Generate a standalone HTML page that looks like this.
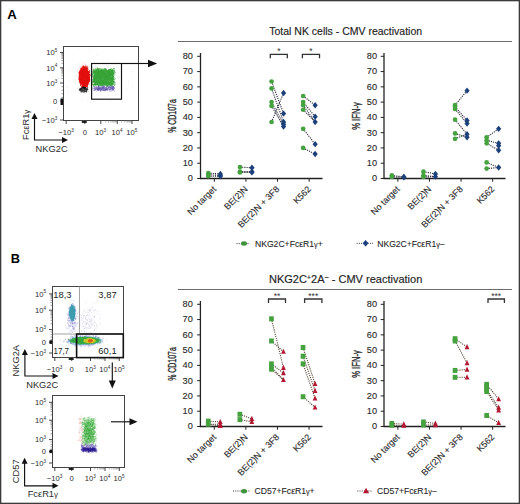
<!DOCTYPE html>
<html><head><meta charset="utf-8"><style>
html,body{margin:0;padding:0;background:#fff;width:520px;height:504px;overflow:hidden}
svg{display:block;font-family:"Liberation Sans", sans-serif}
</style></head><body>
<svg width="520" height="504" viewBox="0 0 520 504">
<defs><filter id="bl" x="-10%" y="-10%" width="120%" height="120%"><feGaussianBlur stdDeviation="0.45"/></filter><filter id="bl2" x="-10%" y="-10%" width="120%" height="120%"><feGaussianBlur stdDeviation="0.3"/></filter></defs>
<rect x="0.65" y="0.65" width="518.7" height="502.7" fill="none" stroke="#3a3a3a" stroke-width="1.3"/>
<text x="7.3" y="19.4" font-size="13.2" font-weight="bold" fill="#000">A</text>
<text x="10.8" y="262.9" font-size="12.8" font-weight="bold" fill="#000">B</text>
<path d="M85.2 71.2h.1M81.1 79.1h.1M107.7 66.3h.1M97.4 72.0h.1M116.9 67.7h.1M103.7 80.4h.1M105.5 91.0h.1M93.1 66.7h.1M76.9 68.2h.1M132.5 70.7h.1M96.3 94.7h.1M78.8 85.9h.1M118.0 62.4h.1M75.9 83.1h.1M90.7 70.5h.1M105.4 83.2h.1M97.8 88.9h.1M97.6 95.0h.1M102.3 77.4h.1M87.7 88.7h.1M98.5 72.5h.1M92.0 78.7h.1M106.1 84.5h.1M81.4 99.5h.1M87.7 85.7h.1M87.5 82.0h.1M112.3 71.1h.1M106.8 65.2h.1M126.3 88.3h.1M68.9 69.0h.1M101.8 89.3h.1M95.6 66.9h.1M98.6 72.9h.1M103.0 63.3h.1M110.3 100.7h.1M117.5 91.1h.1M98.1 102.8h.1M74.3 53.7h.1M125.6 83.4h.1M132.1 77.0h.1M78.0 87.8h.1M85.5 64.2h.1M93.0 47.8h.1M102.7 60.2h.1M107.6 59.7h.1M66.8 87.2h.1M108.1 74.6h.1M74.3 83.4h.1M118.5 73.1h.1M84.4 78.3h.1M54.7 70.5h.1M105.9 90.2h.1M112.5 83.3h.1M104.3 79.5h.1M89.7 70.4h.1M67.1 90.8h.1M93.0 69.2h.1M118.1 78.2h.1M93.9 101.2h.1M64.4 92.2h.1M68.6 87.2h.1M119.1 77.0h.1M104.1 68.6h.1M118.2 78.0h.1M99.0 77.2h.1M89.6 50.0h.1M97.2 97.9h.1M90.7 76.4h.1M82.6 81.9h.1M83.4 70.0h.1M132.5 86.6h.1M70.7 72.0h.1M89.9 66.2h.1M63.1 81.2h.1M96.6 54.8h.1M130.8 71.8h.1M92.1 77.5h.1M87.3 100.1h.1M95.4 63.9h.1M121.5 83.9h.1M102.3 70.5h.1M98.8 55.9h.1M69.5 80.1h.1M77.5 88.6h.1M77.7 70.5h.1M93.6 76.6h.1M113.9 70.3h.1M91.5 94.1h.1M128.6 81.5h.1M91.3 63.8h.1M108.8 85.7h.1M119.8 77.5h.1M93.0 70.2h.1M91.0 102.4h.1M115.2 94.0h.1M93.8 84.2h.1M93.5 77.6h.1M84.5 83.9h.1M68.3 91.0h.1M110.3 102.4h.1" stroke="#aaa" stroke-width="0.6" stroke-opacity="0.35" stroke-linecap="round" filter="url(#bl2)"/>
<path d="M80.3 72.3h.1M84.8 82.9h.1M80.6 91.3h.1M87.9 75.6h.1M83.8 72.0h.1M79.2 80.3h.1M83.5 70.0h.1M89.5 71.3h.1M82.6 68.3h.1M87.1 79.0h.1M78.8 75.2h.1M87.2 75.3h.1M92.4 84.9h.1M84.0 71.0h.1M79.9 79.8h.1M87.9 70.8h.1M79.9 83.3h.1M90.8 74.7h.1M86.9 67.4h.1M81.6 75.8h.1M87.0 69.4h.1M81.6 79.4h.1M85.0 64.6h.1M88.5 82.9h.1M82.7 75.0h.1M86.7 72.8h.1M78.3 72.1h.1M79.6 63.8h.1M89.1 75.6h.1M82.4 80.4h.1M87.5 85.6h.1M81.1 75.5h.1M80.3 66.9h.1M87.5 69.1h.1M82.5 79.7h.1M90.3 78.9h.1M79.7 73.1h.1M79.0 76.6h.1M87.8 77.7h.1M82.2 75.1h.1M92.8 79.2h.1M84.4 75.9h.1M81.5 87.0h.1M81.3 77.9h.1M87.1 80.6h.1M86.4 78.0h.1M81.2 70.3h.1M80.2 78.0h.1M90.4 71.4h.1M86.4 70.9h.1M83.1 80.6h.1M81.0 68.4h.1M89.8 73.4h.1M85.3 79.8h.1M87.9 81.7h.1M81.7 72.5h.1M80.7 79.5h.1M87.8 68.6h.1M80.2 67.7h.1M84.5 81.9h.1M88.8 78.4h.1M88.1 72.7h.1M86.2 74.4h.1M79.0 75.5h.1M89.8 84.5h.1M83.4 76.1h.1M85.1 84.2h.1M86.8 78.3h.1M91.3 71.2h.1M81.8 88.3h.1M89.3 71.8h.1M80.7 83.2h.1M82.1 71.8h.1M79.8 75.9h.1M84.7 87.5h.1M81.8 72.3h.1M87.5 79.4h.1M85.7 73.2h.1M84.4 77.0h.1M84.9 89.6h.1M83.8 69.5h.1M79.7 66.6h.1M84.0 65.9h.1M82.8 64.1h.1M90.6 68.9h.1M83.6 66.2h.1M86.6 75.4h.1M86.7 84.9h.1M88.8 76.0h.1M83.1 71.9h.1M80.3 74.7h.1M85.6 79.4h.1M82.9 70.1h.1M84.8 84.8h.1M81.4 72.2h.1M87.8 71.6h.1M88.0 74.4h.1M86.1 73.5h.1M79.0 82.6h.1M86.2 86.0h.1M85.0 66.7h.1M85.3 81.9h.1M75.6 69.9h.1M82.3 78.4h.1M85.8 72.6h.1M83.9 78.8h.1M81.5 77.2h.1M82.6 84.2h.1M89.9 81.1h.1M80.9 78.8h.1M83.9 83.4h.1M82.1 71.5h.1M79.3 80.2h.1M82.2 68.0h.1M83.4 85.2h.1M85.2 74.9h.1M81.9 87.3h.1M80.9 84.0h.1M85.2 80.0h.1M78.3 70.2h.1M89.6 83.0h.1M83.5 69.5h.1M80.1 71.6h.1M85.7 80.2h.1M76.8 81.1h.1M85.9 68.8h.1M86.8 79.3h.1M84.9 62.8h.1M82.8 80.7h.1M80.5 78.9h.1M81.0 73.1h.1M77.5 75.4h.1M85.3 72.1h.1M88.1 73.4h.1M86.8 86.0h.1M81.3 72.9h.1M83.0 82.4h.1M84.7 73.3h.1M87.3 81.2h.1M81.3 73.3h.1M87.2 75.8h.1M86.1 85.9h.1M87.9 77.9h.1M81.4 81.9h.1M81.0 72.2h.1M82.3 79.3h.1M85.6 84.0h.1M81.7 83.5h.1M89.3 83.1h.1M79.1 78.2h.1M80.2 67.2h.1M86.8 69.5h.1M86.8 71.2h.1M87.6 72.9h.1M88.6 67.7h.1M82.0 85.4h.1M80.8 77.8h.1M82.8 73.8h.1M81.5 81.2h.1M89.0 70.2h.1M86.1 73.2h.1M90.2 73.9h.1M82.1 75.5h.1M83.1 82.6h.1M85.8 67.8h.1M91.8 80.0h.1M84.0 74.0h.1M84.7 89.1h.1M87.0 84.9h.1M89.5 78.3h.1M83.3 77.1h.1M85.3 76.1h.1M88.3 67.3h.1M88.8 73.2h.1M83.0 80.1h.1M83.4 77.9h.1M83.5 68.5h.1M85.0 80.2h.1M85.3 75.4h.1M79.7 75.0h.1M83.2 89.3h.1M83.9 78.1h.1M82.1 79.2h.1M88.5 79.8h.1M87.1 73.4h.1M80.1 72.3h.1M76.1 75.3h.1M79.7 74.9h.1M86.5 84.2h.1M85.4 65.0h.1M81.5 79.9h.1M87.1 76.2h.1M88.0 71.5h.1M82.1 77.5h.1M87.8 73.1h.1M79.8 72.5h.1M84.5 81.1h.1M79.1 78.1h.1M85.6 75.0h.1M84.5 68.7h.1M82.3 79.2h.1M88.3 79.7h.1M86.2 86.6h.1M84.9 78.0h.1M82.6 83.8h.1M85.7 72.7h.1M83.3 81.5h.1M87.6 74.9h.1M80.6 69.8h.1M88.1 82.8h.1M80.3 69.1h.1M84.9 73.2h.1M83.2 83.5h.1M85.4 83.5h.1M82.8 78.4h.1M85.6 87.3h.1M80.7 84.2h.1M81.8 84.6h.1M83.2 87.2h.1M80.5 81.4h.1M89.9 79.9h.1M84.7 77.8h.1M88.0 80.4h.1M84.8 78.1h.1M80.4 79.1h.1M83.6 82.8h.1M84.6 84.3h.1M81.8 80.1h.1M82.4 82.3h.1M81.4 73.5h.1M81.0 82.8h.1M81.6 66.6h.1M84.5 86.4h.1M82.2 82.0h.1M80.4 77.9h.1M81.2 80.6h.1M86.2 81.6h.1M81.6 71.5h.1M88.7 79.3h.1M84.4 79.0h.1M79.0 79.8h.1M85.0 76.1h.1M83.2 73.8h.1M88.1 76.3h.1M83.9 63.1h.1M80.3 84.5h.1M80.1 83.4h.1M81.5 78.3h.1M88.4 87.2h.1M86.4 86.0h.1M82.7 83.8h.1M78.6 68.9h.1M79.5 90.2h.1M82.9 66.9h.1M88.2 69.1h.1M79.4 74.7h.1M78.9 76.1h.1M85.3 82.3h.1M87.4 79.9h.1M82.4 75.0h.1M86.3 72.5h.1M81.4 74.0h.1M84.0 84.2h.1M85.9 66.3h.1M79.5 77.5h.1M87.1 68.1h.1M85.0 86.2h.1M89.6 73.1h.1M78.7 79.4h.1M92.5 76.8h.1M86.0 81.2h.1M88.9 84.8h.1M78.8 78.8h.1M87.1 70.0h.1M86.1 67.2h.1M79.3 72.5h.1M87.3 78.8h.1M87.5 82.4h.1M86.6 82.0h.1M80.5 78.4h.1M86.5 76.3h.1M80.6 80.3h.1M84.9 72.9h.1M81.2 83.8h.1M80.0 75.4h.1M88.0 77.6h.1M87.6 85.5h.1M84.9 81.3h.1M81.6 76.0h.1M88.3 76.6h.1M81.9 68.8h.1M85.6 66.0h.1M78.8 81.3h.1M89.6 77.3h.1M80.2 78.2h.1M81.1 72.7h.1M82.6 87.5h.1M85.6 83.2h.1M87.2 85.8h.1M82.3 79.5h.1" stroke="#f06060" stroke-width="0.6" stroke-opacity="0.35" stroke-linecap="round" filter="url(#bl2)"/>
<path d="M81.7 82.0h.1M85.6 75.5h.1M84.8 77.8h.1M82.3 78.9h.1M83.6 72.1h.1M83.2 80.2h.1M81.2 81.9h.1M87.7 70.9h.1M81.8 75.4h.1M80.1 78.5h.1M84.2 82.3h.1M87.4 77.6h.1M81.4 72.5h.1M87.7 75.9h.1M87.8 77.6h.1M85.7 76.8h.1M82.5 69.1h.1M80.0 76.3h.1M83.2 69.9h.1M81.2 75.0h.1M83.2 73.5h.1M79.9 79.3h.1M83.9 67.4h.1M86.7 84.5h.1M84.4 77.2h.1M84.3 81.3h.1M88.8 73.8h.1M83.3 72.7h.1M83.1 73.3h.1M82.9 81.7h.1M83.1 70.3h.1M80.4 79.1h.1M80.4 71.4h.1M82.5 67.0h.1M82.4 81.1h.1M85.2 71.8h.1M87.2 75.8h.1M81.9 76.7h.1M85.7 71.9h.1M80.6 81.8h.1M87.0 80.0h.1M87.3 76.6h.1M84.2 85.3h.1M83.8 86.7h.1M86.4 69.2h.1M86.0 75.6h.1M83.6 70.3h.1M89.5 74.3h.1M81.7 82.3h.1M82.4 71.6h.1M80.7 81.7h.1M89.0 77.3h.1M82.8 74.7h.1M83.0 81.0h.1M88.4 82.5h.1M84.1 71.1h.1M85.4 69.5h.1M85.7 75.3h.1M83.2 78.0h.1M84.5 74.9h.1M82.8 75.9h.1M83.4 83.0h.1M87.4 80.2h.1M80.8 78.5h.1M87.5 84.2h.1M82.7 71.0h.1M88.0 78.9h.1M83.6 69.8h.1M84.5 80.5h.1M87.1 70.9h.1M85.1 81.2h.1M80.8 75.7h.1M78.8 73.0h.1M83.3 82.1h.1M81.1 79.7h.1M82.1 79.5h.1M82.6 76.3h.1M85.9 80.3h.1M84.7 82.6h.1M84.0 77.5h.1M87.6 76.1h.1M82.8 81.8h.1M80.7 76.9h.1M85.3 79.0h.1M80.6 80.2h.1M84.4 73.7h.1M81.8 86.5h.1M82.3 70.8h.1M82.4 74.8h.1M89.0 77.4h.1M88.1 76.2h.1M88.6 76.0h.1M80.2 79.2h.1M81.5 80.1h.1M88.9 81.9h.1M80.6 74.9h.1M85.9 74.6h.1M81.4 78.9h.1M85.4 74.6h.1M81.4 79.5h.1M82.3 71.7h.1M84.6 75.0h.1M83.3 81.4h.1M80.0 76.9h.1M80.9 83.4h.1M81.9 84.9h.1M83.6 71.7h.1M84.3 75.9h.1M80.6 71.7h.1M79.4 79.6h.1M87.4 83.9h.1M83.4 74.7h.1M86.8 81.1h.1M88.0 81.4h.1M81.9 75.7h.1M81.4 71.4h.1M82.3 82.7h.1M85.9 72.1h.1M86.4 77.4h.1M84.6 83.1h.1M83.6 83.1h.1M87.4 83.3h.1M80.5 73.7h.1M87.9 72.4h.1M84.8 77.4h.1M81.4 79.5h.1M79.0 76.3h.1M87.5 77.0h.1M88.1 80.2h.1M87.5 82.0h.1M88.5 80.1h.1M84.3 76.1h.1M85.1 68.1h.1M85.3 83.4h.1M85.3 82.6h.1M86.7 80.3h.1M80.0 74.0h.1M84.7 70.6h.1M89.4 70.9h.1M83.0 76.3h.1M81.5 71.8h.1M88.0 75.3h.1M88.9 74.6h.1M81.9 68.6h.1M86.0 69.0h.1M89.0 74.8h.1M83.5 81.8h.1M81.7 74.3h.1M80.5 81.3h.1M85.5 81.4h.1M82.2 85.9h.1M81.7 78.3h.1M84.4 82.0h.1M82.5 68.4h.1M84.4 74.9h.1M87.2 77.3h.1M88.9 76.8h.1M84.7 69.9h.1M82.9 82.0h.1M86.3 71.0h.1M87.4 79.1h.1M87.1 73.4h.1M87.4 75.8h.1M86.5 87.0h.1M84.1 67.6h.1M86.4 83.4h.1M84.7 79.7h.1M85.9 82.8h.1M81.0 72.8h.1M88.6 82.1h.1M85.0 71.0h.1M83.0 80.1h.1M88.0 75.8h.1M80.2 81.2h.1M89.2 77.5h.1M85.3 80.3h.1M86.8 79.3h.1M82.0 71.5h.1M84.5 78.3h.1M80.9 82.9h.1M83.0 80.5h.1M80.7 75.6h.1M85.7 85.6h.1M85.3 84.7h.1M85.5 80.9h.1M86.8 83.0h.1M83.3 75.2h.1M86.9 73.7h.1M84.0 78.3h.1M80.9 79.4h.1M82.5 71.6h.1M87.3 79.6h.1M85.6 70.6h.1M80.0 79.3h.1M80.6 79.6h.1M82.5 83.5h.1M86.9 68.3h.1M85.3 67.5h.1M86.5 84.1h.1M87.1 74.8h.1M84.2 70.1h.1M82.0 70.1h.1M86.2 76.0h.1M83.6 70.2h.1M87.1 82.1h.1M85.1 66.0h.1M87.5 73.6h.1M82.7 81.9h.1M84.4 84.3h.1M80.0 76.9h.1M82.5 71.4h.1M87.2 74.1h.1M81.6 70.1h.1M83.2 82.4h.1M84.4 75.4h.1M84.5 86.7h.1M83.3 81.4h.1M82.0 75.6h.1M81.7 81.6h.1M87.1 84.3h.1M79.4 72.3h.1M82.6 85.4h.1M85.7 83.3h.1M82.3 77.3h.1M82.6 83.2h.1M80.0 79.4h.1M87.7 74.9h.1M84.0 78.6h.1M82.0 77.9h.1M82.1 70.7h.1M84.2 75.2h.1M88.2 78.1h.1M87.9 80.6h.1M80.8 76.0h.1M83.9 82.1h.1M80.4 81.9h.1M84.8 71.2h.1M81.1 79.5h.1M80.7 82.7h.1M81.4 77.4h.1M87.6 73.2h.1M82.8 70.7h.1M87.9 73.2h.1M82.5 73.4h.1M87.5 77.4h.1M83.8 76.9h.1M83.7 86.4h.1M86.8 75.2h.1M86.1 70.2h.1M84.6 67.5h.1M83.0 71.8h.1M87.6 83.5h.1M88.3 75.7h.1M81.0 78.4h.1M81.6 70.8h.1M85.8 81.4h.1M86.8 75.6h.1M84.8 71.6h.1M83.0 68.6h.1M82.5 80.9h.1M82.9 72.7h.1M88.6 73.9h.1M86.0 77.2h.1M81.7 77.1h.1M87.4 71.6h.1M82.4 83.5h.1M82.1 83.9h.1M81.7 72.3h.1M83.3 75.9h.1M80.7 79.9h.1M82.4 69.4h.1M85.9 83.7h.1M82.8 82.1h.1M84.8 75.7h.1M81.2 73.6h.1M86.5 75.3h.1M86.1 78.7h.1M83.6 79.8h.1M81.4 79.4h.1M82.4 82.3h.1M86.6 78.7h.1M86.6 79.4h.1M83.6 82.4h.1M82.0 69.4h.1M81.3 81.0h.1M81.0 73.5h.1M86.6 77.9h.1M81.0 71.6h.1M86.4 67.8h.1M79.7 80.1h.1M89.8 75.6h.1M84.9 79.4h.1M83.4 82.6h.1M88.8 81.5h.1M82.7 79.0h.1M87.0 74.9h.1M81.2 74.2h.1M82.2 69.8h.1M81.8 82.5h.1M84.2 77.7h.1M83.8 76.5h.1M87.1 80.8h.1M83.6 67.9h.1M84.8 75.8h.1M83.5 78.9h.1M84.3 82.0h.1M81.5 71.7h.1M81.7 81.3h.1M84.7 84.7h.1M84.5 81.0h.1M84.8 80.1h.1M83.6 68.2h.1M81.2 81.1h.1M82.6 77.9h.1M85.9 77.3h.1M85.1 80.3h.1M81.3 77.0h.1M84.9 85.8h.1M85.5 75.1h.1M85.6 70.3h.1M84.4 69.2h.1M85.4 80.3h.1M81.0 83.4h.1M80.7 71.5h.1M84.0 80.6h.1M83.0 74.1h.1M82.1 83.1h.1M81.4 81.6h.1M85.6 84.3h.1M79.8 72.9h.1M87.0 85.0h.1M83.6 71.1h.1M83.6 80.3h.1M88.2 74.2h.1M85.8 69.8h.1M86.7 71.7h.1M87.3 70.3h.1M86.2 66.6h.1M82.5 78.9h.1M88.1 79.7h.1M82.3 74.5h.1M88.9 77.2h.1M86.0 84.1h.1M82.3 83.2h.1M84.0 80.4h.1M87.9 79.4h.1M84.4 68.5h.1M82.6 83.3h.1M80.0 78.4h.1M88.8 76.5h.1M86.0 78.2h.1M79.9 71.0h.1M85.8 78.6h.1M81.5 68.3h.1M86.5 80.7h.1M86.7 78.2h.1M86.1 81.0h.1M86.1 79.6h.1M79.0 73.0h.1M88.2 77.4h.1M81.0 78.6h.1M81.6 73.9h.1M84.5 77.8h.1M85.5 68.6h.1M84.6 71.8h.1M81.0 81.2h.1M88.9 80.0h.1M87.0 84.4h.1M84.2 69.7h.1M86.6 73.3h.1M79.8 78.4h.1M85.0 68.3h.1M82.0 78.3h.1M82.4 86.5h.1M85.6 76.8h.1M85.5 68.3h.1M80.1 80.5h.1M83.9 74.5h.1M80.4 72.0h.1M86.2 68.3h.1M83.5 75.3h.1M81.8 76.0h.1M84.3 69.4h.1M83.5 69.0h.1M85.3 78.6h.1M81.4 83.4h.1M80.9 72.1h.1M81.5 70.7h.1M88.3 76.0h.1M81.2 81.2h.1M83.0 80.2h.1M86.0 71.2h.1M84.0 82.5h.1M82.6 86.2h.1M83.2 73.9h.1M84.6 74.0h.1M81.5 78.7h.1M83.7 83.0h.1M85.4 70.2h.1M86.0 77.3h.1M83.4 76.8h.1M82.7 80.0h.1M87.4 73.3h.1M85.5 74.4h.1M85.4 79.0h.1M80.9 70.9h.1M80.8 70.5h.1M86.0 83.5h.1M83.2 69.0h.1M86.6 69.6h.1M85.3 78.6h.1M80.7 78.1h.1M82.6 83.1h.1M85.0 78.0h.1M84.2 78.3h.1M80.5 81.1h.1M84.0 83.2h.1M84.3 80.2h.1M84.8 76.1h.1M85.5 73.4h.1M86.4 69.0h.1M85.3 82.0h.1M79.9 79.2h.1M82.7 71.5h.1M80.6 78.9h.1M82.9 70.1h.1M87.1 83.1h.1M87.7 78.7h.1M87.3 69.1h.1M83.6 83.5h.1M81.0 83.5h.1M84.5 77.4h.1M88.3 82.2h.1M83.8 69.5h.1M81.5 77.3h.1M87.2 71.3h.1M86.9 85.3h.1M87.4 84.1h.1M82.7 70.9h.1M80.0 76.7h.1M82.6 79.1h.1M88.4 82.4h.1M84.9 82.8h.1M80.7 75.9h.1M86.8 76.8h.1M81.8 82.1h.1M83.6 82.3h.1M88.1 77.2h.1M81.2 76.0h.1M79.7 74.0h.1M80.2 75.0h.1M83.3 66.9h.1M80.2 73.3h.1M88.7 78.6h.1M88.1 73.2h.1M87.5 76.2h.1M83.5 73.4h.1M86.7 73.4h.1M87.5 70.4h.1M83.9 74.0h.1M80.1 75.6h.1M87.5 79.0h.1M82.5 79.6h.1M83.0 80.4h.1M82.7 72.5h.1M86.6 69.5h.1M81.8 71.2h.1M82.6 86.1h.1M84.1 72.3h.1M84.7 79.7h.1M87.7 79.5h.1M80.1 76.7h.1M83.1 83.7h.1M83.3 74.8h.1M85.8 80.9h.1M87.4 67.6h.1M87.6 78.5h.1M89.5 80.0h.1M87.6 72.7h.1M82.0 69.2h.1M88.6 79.3h.1M80.1 80.1h.1M80.4 74.6h.1M84.5 83.9h.1M83.9 70.3h.1M84.2 75.0h.1M81.8 83.4h.1M87.7 77.7h.1M81.5 69.7h.1M88.7 76.5h.1M82.2 70.1h.1M87.7 76.0h.1M80.7 70.3h.1M79.9 78.7h.1M83.1 80.4h.1M83.7 82.7h.1M82.6 81.3h.1M84.6 73.2h.1M82.1 76.3h.1M86.3 74.8h.1M83.8 84.0h.1M84.0 81.1h.1M81.4 71.2h.1M85.1 76.8h.1M85.4 68.4h.1M82.0 74.2h.1M84.4 83.8h.1M83.6 75.4h.1M81.8 75.0h.1M89.9 75.0h.1M86.0 73.3h.1M85.7 78.4h.1M81.0 75.6h.1M85.5 74.4h.1M87.5 77.9h.1M87.4 73.3h.1M82.6 70.5h.1M80.6 80.7h.1M85.8 75.0h.1M86.7 82.5h.1M88.5 75.8h.1M85.7 77.3h.1M82.9 86.9h.1M85.7 77.7h.1M86.8 76.9h.1M87.9 81.6h.1M88.6 79.2h.1M86.3 69.2h.1M87.2 75.1h.1M87.0 80.9h.1M84.9 80.0h.1M86.7 80.4h.1M81.7 72.3h.1M86.9 80.1h.1M85.4 73.5h.1M88.2 76.8h.1M88.2 73.7h.1M82.0 78.7h.1M83.6 74.4h.1M86.5 74.0h.1M87.8 77.8h.1M85.8 86.2h.1M84.3 73.6h.1M83.4 74.8h.1M82.2 69.3h.1M84.0 81.3h.1M84.5 74.2h.1M87.8 71.8h.1M85.2 85.9h.1M80.4 78.4h.1M87.3 71.9h.1M88.4 74.1h.1M84.3 74.4h.1M83.1 75.9h.1M83.4 76.9h.1M79.7 79.5h.1M80.0 73.6h.1M87.6 79.8h.1M86.7 80.7h.1M80.1 74.7h.1M79.9 71.3h.1M83.8 79.8h.1M80.2 72.1h.1M81.5 80.7h.1M87.4 77.8h.1M87.6 84.6h.1M83.1 72.9h.1M82.0 75.4h.1M85.6 71.5h.1M86.8 75.0h.1M82.9 84.5h.1M85.2 85.6h.1M84.3 74.2h.1M87.3 66.3h.1M87.4 73.1h.1M81.9 80.5h.1M86.9 70.4h.1M82.9 79.0h.1M80.1 75.4h.1M80.1 73.9h.1M83.6 76.7h.1M81.3 74.5h.1M85.1 73.3h.1M85.1 82.3h.1M85.6 82.2h.1M80.1 77.4h.1M83.2 72.4h.1M87.6 75.0h.1M82.9 86.1h.1M84.0 71.0h.1M80.0 77.2h.1M87.6 80.3h.1M81.2 70.4h.1M80.5 70.9h.1M81.1 74.8h.1M81.1 80.4h.1M82.1 77.2h.1M86.3 84.7h.1M88.7 77.9h.1M85.1 76.3h.1M80.7 79.7h.1M87.0 73.1h.1M81.2 73.5h.1M86.7 75.0h.1M87.5 72.0h.1M83.7 84.2h.1M81.1 79.6h.1M80.7 76.6h.1M86.3 76.1h.1M83.0 72.8h.1M85.8 75.2h.1M81.1 80.2h.1M81.6 73.8h.1M86.0 76.8h.1M83.9 85.9h.1M86.6 71.3h.1M84.6 78.4h.1M81.8 68.2h.1M82.1 69.7h.1M87.5 80.8h.1M82.2 76.5h.1M87.5 81.7h.1M83.1 72.0h.1M84.8 69.5h.1M79.2 79.7h.1M83.5 74.9h.1M83.0 77.0h.1M80.6 81.0h.1M80.1 70.6h.1M86.6 69.3h.1M88.2 83.1h.1M82.1 77.7h.1M86.1 70.7h.1M79.7 77.7h.1M87.7 72.5h.1M81.4 83.6h.1M83.6 77.1h.1M83.9 85.8h.1M80.6 79.2h.1M80.6 75.0h.1M84.1 81.3h.1M86.5 83.6h.1M87.0 80.6h.1M81.8 84.2h.1M88.2 78.9h.1M84.8 71.6h.1M84.9 69.6h.1M86.5 79.9h.1M80.1 77.9h.1M81.2 80.2h.1M89.4 74.7h.1M80.4 74.8h.1M83.9 84.2h.1M80.8 81.1h.1M87.3 72.4h.1M80.7 78.6h.1M85.7 66.4h.1M80.9 78.5h.1M79.8 81.0h.1M87.2 78.5h.1M88.6 82.7h.1M84.5 85.8h.1M84.6 78.9h.1M86.8 70.4h.1M82.3 79.1h.1M83.2 73.0h.1M82.6 75.0h.1M87.2 73.3h.1M86.1 86.5h.1M88.0 74.6h.1M79.8 80.5h.1M86.4 70.6h.1M80.6 79.5h.1M84.3 80.9h.1M83.1 71.1h.1M81.9 72.6h.1M86.0 74.6h.1M86.1 83.7h.1M81.8 82.0h.1M83.4 80.3h.1M82.4 72.5h.1M83.6 66.3h.1M80.0 81.7h.1M82.8 82.1h.1M87.7 81.4h.1M81.7 71.5h.1M81.4 75.1h.1M83.4 85.8h.1M83.7 82.5h.1M88.2 82.9h.1M82.9 70.2h.1M84.7 79.6h.1M86.9 80.6h.1M87.3 85.1h.1M84.8 79.2h.1M79.4 76.5h.1M83.9 76.7h.1M82.5 78.2h.1M87.8 74.2h.1M83.4 69.1h.1M82.3 74.4h.1M84.7 80.0h.1M83.6 82.4h.1M82.4 80.3h.1M85.7 75.7h.1M79.5 74.3h.1M81.2 73.6h.1M82.8 73.4h.1M81.4 76.2h.1M84.8 84.6h.1M84.1 66.8h.1M81.8 80.5h.1M83.1 83.1h.1M79.6 76.2h.1M87.5 72.8h.1M81.4 81.3h.1M80.5 76.5h.1M82.2 71.9h.1M81.9 76.9h.1M85.4 81.9h.1M82.3 72.6h.1M81.8 78.1h.1M84.2 69.5h.1M84.1 73.1h.1M84.6 75.2h.1M82.1 71.6h.1M88.1 82.6h.1M81.2 70.8h.1M86.7 68.9h.1M88.8 78.3h.1M89.5 80.5h.1M84.7 86.4h.1M88.2 71.6h.1M82.2 68.8h.1M87.3 76.2h.1M84.2 68.2h.1M86.7 73.3h.1M82.7 74.3h.1M83.7 69.2h.1M80.6 80.8h.1M83.6 70.8h.1M84.6 72.9h.1M88.3 81.4h.1M85.5 72.4h.1M88.2 79.3h.1M81.1 75.5h.1M83.1 84.2h.1M81.3 81.3h.1M82.2 75.4h.1M82.3 72.8h.1M88.3 73.1h.1M83.8 82.5h.1M85.8 78.5h.1M85.5 68.0h.1M87.8 80.1h.1M87.5 77.2h.1M80.3 79.4h.1M83.3 71.9h.1M83.2 72.1h.1M85.7 73.4h.1M87.5 79.7h.1M81.1 70.3h.1M85.6 79.2h.1M89.0 79.4h.1M85.8 76.8h.1M81.1 81.9h.1M80.7 81.8h.1M82.4 80.1h.1M85.5 84.3h.1M87.9 80.9h.1M84.8 83.6h.1M88.6 78.8h.1M83.6 80.6h.1M85.0 86.4h.1M87.7 76.0h.1M82.2 72.0h.1M85.3 84.9h.1M86.1 67.9h.1M81.5 72.9h.1M84.7 84.7h.1M84.1 76.9h.1M88.0 84.3h.1M83.7 78.1h.1M84.9 79.7h.1M85.6 82.8h.1M84.9 71.7h.1M81.6 83.0h.1M83.1 80.0h.1M82.0 75.8h.1M83.3 66.3h.1M87.3 72.2h.1M81.1 75.2h.1M81.8 78.4h.1M88.5 78.4h.1M82.7 71.5h.1M89.0 76.4h.1M80.7 72.0h.1M86.9 70.7h.1M85.9 69.5h.1M85.0 79.5h.1M82.5 76.4h.1M87.5 72.1h.1M82.4 85.2h.1M84.1 81.0h.1M87.8 81.2h.1M83.5 68.0h.1M83.8 80.7h.1M85.6 77.3h.1M83.0 76.6h.1M86.7 70.6h.1M83.6 69.4h.1M89.4 81.3h.1M87.4 85.7h.1M80.1 73.3h.1M82.3 74.3h.1M83.3 80.2h.1M85.4 76.9h.1M88.3 74.2h.1M85.5 71.4h.1M89.2 75.2h.1M83.1 77.4h.1M87.5 77.0h.1M82.5 77.0h.1M87.2 82.2h.1M87.2 82.0h.1M82.6 70.7h.1M85.0 81.7h.1M84.3 82.1h.1M84.9 71.3h.1M82.1 79.3h.1M84.1 84.5h.1M82.7 75.2h.1M85.8 80.3h.1M87.6 84.6h.1M86.6 69.3h.1M84.7 78.1h.1M84.8 79.1h.1M83.8 82.8h.1M82.8 78.9h.1M83.1 66.6h.1M88.9 74.4h.1M82.2 76.6h.1M86.4 70.9h.1M88.4 81.2h.1M84.0 68.1h.1M82.9 84.8h.1M81.7 75.0h.1M86.4 72.9h.1M87.0 78.7h.1M86.2 68.3h.1M84.6 72.4h.1M81.8 74.7h.1M82.9 71.4h.1M85.3 73.1h.1M86.4 81.5h.1M86.1 74.4h.1M83.0 68.0h.1M85.7 69.7h.1M83.0 75.2h.1M85.0 74.6h.1M81.7 78.7h.1M82.0 69.5h.1M87.4 72.7h.1M81.6 74.0h.1M88.0 69.3h.1M87.4 82.2h.1M85.4 75.7h.1M82.3 78.4h.1M80.8 80.6h.1M80.5 71.8h.1M87.3 73.8h.1M82.3 85.9h.1M85.0 72.4h.1M81.9 83.0h.1M87.2 82.8h.1M81.1 79.0h.1M83.8 87.4h.1M86.9 80.4h.1M84.1 66.8h.1M82.8 87.8h.1M80.9 69.0h.1M83.7 81.0h.1M81.5 71.2h.1M85.4 81.2h.1M85.5 71.5h.1M83.0 84.1h.1M87.4 80.6h.1M84.4 82.9h.1M79.8 77.2h.1M83.7 83.5h.1M83.9 78.8h.1M82.1 68.8h.1M87.7 77.7h.1M85.2 80.2h.1M87.2 80.8h.1M88.8 72.5h.1M89.4 79.0h.1M88.9 71.9h.1M89.3 72.2h.1M85.1 67.7h.1M87.6 73.7h.1M86.5 71.2h.1M84.6 69.0h.1M89.4 77.0h.1M88.7 78.5h.1M83.2 71.8h.1M87.8 84.1h.1M85.0 68.2h.1M84.3 68.8h.1M86.9 70.1h.1M84.2 74.8h.1M84.6 68.5h.1M82.0 73.3h.1M85.7 72.9h.1M80.8 73.9h.1M84.9 82.5h.1M89.0 78.9h.1M88.1 75.6h.1M87.6 78.5h.1M88.9 79.6h.1M89.3 78.4h.1M86.3 71.4h.1M81.7 82.2h.1M82.5 78.0h.1M82.4 70.9h.1M82.5 69.4h.1M86.0 76.8h.1M82.2 69.1h.1M87.0 74.9h.1M81.7 72.2h.1M83.0 70.5h.1M84.7 82.7h.1M87.8 73.7h.1M86.6 82.3h.1M79.9 79.2h.1M86.5 84.5h.1M80.8 80.8h.1M81.4 72.9h.1M81.3 75.0h.1M83.6 66.6h.1M84.3 74.6h.1M84.4 83.5h.1M88.8 78.5h.1M81.0 69.8h.1M82.0 80.5h.1M86.6 75.0h.1M88.0 71.7h.1M80.3 77.0h.1M84.6 70.4h.1M79.6 74.1h.1M87.1 70.8h.1M81.7 82.2h.1M79.4 75.1h.1M79.0 79.2h.1M87.3 81.5h.1M86.2 84.6h.1M82.3 73.9h.1M84.2 69.8h.1M85.4 82.4h.1M88.9 80.3h.1M82.8 75.1h.1M79.9 75.0h.1M84.8 67.9h.1M79.7 78.3h.1M82.8 77.2h.1M82.5 86.4h.1M87.1 86.3h.1M83.4 83.5h.1M81.4 76.2h.1M84.3 74.5h.1M86.1 76.0h.1M84.9 78.6h.1M83.8 79.8h.1M82.7 82.9h.1M81.6 75.9h.1M80.5 81.7h.1M83.3 80.7h.1M85.6 74.7h.1M86.7 82.8h.1M84.6 68.0h.1M82.4 77.0h.1M79.6 77.1h.1M83.6 70.3h.1M83.9 68.7h.1M87.8 80.5h.1M84.8 85.9h.1M82.7 83.5h.1M80.9 78.5h.1M85.2 82.8h.1M81.2 74.1h.1M83.5 81.8h.1M87.6 78.1h.1M87.4 76.8h.1M84.3 78.6h.1M86.7 73.7h.1M80.7 74.7h.1M80.8 69.0h.1M82.3 75.2h.1M83.2 83.9h.1M86.7 81.0h.1M84.7 76.1h.1M80.1 77.4h.1M80.4 70.5h.1M84.4 67.8h.1M86.9 76.0h.1M80.7 79.7h.1M79.8 77.3h.1M79.3 74.1h.1M79.4 73.2h.1M83.5 83.8h.1M84.1 79.3h.1M85.4 76.0h.1M83.3 83.2h.1M89.9 80.1h.1M83.7 84.4h.1M83.0 83.5h.1M83.5 85.5h.1M80.4 76.5h.1M82.3 80.2h.1M84.5 69.2h.1M84.0 85.0h.1M86.1 67.0h.1M87.2 84.3h.1M85.6 74.2h.1M84.0 72.3h.1M86.1 82.7h.1M84.9 77.8h.1M84.5 68.0h.1M82.9 71.7h.1M84.3 79.8h.1M86.9 74.8h.1M82.1 82.5h.1M86.7 70.2h.1M87.1 81.1h.1M89.3 79.0h.1M86.8 82.0h.1M85.5 85.2h.1M84.2 68.4h.1M82.8 83.0h.1M83.0 85.7h.1M85.0 79.0h.1M88.0 73.7h.1M84.8 74.9h.1M82.2 83.1h.1M83.9 69.0h.1M81.5 84.1h.1M87.0 74.8h.1M80.0 78.7h.1M83.5 70.5h.1M89.0 81.1h.1M80.1 78.1h.1M86.3 71.9h.1M80.2 75.8h.1M82.6 75.9h.1M87.0 71.4h.1M82.2 80.2h.1M84.9 82.3h.1M83.0 66.0h.1M87.4 86.4h.1M82.7 78.1h.1M85.4 85.1h.1M80.5 78.3h.1M85.7 72.5h.1M86.6 74.7h.1M83.2 79.7h.1M87.2 69.1h.1M86.7 84.3h.1M83.7 77.5h.1M83.1 73.5h.1M83.5 80.2h.1M86.9 86.1h.1M85.1 82.2h.1M86.6 83.1h.1M87.4 73.5h.1M84.5 88.0h.1M82.8 68.4h.1M87.0 73.4h.1M86.3 73.9h.1M87.2 76.1h.1M81.3 73.2h.1M83.2 72.8h.1M86.5 75.1h.1M87.4 81.5h.1M82.9 79.8h.1M85.8 78.5h.1M81.6 79.3h.1M84.9 72.3h.1M85.6 67.9h.1M82.0 83.5h.1M83.1 69.6h.1M83.4 77.5h.1M82.2 71.9h.1M87.8 79.7h.1M85.0 80.7h.1M80.5 84.2h.1M82.7 77.3h.1M79.7 74.5h.1M80.2 75.9h.1M89.9 75.2h.1M85.7 69.9h.1M80.9 80.8h.1M84.3 80.3h.1M84.0 84.9h.1M82.7 69.6h.1M86.4 85.6h.1M83.1 79.8h.1M83.5 80.0h.1M87.7 78.9h.1M86.7 83.8h.1M81.7 70.9h.1M81.5 75.3h.1M82.8 75.7h.1M86.9 80.2h.1M87.5 79.0h.1M86.1 73.0h.1M86.4 83.8h.1M85.1 73.7h.1M81.5 70.2h.1M86.8 71.9h.1M87.9 82.4h.1M85.2 83.5h.1M85.5 78.0h.1M86.3 73.7h.1M80.0 73.9h.1M79.8 71.3h.1M84.4 71.1h.1M85.6 84.7h.1M83.4 70.9h.1M79.1 78.7h.1M86.9 79.5h.1M86.7 71.4h.1M85.9 83.6h.1M87.8 83.0h.1M85.6 82.3h.1M88.9 74.0h.1M83.8 84.4h.1M81.9 70.9h.1M79.5 73.1h.1M83.1 67.6h.1M87.8 79.7h.1M84.0 82.3h.1M82.4 78.9h.1M87.5 80.9h.1M79.5 81.5h.1M85.4 82.9h.1M85.5 83.2h.1M84.7 80.2h.1M88.1 78.6h.1M84.4 77.3h.1M86.5 77.2h.1M88.4 76.1h.1M83.8 76.2h.1M83.4 73.9h.1M81.8 86.8h.1M82.4 72.3h.1M85.3 72.2h.1M88.7 74.5h.1M87.5 77.5h.1M84.0 75.8h.1M86.8 78.3h.1M85.3 80.2h.1M85.8 85.6h.1M80.6 78.6h.1M85.1 71.3h.1M85.7 76.5h.1M83.1 70.9h.1M85.5 81.1h.1M83.7 72.6h.1M80.8 77.6h.1M85.0 73.0h.1M88.5 79.4h.1M82.9 70.4h.1M82.2 81.6h.1M80.4 85.2h.1M85.2 82.3h.1M80.9 73.5h.1M82.3 82.4h.1M85.8 72.0h.1M85.9 73.3h.1M85.1 82.6h.1M89.4 78.4h.1M81.6 73.3h.1M85.6 76.6h.1M84.6 81.5h.1M84.1 84.7h.1M84.9 76.0h.1M87.0 76.8h.1M83.5 79.1h.1M80.5 73.1h.1M83.4 82.4h.1M85.6 79.4h.1M87.9 74.9h.1M80.2 79.0h.1M83.8 81.9h.1M79.5 77.1h.1M82.3 80.9h.1M87.7 78.4h.1M81.8 74.7h.1M79.6 82.0h.1M83.9 80.0h.1M88.5 74.9h.1M79.4 75.3h.1M88.0 74.3h.1M81.8 79.0h.1M81.9 82.9h.1M80.6 71.3h.1M83.6 75.6h.1M86.2 84.6h.1M86.1 70.6h.1M82.4 75.5h.1M86.8 68.8h.1M79.5 75.1h.1M87.8 75.8h.1M83.8 71.9h.1M88.0 75.1h.1M82.6 75.7h.1M85.2 84.6h.1M82.0 77.7h.1M84.5 72.1h.1M82.2 79.9h.1M84.5 86.0h.1M80.6 73.0h.1M89.6 76.3h.1M84.9 78.6h.1M84.8 79.2h.1M80.9 73.6h.1M83.1 78.7h.1M85.6 87.3h.1M82.4 85.2h.1M89.4 79.1h.1M80.5 82.8h.1M82.6 74.3h.1M79.4 72.3h.1M86.7 76.7h.1M81.6 81.3h.1M85.1 75.9h.1M80.5 74.2h.1M87.4 72.4h.1M84.6 73.0h.1M84.8 79.0h.1M82.1 67.4h.1M80.3 74.0h.1M82.5 72.6h.1M88.3 80.3h.1M88.5 74.1h.1M80.7 79.0h.1M79.5 74.9h.1M86.8 68.5h.1M86.9 77.3h.1M86.6 80.5h.1M86.3 73.2h.1M85.8 80.5h.1M83.6 78.0h.1M85.1 81.3h.1M88.6 76.3h.1M89.5 71.0h.1M84.3 85.0h.1M81.6 83.1h.1M85.5 81.5h.1M81.5 81.3h.1M88.8 79.0h.1M85.1 68.9h.1M85.7 72.8h.1M87.8 75.7h.1M87.2 77.0h.1M89.0 79.7h.1M83.2 80.4h.1M84.6 80.5h.1M82.7 75.7h.1M86.9 74.6h.1M88.0 80.5h.1M85.5 81.6h.1M83.9 78.5h.1M80.1 80.4h.1M87.4 73.0h.1M87.9 79.3h.1M83.0 75.0h.1M82.0 76.8h.1M79.4 80.6h.1M79.5 78.2h.1M85.1 84.8h.1M89.3 79.2h.1M82.1 69.6h.1M83.7 67.8h.1M88.4 76.5h.1M84.1 79.4h.1M87.4 71.3h.1M86.5 84.5h.1M88.4 71.7h.1M85.9 86.2h.1M80.0 83.1h.1M80.6 70.6h.1M82.6 73.6h.1M80.3 71.3h.1M86.8 77.3h.1M88.8 75.0h.1M81.5 81.1h.1M86.4 78.4h.1M81.5 73.4h.1M84.7 79.2h.1M84.5 74.1h.1M83.5 68.1h.1M80.6 75.3h.1M87.9 80.0h.1M85.7 70.1h.1M82.6 84.3h.1M80.9 73.4h.1M82.8 69.8h.1M87.2 82.6h.1M88.1 72.5h.1M88.6 76.8h.1M81.5 79.9h.1M80.6 84.0h.1M80.5 74.7h.1M84.9 76.1h.1M87.1 80.0h.1M81.2 75.9h.1M86.2 74.3h.1M86.6 68.5h.1M83.7 84.3h.1M83.6 78.3h.1M89.4 79.1h.1M86.1 68.4h.1M87.0 77.1h.1M87.7 80.9h.1M82.4 85.0h.1M83.7 76.7h.1M85.4 85.1h.1M83.5 82.5h.1M87.4 79.8h.1M87.2 78.7h.1M84.3 77.8h.1M82.3 74.7h.1M84.6 85.0h.1M83.2 83.3h.1M84.4 84.3h.1M79.4 79.7h.1M84.6 82.5h.1M79.9 78.6h.1M81.4 68.8h.1M82.5 69.4h.1M84.6 73.1h.1M82.8 79.0h.1M81.8 74.6h.1M83.3 68.7h.1M84.2 84.1h.1M79.5 77.7h.1M84.1 76.3h.1M86.0 72.0h.1M79.7 72.7h.1M87.1 74.7h.1M81.3 78.6h.1M88.1 79.2h.1M87.4 68.3h.1M83.1 75.9h.1M85.2 85.6h.1M83.6 69.9h.1M86.7 84.8h.1M84.9 77.0h.1M80.8 81.5h.1M86.7 81.1h.1M80.7 77.0h.1M83.8 77.4h.1M80.4 71.1h.1M83.3 76.4h.1M82.6 74.4h.1M86.5 77.6h.1M86.0 75.6h.1M85.0 82.0h.1M80.7 85.7h.1M85.4 71.9h.1M84.7 73.4h.1M87.0 80.5h.1M84.9 71.1h.1M88.5 72.2h.1M81.5 79.2h.1M83.8 78.7h.1M86.8 71.0h.1M88.2 76.3h.1M83.1 82.8h.1M80.3 71.8h.1M80.5 75.1h.1M81.1 69.3h.1M87.8 79.3h.1M84.9 84.1h.1M84.2 79.9h.1M80.6 83.4h.1M82.6 81.5h.1M78.8 77.9h.1M85.6 78.3h.1M86.0 73.8h.1M86.7 72.8h.1M83.4 81.4h.1M80.8 77.7h.1M83.1 70.8h.1M81.3 79.3h.1M85.3 84.7h.1M82.7 83.4h.1M80.9 84.9h.1M82.5 74.3h.1M81.7 75.2h.1M85.8 68.2h.1M82.3 71.0h.1M87.5 79.5h.1M83.7 83.9h.1M83.7 77.6h.1M85.7 76.5h.1M82.5 71.8h.1M81.8 72.7h.1M85.7 80.6h.1M87.3 76.1h.1M80.6 76.3h.1M81.7 81.3h.1M82.2 80.3h.1M83.3 71.1h.1M80.4 82.5h.1M87.2 83.0h.1M83.8 68.7h.1M87.6 79.1h.1M84.4 86.5h.1M82.7 71.1h.1M84.1 79.9h.1M86.9 68.7h.1M88.4 78.4h.1M82.3 74.1h.1M88.6 80.9h.1M86.2 77.6h.1M86.1 86.2h.1M84.3 79.6h.1M82.3 79.3h.1M84.7 79.5h.1M88.6 75.6h.1M85.2 71.9h.1M82.4 85.3h.1M86.3 76.7h.1M82.9 78.3h.1M79.6 82.1h.1M83.4 70.1h.1M82.3 81.1h.1M81.2 73.7h.1M85.6 80.1h.1M84.8 86.6h.1M86.7 81.0h.1M87.3 75.7h.1M82.5 83.4h.1M83.3 72.1h.1M81.5 83.5h.1M81.9 77.2h.1M86.1 77.0h.1M87.3 71.8h.1M82.8 85.2h.1M80.8 80.3h.1M88.0 72.2h.1M81.7 83.4h.1M83.2 77.6h.1M83.5 71.7h.1M85.2 83.9h.1M84.5 72.1h.1M86.0 83.9h.1M86.3 72.8h.1M83.4 68.8h.1M84.8 83.9h.1M86.1 84.6h.1M81.4 70.6h.1M81.9 73.2h.1M81.0 68.5h.1M87.2 76.1h.1M85.8 84.8h.1M85.1 71.6h.1M83.1 68.1h.1M84.3 71.8h.1M85.9 83.5h.1M85.8 80.2h.1M85.0 80.5h.1M86.9 78.0h.1M86.0 79.7h.1M88.0 81.8h.1M88.4 79.9h.1M79.8 81.5h.1M80.1 76.8h.1M80.5 72.8h.1M86.9 74.9h.1M82.3 73.9h.1M83.9 80.9h.1M89.6 79.8h.1M79.8 71.5h.1M82.8 84.5h.1M89.3 75.0h.1M82.7 77.1h.1M80.7 84.8h.1M87.0 79.1h.1M85.4 75.0h.1M84.0 85.1h.1M79.4 72.7h.1M89.4 72.6h.1M83.2 67.2h.1M86.5 74.4h.1M85.8 85.0h.1M85.7 76.3h.1M88.9 79.1h.1" stroke="#e3140f" stroke-width="0.9" stroke-opacity="0.9" stroke-linecap="round" filter="url(#bl2)"/>
<path d="M85.3 88.1h.1M81.0 88.5h.1M85.6 90.4h.1M84.7 89.1h.1M82.4 87.7h.1M83.5 87.5h.1M82.5 90.6h.1M81.5 90.1h.1M83.2 88.2h.1M80.8 88.2h.1M82.8 87.0h.1M81.5 89.8h.1M83.5 91.1h.1M81.7 89.7h.1M86.6 88.7h.1M86.5 89.0h.1M85.3 89.6h.1M86.1 90.1h.1M81.7 89.4h.1M86.9 89.2h.1M84.1 87.6h.1M82.6 89.6h.1M80.9 89.1h.1M80.1 89.5h.1M85.8 89.2h.1M80.6 88.9h.1M83.4 87.8h.1M81.4 91.7h.1M83.7 87.0h.1M83.5 90.0h.1M85.0 88.2h.1M84.2 88.3h.1M83.2 88.1h.1M83.4 87.6h.1M84.9 90.8h.1M83.8 91.9h.1M83.9 88.8h.1M85.1 88.4h.1M84.5 89.3h.1M83.7 90.3h.1M84.8 87.7h.1M85.4 88.5h.1M87.1 88.8h.1M84.8 90.7h.1M81.1 90.0h.1M81.3 88.5h.1M85.7 90.9h.1M86.1 89.6h.1M85.6 89.7h.1M83.4 90.9h.1M82.8 89.0h.1M84.5 88.3h.1M85.3 87.5h.1M83.6 89.6h.1M84.1 88.5h.1M84.6 88.7h.1M84.6 87.9h.1M82.3 89.4h.1M84.4 89.6h.1M82.6 90.2h.1M81.8 90.0h.1M85.8 89.5h.1M81.8 88.8h.1M82.1 88.4h.1M84.7 89.8h.1M86.1 89.3h.1M81.1 89.9h.1M87.0 90.0h.1M85.0 88.3h.1M86.3 90.4h.1M84.4 87.9h.1M85.7 88.6h.1M84.5 90.7h.1M82.5 88.5h.1M83.2 89.5h.1M81.9 90.9h.1M83.6 89.8h.1M84.3 89.7h.1M83.0 87.7h.1M85.9 90.8h.1M82.3 90.0h.1M82.0 90.6h.1M81.9 89.8h.1M85.8 90.2h.1M85.0 87.7h.1M81.0 90.4h.1M84.0 90.0h.1M83.2 88.2h.1M84.4 89.6h.1M85.3 89.0h.1M82.5 90.1h.1M85.7 88.8h.1M81.7 90.1h.1M82.6 88.5h.1M81.2 88.8h.1M79.7 90.1h.1M85.4 90.8h.1M84.2 87.8h.1M85.4 89.1h.1M83.8 88.8h.1M83.6 90.8h.1M80.4 90.3h.1M83.0 88.7h.1M84.0 91.3h.1M79.6 90.3h.1M82.7 90.9h.1M81.5 89.8h.1M81.4 90.8h.1M81.7 88.3h.1M84.3 90.3h.1M85.8 88.9h.1M85.4 90.6h.1M84.6 90.3h.1M82.2 91.5h.1M82.4 89.5h.1M86.0 87.8h.1M82.1 90.4h.1M84.0 91.2h.1M86.6 88.7h.1M86.0 90.6h.1M82.8 91.1h.1M86.7 89.5h.1M81.3 90.1h.1M79.4 89.1h.1M85.6 88.4h.1M82.2 90.4h.1M82.2 90.4h.1M81.2 89.3h.1M84.1 88.5h.1M83.0 91.3h.1M84.5 89.6h.1M86.2 88.9h.1M83.0 89.3h.1M80.6 90.5h.1M82.0 90.0h.1M84.8 90.0h.1M80.2 90.2h.1M86.0 91.6h.1M83.8 89.1h.1M83.3 90.5h.1M83.4 90.3h.1M83.6 88.5h.1M84.1 91.5h.1M86.1 89.8h.1M80.6 90.3h.1M86.0 91.2h.1M80.8 89.4h.1M86.3 89.2h.1M82.3 90.7h.1M82.8 89.1h.1M86.8 89.3h.1M82.0 88.1h.1M83.6 87.3h.1M85.0 88.0h.1M85.4 90.0h.1M84.7 87.6h.1M82.4 89.4h.1M85.4 89.9h.1M85.5 90.6h.1M80.6 90.9h.1M84.3 89.5h.1M83.6 87.2h.1M82.1 88.8h.1M85.5 89.8h.1M83.6 88.4h.1M83.8 89.5h.1M81.4 88.4h.1M87.7 89.5h.1M81.5 88.4h.1M81.2 91.0h.1M84.9 89.8h.1M82.5 88.1h.1M84.0 91.8h.1M81.8 88.9h.1M84.7 88.4h.1M84.1 91.0h.1M82.2 91.4h.1M84.8 88.1h.1M82.8 88.4h.1M84.6 89.9h.1M85.5 91.5h.1M81.3 87.9h.1M86.0 88.9h.1M84.7 91.2h.1M85.3 90.1h.1M85.8 88.8h.1M83.6 88.6h.1M85.6 90.4h.1M82.3 89.2h.1M87.4 89.7h.1M86.5 89.9h.1M83.1 91.7h.1M84.8 91.0h.1M83.7 90.8h.1M84.9 88.1h.1M86.8 88.8h.1M80.8 89.2h.1M82.3 88.3h.1M83.2 90.0h.1M83.6 87.8h.1M87.1 89.2h.1M83.3 88.3h.1M82.0 88.1h.1M86.1 89.1h.1M85.4 88.0h.1M83.7 90.1h.1M86.1 89.1h.1M84.0 88.7h.1M86.3 91.9h.1M84.8 90.3h.1M87.4 87.6h.1M84.0 87.7h.1M85.2 87.3h.1M86.2 88.5h.1M85.8 90.5h.1M80.2 89.7h.1M85.7 89.5h.1M80.0 90.4h.1M83.1 90.5h.1M84.6 88.3h.1M82.5 90.1h.1M81.3 91.8h.1M82.0 88.6h.1M84.6 89.4h.1M84.5 88.7h.1M84.7 87.5h.1M86.4 91.8h.1M85.6 88.8h.1M84.2 91.4h.1M85.3 90.9h.1M81.1 88.5h.1M80.7 89.7h.1M82.1 89.6h.1M83.1 89.6h.1M82.3 89.8h.1M86.2 90.6h.1M85.0 89.8h.1M80.7 89.8h.1M85.3 87.9h.1M83.4 91.7h.1M82.3 90.0h.1M85.6 88.3h.1M84.2 90.5h.1M84.0 88.4h.1M86.5 88.9h.1M79.9 88.8h.1M84.8 89.4h.1M86.4 89.8h.1M81.4 89.2h.1M85.2 87.9h.1M82.8 90.3h.1M83.8 87.5h.1M81.6 89.5h.1M83.9 89.6h.1M82.4 89.1h.1M84.8 87.9h.1M83.4 88.1h.1M85.0 90.5h.1M81.6 90.1h.1M84.9 91.3h.1" stroke="#111" stroke-width="0.8" stroke-opacity="0.85" stroke-linecap="round" filter="url(#bl2)"/>
<path d="M81.0 91.9h.1M84.8 92.6h.1M83.6 89.9h.1M82.8 91.7h.1M84.3 90.9h.1M81.0 92.6h.1M85.8 88.6h.1M86.7 89.3h.1M84.3 89.8h.1M81.5 89.3h.1M80.4 90.9h.1M81.6 90.5h.1M83.5 91.6h.1M85.3 90.0h.1M84.9 88.2h.1M81.0 89.9h.1M83.5 90.3h.1M83.7 92.5h.1M83.8 91.3h.1M85.3 90.5h.1M81.2 91.8h.1M87.9 91.4h.1M85.2 93.0h.1M81.7 88.7h.1M83.0 88.9h.1M86.5 88.5h.1M80.9 90.4h.1M78.3 89.7h.1M83.3 90.3h.1M83.5 91.4h.1M84.0 91.9h.1M86.7 89.6h.1M87.5 90.3h.1M82.6 89.7h.1M80.1 91.0h.1M83.0 89.5h.1M83.8 92.6h.1M84.5 92.6h.1M82.9 89.8h.1M83.3 88.4h.1M83.0 89.9h.1M82.3 91.2h.1M82.6 88.9h.1M82.1 90.7h.1M82.9 91.4h.1M82.0 92.2h.1M84.5 90.8h.1M88.3 91.9h.1M85.1 89.9h.1M85.3 90.2h.1M80.8 92.2h.1M79.2 90.6h.1M82.7 92.4h.1M85.7 90.4h.1M85.6 91.0h.1M84.9 90.1h.1M85.6 91.4h.1M86.3 90.6h.1M86.9 91.4h.1M83.9 89.8h.1" stroke="#888" stroke-width="0.6" stroke-opacity="0.5" stroke-linecap="round" filter="url(#bl2)"/>
<path d="M109.6 77.9h.1M101.9 77.2h.1M95.3 83.1h.1M98.7 80.0h.1M102.8 70.9h.1M100.6 75.7h.1M102.3 72.6h.1M110.4 82.2h.1M105.0 70.2h.1M101.1 79.2h.1M98.0 80.5h.1M95.6 73.3h.1M96.8 78.2h.1M102.6 82.6h.1M95.5 73.3h.1M93.9 80.0h.1M98.3 84.9h.1M105.9 81.5h.1M100.5 79.8h.1M104.2 74.1h.1M99.0 72.2h.1M96.7 69.9h.1M102.4 78.4h.1M94.6 71.3h.1M112.8 79.6h.1M104.5 74.7h.1M108.8 75.9h.1M97.5 76.1h.1M99.1 72.7h.1M108.9 74.5h.1M111.8 74.0h.1M107.5 81.3h.1M106.5 73.8h.1M100.9 74.0h.1M97.8 71.1h.1M103.2 85.2h.1M104.3 82.7h.1M103.1 76.1h.1M98.6 74.0h.1M104.2 70.2h.1M97.6 69.3h.1M97.7 73.6h.1M100.7 80.4h.1M97.6 81.2h.1M114.5 83.9h.1M99.6 72.7h.1M94.2 71.7h.1M94.9 72.4h.1M109.9 83.2h.1M97.0 82.9h.1M101.4 82.2h.1M111.9 79.3h.1M98.6 69.5h.1M100.9 71.5h.1M112.0 76.0h.1M97.7 79.4h.1M107.2 83.1h.1M112.1 81.1h.1M97.3 76.9h.1M98.2 69.9h.1M105.2 75.9h.1M111.1 75.7h.1M95.5 78.0h.1M107.5 85.8h.1M100.6 75.1h.1M100.5 81.9h.1M106.4 69.9h.1M97.0 74.4h.1M106.8 77.1h.1M105.9 74.5h.1M103.5 76.6h.1M103.6 83.6h.1M107.1 71.7h.1M99.9 72.2h.1M94.0 74.5h.1M102.5 74.3h.1M101.8 78.9h.1M96.8 70.3h.1M111.5 83.0h.1M98.5 81.2h.1M106.7 74.8h.1M112.0 83.9h.1M101.5 79.7h.1M106.7 77.0h.1M109.3 82.6h.1M96.1 78.9h.1M107.2 81.4h.1M101.2 70.9h.1M99.5 71.0h.1M95.6 75.1h.1M96.4 76.7h.1M107.3 75.7h.1M102.1 85.4h.1M100.0 70.9h.1M95.6 76.3h.1M99.6 77.3h.1M110.9 74.5h.1M97.0 69.4h.1M107.7 70.7h.1M112.4 79.1h.1M95.0 74.5h.1M112.4 79.1h.1M105.2 79.6h.1M114.0 68.6h.1M103.3 71.8h.1M109.6 82.8h.1M109.1 71.3h.1M100.5 73.8h.1M96.3 81.7h.1M104.4 77.4h.1M99.0 83.2h.1M110.2 69.4h.1M95.0 75.3h.1M97.6 80.1h.1M101.8 80.4h.1M108.9 78.2h.1M108.0 74.0h.1M97.7 72.4h.1M101.1 78.3h.1M96.3 77.2h.1M110.7 75.0h.1M97.1 70.6h.1M101.6 71.8h.1M97.8 78.1h.1M112.6 69.5h.1M107.0 80.3h.1M111.7 71.0h.1M108.0 78.8h.1M106.8 82.5h.1M107.7 78.8h.1M97.6 76.6h.1M111.6 85.6h.1M106.2 75.9h.1M93.6 72.8h.1M112.6 83.0h.1M108.0 79.7h.1M110.4 81.2h.1M95.8 71.8h.1M104.6 71.0h.1M115.3 78.8h.1M114.2 77.4h.1M96.0 75.0h.1M93.6 86.5h.1M103.2 80.8h.1M93.4 84.9h.1M105.9 74.8h.1M104.9 75.3h.1M97.7 79.7h.1M105.7 73.6h.1M105.9 82.8h.1M97.0 80.0h.1M113.3 77.0h.1M103.0 80.6h.1M107.7 84.2h.1M102.6 73.0h.1M105.6 84.9h.1M98.5 80.3h.1M111.0 73.2h.1M95.0 83.5h.1M97.3 76.2h.1M96.2 82.6h.1M103.8 74.1h.1M107.7 77.2h.1M96.9 78.9h.1M99.5 80.4h.1M109.6 75.7h.1M95.7 70.7h.1M109.4 77.1h.1M94.1 80.6h.1M109.2 76.5h.1M106.2 78.8h.1M94.1 76.2h.1M100.1 72.5h.1M105.1 73.8h.1M98.2 83.6h.1M111.0 79.1h.1M104.2 72.0h.1M99.3 80.4h.1M98.5 77.8h.1M115.4 84.0h.1M111.3 81.6h.1M110.5 84.0h.1M97.9 75.5h.1M100.0 83.7h.1M91.9 82.4h.1M93.5 72.0h.1M113.7 68.5h.1M93.3 72.4h.1M108.9 71.3h.1M105.0 85.1h.1M94.2 81.0h.1M100.6 82.0h.1M93.3 69.4h.1M98.5 83.2h.1M106.5 74.0h.1M110.0 80.3h.1M101.7 71.3h.1M94.6 72.6h.1M102.9 74.3h.1M100.4 77.1h.1M108.1 78.7h.1M95.1 75.4h.1M94.8 76.0h.1M102.5 71.4h.1M96.7 73.2h.1M95.3 73.5h.1M106.9 82.8h.1M105.6 71.6h.1M100.4 76.8h.1M92.3 84.4h.1M105.4 71.4h.1M109.9 78.5h.1M98.9 85.8h.1M102.4 74.2h.1M110.3 83.0h.1M101.1 84.0h.1M97.3 81.5h.1M97.8 75.4h.1M110.4 84.0h.1M94.8 78.1h.1M108.4 70.4h.1M94.2 78.6h.1M99.2 74.6h.1M96.7 84.9h.1M102.3 80.8h.1M101.9 73.1h.1M95.0 84.7h.1M104.8 76.0h.1M96.3 77.4h.1M110.8 82.4h.1M110.0 75.5h.1M107.2 83.1h.1M112.4 82.2h.1M114.6 85.3h.1M100.6 80.5h.1M101.7 83.1h.1M94.8 76.3h.1M99.2 71.8h.1M93.9 79.2h.1M109.7 76.0h.1M110.4 74.4h.1M98.2 81.5h.1M101.3 81.1h.1M113.3 83.2h.1M94.9 74.3h.1M101.5 75.2h.1M104.4 71.5h.1M97.3 84.7h.1M103.3 70.6h.1M97.7 73.4h.1M110.3 82.5h.1M107.8 72.1h.1M104.9 82.4h.1M109.1 84.9h.1M102.9 77.3h.1M105.5 84.3h.1M99.3 72.7h.1M96.6 73.5h.1M105.4 78.9h.1M107.2 76.1h.1M114.2 73.2h.1M112.0 78.2h.1M96.4 77.1h.1M96.6 82.2h.1M100.9 75.3h.1M113.1 72.3h.1M112.4 76.2h.1M93.2 82.0h.1M109.1 84.1h.1M101.9 70.7h.1M97.2 67.2h.1M96.7 70.4h.1M100.1 75.4h.1M107.1 73.6h.1M112.9 77.4h.1M112.5 82.6h.1M101.7 82.6h.1M106.6 75.0h.1M103.3 84.0h.1M101.1 80.1h.1M108.6 76.9h.1M113.1 72.3h.1M94.9 79.6h.1M103.0 70.7h.1M105.5 76.3h.1M110.1 82.0h.1M101.5 69.6h.1M99.9 71.3h.1M100.6 80.0h.1M111.0 79.2h.1M114.0 75.8h.1M109.7 80.3h.1M93.3 72.9h.1M95.3 68.4h.1M104.2 78.8h.1M110.9 78.5h.1M97.7 77.2h.1M113.0 76.2h.1M96.2 77.8h.1M111.9 70.6h.1M112.7 84.6h.1M100.8 85.1h.1M93.8 78.2h.1M101.7 78.2h.1M109.3 71.3h.1M101.8 74.0h.1M111.7 82.7h.1M97.4 82.3h.1M97.7 79.9h.1M108.1 80.7h.1M106.3 77.5h.1M96.5 78.5h.1M101.5 76.4h.1M102.7 72.8h.1M102.2 83.2h.1M111.0 83.1h.1M105.5 70.3h.1M97.3 77.9h.1M110.2 69.3h.1M111.3 79.1h.1M113.0 79.1h.1M93.5 77.6h.1M102.5 84.0h.1M93.3 78.3h.1M100.7 71.4h.1M108.7 82.7h.1M101.6 72.6h.1M105.1 82.3h.1M103.2 72.5h.1M98.6 77.4h.1M94.0 72.1h.1M102.3 78.4h.1M101.3 72.8h.1M96.4 75.2h.1M98.4 76.7h.1M106.5 73.8h.1M109.9 72.7h.1M104.6 77.4h.1M103.3 73.4h.1M111.0 81.4h.1M93.6 73.3h.1M109.3 73.5h.1M107.1 76.2h.1M106.5 83.6h.1M97.5 72.4h.1M102.2 69.1h.1M101.5 74.0h.1M98.5 81.1h.1M97.3 82.2h.1M109.1 83.6h.1M104.5 76.8h.1M110.4 80.2h.1M109.5 78.4h.1M94.5 75.3h.1M111.3 83.7h.1M94.8 70.1h.1M109.0 84.5h.1M94.0 79.2h.1M108.1 80.4h.1M111.2 74.4h.1M111.3 84.1h.1M99.7 79.5h.1M96.5 85.0h.1M98.4 76.3h.1M101.7 71.5h.1M102.1 74.3h.1M111.0 70.7h.1M100.3 83.1h.1M101.8 77.7h.1M101.7 84.9h.1M106.2 74.8h.1M111.9 73.7h.1M97.9 68.8h.1M98.1 77.9h.1M99.3 73.1h.1M114.3 82.2h.1M112.3 69.6h.1M96.3 76.5h.1M107.4 76.3h.1M106.9 76.2h.1M108.3 82.7h.1M110.3 73.9h.1M108.9 74.5h.1M101.0 70.7h.1M99.2 69.4h.1M109.0 82.4h.1M93.9 75.8h.1M109.7 71.7h.1M94.1 72.3h.1M103.8 73.7h.1M97.8 81.6h.1M102.3 72.5h.1M96.8 78.1h.1M93.5 80.7h.1M111.9 78.7h.1M104.2 83.2h.1M97.2 72.3h.1M107.6 82.8h.1M107.5 73.5h.1M103.5 82.0h.1M104.0 84.9h.1M95.4 72.0h.1M111.5 74.9h.1M108.7 82.9h.1M103.0 73.8h.1M101.7 70.2h.1M112.1 81.4h.1M100.4 71.8h.1M111.7 71.8h.1M102.4 80.6h.1M112.5 73.6h.1M101.0 78.7h.1M111.2 77.3h.1M103.5 75.7h.1M97.4 75.1h.1M101.0 73.9h.1M104.0 81.6h.1M112.0 79.3h.1M98.9 81.0h.1M100.3 69.3h.1M99.7 70.5h.1M105.4 80.3h.1M113.3 73.6h.1M98.8 85.3h.1M109.8 83.7h.1M103.3 83.2h.1M93.3 84.8h.1M103.8 79.7h.1M95.5 75.4h.1M101.2 81.9h.1M108.6 84.6h.1M96.7 72.6h.1M99.3 79.2h.1M94.9 84.1h.1M110.7 77.9h.1M94.5 78.8h.1M111.1 70.7h.1M96.0 84.7h.1M95.2 80.8h.1M103.2 70.2h.1M104.0 78.2h.1M109.5 83.1h.1M103.2 74.8h.1M104.6 80.7h.1M99.1 82.4h.1M106.1 69.3h.1M100.4 75.7h.1M100.6 74.9h.1M104.2 82.6h.1M100.4 75.7h.1M110.7 78.3h.1M109.0 79.6h.1M112.2 76.8h.1M99.6 73.8h.1M100.7 82.6h.1M107.2 81.2h.1M92.7 74.3h.1M112.5 73.1h.1M106.7 82.7h.1M103.5 80.1h.1M98.9 84.4h.1M98.6 82.5h.1M110.3 84.3h.1M110.5 69.7h.1M106.1 71.8h.1M100.7 82.8h.1M105.8 77.3h.1M103.3 82.0h.1M103.4 70.9h.1M94.8 78.5h.1M95.2 83.8h.1M107.0 80.8h.1M109.5 82.9h.1M101.9 84.0h.1M101.3 75.4h.1M96.1 71.0h.1M94.2 79.4h.1M104.5 68.4h.1M98.9 71.9h.1M111.0 72.6h.1M105.3 71.2h.1M102.1 77.0h.1M91.4 72.0h.1M103.4 72.0h.1M105.1 74.8h.1M101.0 85.2h.1M111.5 85.1h.1M111.5 80.7h.1M112.4 76.2h.1M94.7 70.3h.1M102.9 77.2h.1M94.0 84.0h.1M108.4 73.9h.1M112.8 83.3h.1M110.9 70.4h.1M109.5 75.3h.1M106.2 81.0h.1M108.5 75.3h.1M94.0 74.0h.1M102.5 70.4h.1M102.3 72.7h.1M99.5 83.7h.1M98.1 81.0h.1M104.4 73.2h.1M112.1 77.4h.1M108.7 80.8h.1M100.7 72.8h.1M107.0 84.6h.1M110.7 85.3h.1M104.1 73.3h.1M105.6 74.2h.1M105.5 77.7h.1M104.6 70.5h.1M97.2 76.5h.1M110.8 75.4h.1M94.6 72.2h.1M100.2 78.0h.1M105.6 83.6h.1M110.5 73.5h.1M111.1 77.7h.1M97.1 77.5h.1M112.1 84.1h.1M99.4 74.7h.1M107.1 78.7h.1M99.6 70.1h.1M101.2 70.4h.1M103.7 70.1h.1M108.3 83.8h.1M96.8 82.7h.1M106.2 72.2h.1M108.5 77.1h.1M112.1 82.1h.1M106.1 72.0h.1M95.7 74.7h.1M100.2 78.4h.1M112.7 85.2h.1M99.6 79.4h.1M104.7 81.7h.1M107.0 82.3h.1M110.9 82.6h.1M107.2 76.0h.1M98.1 79.4h.1M98.6 79.2h.1M111.4 75.0h.1M101.8 71.2h.1M104.1 81.0h.1M111.0 71.0h.1M105.5 77.3h.1M106.4 74.6h.1M97.0 74.6h.1M112.0 79.7h.1M94.3 72.1h.1M102.5 69.9h.1M102.8 82.7h.1M113.6 84.4h.1M110.4 81.1h.1M99.8 77.4h.1M101.7 73.3h.1M104.2 69.5h.1M111.2 85.3h.1M101.1 82.9h.1M110.1 73.2h.1M95.6 74.0h.1M107.7 80.6h.1M96.9 71.4h.1M98.8 79.3h.1M96.7 77.0h.1M98.7 74.1h.1M113.0 82.3h.1M102.1 75.5h.1M100.0 71.4h.1M96.6 75.3h.1M99.6 75.8h.1M110.7 76.9h.1M96.0 76.1h.1M107.1 82.1h.1M112.3 71.6h.1M111.1 72.5h.1M106.0 85.7h.1M106.3 77.7h.1M96.9 81.8h.1M101.1 80.9h.1M112.1 84.8h.1M110.8 80.3h.1M103.9 81.2h.1M109.2 84.1h.1M106.3 79.1h.1M105.2 83.1h.1M95.9 69.6h.1M100.7 71.6h.1M103.8 74.2h.1M91.9 81.9h.1M109.6 71.8h.1M104.5 79.6h.1M101.9 85.4h.1M100.7 73.0h.1M96.9 75.7h.1M110.2 77.7h.1M106.5 75.3h.1M108.3 81.9h.1M95.4 83.2h.1M107.1 75.3h.1M103.6 73.3h.1M99.6 76.7h.1M95.9 79.2h.1M104.0 85.0h.1M113.4 77.2h.1M103.5 82.5h.1M99.1 74.1h.1M95.0 75.6h.1M105.7 74.7h.1M99.4 70.4h.1M109.7 78.4h.1M99.9 78.0h.1M103.7 82.3h.1M103.3 74.4h.1M105.3 80.6h.1M110.6 74.2h.1M107.5 79.3h.1M104.2 83.5h.1M113.5 78.0h.1M100.3 83.2h.1M100.9 78.5h.1M94.9 78.6h.1M110.3 84.5h.1M111.3 82.6h.1M96.6 84.1h.1M111.4 78.2h.1M112.1 83.7h.1M93.6 81.6h.1M111.1 79.1h.1M95.0 74.6h.1M102.1 86.0h.1M111.9 72.8h.1M100.6 70.7h.1M93.5 77.2h.1M99.9 79.8h.1M104.1 80.9h.1M99.3 77.7h.1M105.9 78.1h.1M113.8 82.8h.1M110.5 80.6h.1M94.2 82.3h.1M111.3 79.0h.1M108.0 78.2h.1M110.4 82.0h.1M102.7 72.5h.1M93.7 69.1h.1M113.0 77.0h.1M100.8 87.2h.1M111.1 71.3h.1M95.4 83.2h.1M108.1 71.6h.1M98.2 71.1h.1M100.2 76.9h.1M100.3 80.3h.1M99.1 74.0h.1M99.2 84.9h.1M104.0 80.5h.1M111.1 69.7h.1M99.5 83.0h.1M113.0 79.3h.1M108.9 71.4h.1M109.8 71.2h.1M109.4 72.4h.1M107.7 76.4h.1M113.1 70.8h.1M108.5 83.8h.1M112.9 75.2h.1M111.4 82.4h.1M113.7 70.2h.1M95.6 74.6h.1M107.5 75.4h.1M102.0 76.7h.1M103.6 80.8h.1M102.2 85.2h.1M96.5 73.3h.1M99.9 77.3h.1M114.4 79.7h.1M103.9 72.7h.1M93.2 70.5h.1M101.7 72.0h.1M98.6 73.5h.1M110.2 78.3h.1M102.3 71.7h.1M106.7 75.6h.1M109.3 69.4h.1M106.0 81.3h.1M99.6 76.7h.1M105.5 76.5h.1M95.9 76.6h.1M106.2 82.5h.1M103.3 71.7h.1M94.3 74.7h.1M94.3 81.0h.1M111.9 76.8h.1M95.8 72.0h.1M96.8 84.5h.1M93.8 81.7h.1M99.3 82.8h.1M101.5 78.4h.1M111.7 71.6h.1M112.9 79.6h.1M99.1 84.0h.1M113.3 71.0h.1M109.5 71.7h.1M105.7 76.0h.1M95.9 81.8h.1M95.4 85.0h.1M113.6 81.6h.1M102.0 72.1h.1M108.4 84.3h.1M109.6 77.9h.1M103.0 82.8h.1M96.9 77.2h.1M101.5 83.6h.1M105.6 82.2h.1M111.2 77.4h.1M105.0 75.1h.1M103.1 79.9h.1M102.1 72.3h.1M94.5 77.6h.1M101.0 71.6h.1M104.9 76.8h.1M111.8 72.1h.1M98.4 76.0h.1M98.9 75.2h.1M102.5 72.9h.1M96.5 77.4h.1M103.6 72.1h.1M106.6 80.2h.1M96.1 75.5h.1M105.4 70.6h.1M104.1 79.0h.1M96.8 69.4h.1M94.5 84.6h.1M106.5 79.9h.1M112.9 75.1h.1M98.9 71.1h.1M105.1 81.2h.1M111.1 79.2h.1M106.2 82.7h.1M100.1 83.2h.1M102.1 80.5h.1M108.2 71.4h.1M105.3 78.4h.1M97.9 68.7h.1M93.9 79.3h.1M99.8 77.2h.1M111.5 72.7h.1M95.2 74.8h.1M107.1 76.3h.1M106.9 85.3h.1M104.4 70.8h.1M107.0 80.6h.1M99.8 76.3h.1M107.3 79.5h.1M109.7 80.5h.1M94.4 75.6h.1M103.7 79.8h.1M103.1 81.2h.1M97.9 75.5h.1M98.2 85.3h.1M107.8 78.6h.1M103.9 69.9h.1M108.9 76.7h.1M107.1 72.6h.1M107.8 72.7h.1M96.0 79.4h.1M96.7 72.0h.1M96.1 77.3h.1M106.6 77.6h.1M97.8 69.7h.1M99.9 72.4h.1M104.7 70.4h.1M96.9 75.2h.1M97.9 83.4h.1M106.2 79.5h.1M112.1 80.5h.1M112.5 80.8h.1M95.9 71.9h.1M97.8 71.0h.1M101.7 82.3h.1M111.7 73.2h.1M101.9 77.9h.1M111.2 83.0h.1M111.1 85.5h.1M109.2 83.9h.1M107.3 84.9h.1M106.7 78.3h.1M112.1 77.9h.1M107.3 72.3h.1M101.2 80.6h.1M98.4 73.7h.1M111.8 81.5h.1M110.8 71.2h.1M113.9 81.7h.1M108.1 74.4h.1M98.8 71.3h.1M108.5 75.1h.1M105.7 83.6h.1M109.9 81.7h.1M105.0 71.3h.1M113.7 80.4h.1M95.5 73.0h.1M101.3 84.3h.1M107.7 79.1h.1M95.3 80.4h.1M97.4 79.4h.1M98.3 83.5h.1M109.8 69.5h.1M94.7 81.1h.1M107.7 84.9h.1M93.5 76.6h.1M106.2 81.4h.1M110.4 82.9h.1M105.3 74.9h.1M102.8 71.6h.1M105.9 76.3h.1M100.3 72.3h.1M96.5 79.2h.1M102.2 75.1h.1M111.3 78.6h.1M113.1 81.6h.1M112.5 84.3h.1M102.4 81.2h.1M97.2 76.4h.1M107.9 74.1h.1M102.2 76.5h.1M105.6 83.1h.1M112.0 71.3h.1M99.4 76.8h.1M107.3 71.3h.1M97.4 74.6h.1M108.4 73.0h.1M104.9 79.4h.1M107.6 80.3h.1M94.5 74.6h.1M108.6 84.0h.1M92.1 71.4h.1M106.1 71.6h.1M107.4 71.8h.1M95.3 75.9h.1M97.6 80.3h.1M101.7 70.2h.1M100.8 78.6h.1M106.8 84.0h.1M93.5 78.8h.1M108.6 75.0h.1M111.6 70.4h.1M97.5 80.1h.1M105.6 77.7h.1M100.8 71.1h.1M113.4 72.3h.1M101.6 80.8h.1M101.4 80.1h.1M101.4 78.7h.1M107.6 78.3h.1M97.2 75.7h.1M99.0 74.3h.1M108.7 83.5h.1M105.6 76.3h.1M112.5 75.6h.1M95.6 73.9h.1M94.1 79.4h.1M113.0 74.1h.1M99.2 71.7h.1M99.0 73.9h.1M110.6 78.8h.1M99.1 74.8h.1M97.3 81.3h.1M97.9 75.0h.1M98.7 77.7h.1M102.3 70.2h.1M103.5 78.2h.1M97.4 81.5h.1M102.9 82.1h.1M101.9 76.1h.1M100.2 78.8h.1M100.2 83.3h.1M100.3 75.9h.1M97.5 77.3h.1M108.4 76.3h.1M95.5 71.1h.1M109.5 70.6h.1M99.2 76.6h.1M110.1 75.4h.1M97.0 80.1h.1M98.9 70.4h.1M107.1 82.8h.1M111.3 79.4h.1M101.6 82.5h.1M112.0 83.7h.1M104.0 79.3h.1M109.9 69.7h.1M112.2 81.3h.1M109.1 83.7h.1M107.4 72.1h.1M107.7 75.1h.1M99.8 68.5h.1M106.7 71.3h.1M97.4 68.3h.1M97.2 79.3h.1M110.3 82.6h.1M97.6 71.4h.1M102.9 82.3h.1M100.5 76.7h.1M109.7 73.7h.1M107.5 83.7h.1M101.5 80.4h.1M105.4 82.8h.1M107.0 71.1h.1M93.3 80.3h.1M107.4 81.5h.1M105.8 82.8h.1M96.5 79.8h.1M110.4 80.2h.1M95.3 81.1h.1M107.3 75.5h.1M107.0 77.1h.1M99.0 82.3h.1M112.4 70.8h.1M109.9 73.6h.1M106.9 77.4h.1M112.2 77.2h.1M109.9 70.7h.1M102.1 73.7h.1M109.0 82.4h.1M101.3 77.1h.1M99.1 76.0h.1M106.1 71.4h.1M111.9 81.5h.1M113.8 71.8h.1M113.3 70.7h.1M110.0 73.4h.1M106.5 84.3h.1M112.2 80.8h.1M97.2 72.3h.1M111.0 85.1h.1M100.6 78.3h.1M102.5 70.2h.1M104.4 73.1h.1M93.5 81.8h.1M95.7 77.8h.1M98.3 82.5h.1M99.7 82.2h.1M113.0 79.2h.1M108.7 81.9h.1M110.4 82.6h.1M111.6 78.0h.1M101.3 78.1h.1M103.4 72.1h.1M102.9 85.1h.1M107.9 76.9h.1M100.1 73.9h.1M99.6 81.7h.1M103.6 84.1h.1M107.2 73.1h.1M110.9 80.3h.1M97.2 83.7h.1M104.2 72.6h.1M96.5 79.4h.1M97.3 82.3h.1M96.7 77.4h.1M96.2 71.0h.1M103.3 74.6h.1M92.0 73.4h.1M100.1 81.6h.1M99.9 79.9h.1M95.5 84.1h.1M105.1 72.9h.1M98.7 78.7h.1M102.1 78.5h.1M113.5 76.8h.1M101.9 74.4h.1M94.5 77.2h.1M94.8 71.5h.1M99.3 76.4h.1M93.7 70.4h.1M106.5 79.4h.1M97.1 78.8h.1M109.7 79.2h.1M98.3 74.3h.1M92.3 72.8h.1M101.2 82.1h.1M99.0 70.9h.1M97.0 73.0h.1M110.3 83.9h.1M111.1 73.7h.1M95.0 74.8h.1M93.0 76.0h.1M108.9 73.5h.1M93.9 84.9h.1M106.1 75.0h.1M108.9 78.7h.1M107.3 83.3h.1M104.2 76.8h.1M104.5 80.0h.1M99.5 78.2h.1M97.8 83.4h.1M98.8 74.8h.1M104.0 83.3h.1M105.1 79.4h.1M106.8 75.2h.1M108.1 74.9h.1M107.6 76.1h.1M109.5 78.6h.1M100.9 84.9h.1M108.6 70.2h.1M104.1 73.3h.1M107.7 74.7h.1M92.5 74.4h.1M101.2 76.0h.1M109.9 84.0h.1M104.0 79.1h.1M100.2 74.9h.1M106.2 81.4h.1M102.0 70.7h.1M96.5 74.5h.1M105.3 72.9h.1M94.3 75.1h.1M105.6 79.4h.1M111.0 72.0h.1M104.4 75.5h.1M106.8 75.3h.1M110.2 82.8h.1M94.0 80.6h.1M95.8 82.8h.1M101.9 81.6h.1M99.4 77.8h.1M96.7 71.9h.1M98.7 69.9h.1M99.0 78.4h.1M93.7 81.9h.1M95.6 84.0h.1M109.6 84.6h.1M94.2 71.2h.1M95.3 78.1h.1M111.9 84.1h.1M98.1 77.8h.1M95.8 72.2h.1M112.7 80.8h.1M93.6 79.5h.1M96.1 83.1h.1M103.9 76.2h.1M108.2 73.0h.1M97.2 82.2h.1M111.5 74.2h.1M108.7 74.1h.1M110.4 79.8h.1M106.6 80.0h.1M99.1 72.8h.1M111.6 82.7h.1M102.1 77.7h.1M96.5 72.5h.1M97.9 73.8h.1M99.1 74.5h.1M110.3 73.5h.1M100.1 71.0h.1M109.3 84.0h.1M113.3 75.2h.1M99.3 73.3h.1M105.4 73.7h.1M104.2 78.9h.1M105.8 74.2h.1M95.7 79.8h.1M105.8 78.7h.1M100.3 71.1h.1M108.2 78.4h.1M112.1 83.7h.1M94.2 71.9h.1M110.1 77.1h.1M112.8 78.1h.1M99.3 84.2h.1M105.3 77.8h.1M112.6 75.1h.1M96.6 80.9h.1M94.2 71.9h.1M106.2 71.1h.1M104.1 79.1h.1M101.2 70.7h.1M98.2 84.3h.1M98.1 72.2h.1M104.1 83.5h.1M100.2 75.2h.1M101.6 72.4h.1M106.4 72.1h.1M98.2 75.2h.1M96.1 72.3h.1M101.8 79.0h.1M109.3 75.2h.1M106.3 79.0h.1M95.9 78.9h.1M105.2 82.2h.1M105.1 73.5h.1M108.0 72.6h.1M112.7 72.6h.1M102.3 73.4h.1M112.0 71.2h.1M95.3 82.4h.1M112.9 74.0h.1M108.7 72.7h.1M103.4 78.2h.1M108.7 81.3h.1M98.9 85.9h.1M98.2 79.4h.1M101.5 73.2h.1M100.7 74.5h.1M101.2 78.3h.1M102.4 74.3h.1M101.3 69.1h.1M104.6 71.6h.1M101.1 78.1h.1M96.0 77.9h.1M103.4 82.7h.1M103.5 76.3h.1M99.6 75.6h.1M101.8 79.6h.1M99.3 81.4h.1M103.1 77.3h.1M101.0 71.5h.1M113.7 73.3h.1M101.2 77.3h.1M101.3 76.7h.1M94.9 72.5h.1M110.7 86.0h.1M97.6 80.7h.1M108.8 73.2h.1M105.1 76.4h.1M105.5 81.0h.1M104.1 75.0h.1M102.7 82.1h.1M96.0 74.0h.1M101.7 81.6h.1M110.5 73.0h.1M108.6 77.2h.1M110.0 78.8h.1M104.2 81.5h.1M95.0 83.6h.1M94.5 82.2h.1M94.4 81.8h.1M93.5 80.9h.1M103.8 84.0h.1M104.4 82.7h.1M103.1 73.4h.1M100.9 80.9h.1M96.8 75.1h.1M111.0 73.4h.1M100.3 74.7h.1M112.4 77.1h.1M100.3 71.3h.1M97.8 76.3h.1M109.4 72.6h.1M112.4 80.6h.1M96.1 79.5h.1M101.3 82.8h.1M96.3 79.9h.1M106.7 77.3h.1M100.9 81.5h.1M111.2 84.3h.1M93.6 73.5h.1M107.7 73.0h.1M99.9 77.1h.1M94.7 75.8h.1M96.5 80.5h.1M109.2 79.9h.1M97.7 81.3h.1M95.8 71.8h.1M98.0 77.2h.1M95.4 71.8h.1M106.3 81.3h.1M112.9 72.7h.1M107.4 78.9h.1M106.6 82.8h.1M103.4 85.3h.1M104.8 82.3h.1M108.0 78.9h.1M101.2 82.9h.1M101.7 82.1h.1M104.8 69.5h.1M108.3 73.2h.1M95.8 72.4h.1M102.7 83.1h.1M98.5 77.4h.1M101.7 77.7h.1M107.1 77.9h.1M109.5 80.3h.1M111.9 70.8h.1M94.9 80.0h.1M112.9 82.7h.1M101.6 75.4h.1M104.2 84.2h.1M108.8 74.8h.1M115.5 72.6h.1M103.3 75.5h.1M109.3 75.5h.1M95.3 77.1h.1M107.0 80.2h.1M94.7 76.9h.1M95.9 83.1h.1M102.2 73.7h.1M104.3 84.5h.1M94.6 84.7h.1M101.6 84.8h.1M96.5 77.6h.1M112.0 70.1h.1M100.9 76.9h.1M114.4 70.4h.1M112.4 76.4h.1M103.0 73.0h.1M107.5 84.7h.1M104.9 70.3h.1M95.6 71.0h.1M94.8 81.2h.1M105.6 76.2h.1M95.0 78.4h.1M100.9 70.3h.1M98.3 82.1h.1M95.6 76.2h.1M105.8 84.6h.1M111.4 71.8h.1M98.9 77.3h.1M103.1 70.3h.1M108.5 76.4h.1M103.2 69.0h.1M104.8 83.7h.1M105.5 79.5h.1M100.9 71.4h.1M93.4 72.3h.1M110.7 81.5h.1M96.5 80.8h.1M105.3 69.3h.1M94.5 79.3h.1M106.7 76.7h.1M110.1 76.4h.1M97.1 72.1h.1M101.9 78.2h.1M112.5 80.6h.1M101.3 79.1h.1M99.5 79.4h.1M94.0 73.2h.1M99.8 83.3h.1M106.7 82.9h.1M99.2 71.0h.1M102.2 71.2h.1M104.3 74.2h.1M111.3 83.4h.1M97.3 80.0h.1M109.6 78.2h.1M102.8 73.0h.1M95.1 78.9h.1M110.2 77.6h.1M110.6 82.7h.1M110.9 81.9h.1M112.9 72.8h.1M109.1 83.4h.1M97.1 74.8h.1M110.8 85.0h.1M95.4 85.1h.1M102.1 78.9h.1M96.5 71.2h.1M96.3 72.8h.1M97.7 80.7h.1M105.4 81.4h.1M108.7 70.3h.1M93.0 76.9h.1M112.4 76.7h.1M109.7 72.8h.1M94.9 80.3h.1M97.3 80.3h.1M106.5 71.5h.1M95.1 76.2h.1M111.9 74.9h.1M105.1 72.5h.1M106.0 79.2h.1M112.0 73.7h.1M98.0 79.3h.1M107.2 72.0h.1M105.1 78.6h.1M95.5 73.9h.1M111.6 71.8h.1M95.6 71.3h.1M101.1 79.5h.1M108.4 72.8h.1M104.0 82.6h.1M108.4 69.6h.1M106.7 71.9h.1M110.8 81.4h.1M105.8 73.5h.1M100.3 74.3h.1M96.4 72.6h.1M97.7 75.5h.1M94.7 70.6h.1M102.7 76.1h.1M99.5 70.4h.1M110.8 75.9h.1M99.1 72.3h.1M99.9 85.7h.1M100.3 76.2h.1M98.4 74.3h.1M106.5 70.9h.1M98.7 70.2h.1M106.0 76.3h.1M96.6 82.1h.1M95.8 79.0h.1M97.9 73.1h.1M113.4 78.8h.1M97.7 82.1h.1M105.7 69.7h.1M109.3 79.6h.1M102.0 76.9h.1M109.5 84.9h.1M97.6 80.2h.1M107.6 83.3h.1M94.7 76.7h.1M109.8 72.9h.1M98.7 79.8h.1M113.8 68.4h.1M98.1 84.0h.1M94.3 79.3h.1M102.2 84.9h.1M99.5 76.4h.1M97.2 72.8h.1M94.6 84.5h.1M95.8 80.9h.1M98.7 72.8h.1M94.4 82.3h.1M104.1 77.7h.1M111.7 76.8h.1M108.4 80.8h.1M94.3 83.6h.1M108.7 77.0h.1M108.9 74.0h.1M105.1 74.1h.1M113.2 82.8h.1M106.4 74.6h.1M99.1 71.1h.1M99.4 73.3h.1M101.8 77.6h.1M108.1 75.4h.1M102.3 76.1h.1M100.3 81.3h.1M96.9 71.4h.1M104.6 82.0h.1M97.6 82.2h.1M93.9 81.4h.1M111.2 79.0h.1M111.8 70.9h.1M95.6 73.0h.1M96.5 74.7h.1M105.9 73.4h.1M99.1 78.7h.1M106.0 77.3h.1M104.9 75.4h.1M112.4 84.6h.1M112.3 85.0h.1M109.9 83.6h.1M94.3 81.6h.1M98.1 73.5h.1M112.2 80.1h.1M102.4 76.5h.1M97.1 83.1h.1M99.3 76.3h.1M107.2 76.7h.1M103.9 70.6h.1M99.8 74.8h.1M112.7 78.7h.1M94.9 81.0h.1M100.3 71.5h.1M102.5 80.3h.1M110.6 84.5h.1M93.0 76.4h.1M98.4 72.6h.1M108.8 83.6h.1M101.0 78.3h.1M102.0 72.6h.1M114.0 82.9h.1M108.6 82.4h.1M101.0 69.0h.1M97.5 84.5h.1M112.0 82.9h.1M98.1 79.3h.1M100.7 78.8h.1M113.8 69.9h.1M95.6 76.7h.1M103.5 82.8h.1M100.9 80.7h.1M94.8 76.2h.1M97.9 72.6h.1M94.5 81.6h.1M98.2 72.4h.1M97.9 81.9h.1M101.4 83.7h.1M114.0 79.2h.1M100.4 78.9h.1M103.8 70.3h.1M107.7 81.6h.1M102.2 82.0h.1M102.5 82.7h.1M109.3 76.2h.1M114.9 82.5h.1M95.1 80.7h.1M97.4 79.8h.1M102.2 75.2h.1M99.1 83.5h.1M95.3 77.1h.1M95.8 82.7h.1M103.4 82.9h.1M111.2 72.9h.1M107.5 79.6h.1M111.1 81.0h.1M102.5 73.7h.1M93.5 81.5h.1M112.1 70.8h.1M101.0 77.5h.1M100.4 77.7h.1M110.2 80.8h.1M105.1 82.9h.1M96.1 79.4h.1M94.8 80.3h.1M95.7 80.9h.1M110.0 72.1h.1M108.9 72.3h.1M97.8 74.0h.1M94.6 73.9h.1M112.8 79.3h.1M99.2 73.0h.1M101.6 74.9h.1M96.3 76.2h.1M104.7 78.4h.1M103.0 72.3h.1M109.7 76.6h.1M98.3 84.2h.1M96.2 80.8h.1M106.2 85.6h.1M106.5 80.8h.1M96.3 72.3h.1M93.7 71.3h.1M96.4 82.3h.1M110.1 72.0h.1M109.8 71.7h.1M105.3 71.3h.1M92.9 75.2h.1M113.3 81.7h.1M98.7 84.9h.1M109.5 73.3h.1M108.9 73.9h.1M114.0 81.2h.1M98.3 72.8h.1M100.2 74.5h.1M110.6 69.1h.1M95.9 75.9h.1M103.9 77.8h.1M110.2 69.6h.1M98.3 78.6h.1M99.9 83.0h.1M108.2 85.9h.1M107.7 86.4h.1M108.8 83.1h.1M103.3 72.1h.1M96.2 74.4h.1M92.9 81.0h.1M112.6 74.0h.1M98.2 78.3h.1M103.4 83.4h.1M99.8 68.4h.1M106.9 75.5h.1M103.9 70.2h.1M99.2 77.0h.1M102.2 74.5h.1M106.0 83.5h.1M97.4 76.8h.1M111.6 81.8h.1M96.7 70.0h.1M108.1 82.5h.1M96.0 76.0h.1M108.5 82.4h.1M98.3 70.2h.1M110.9 71.7h.1M104.0 81.6h.1M102.3 71.5h.1M104.6 74.0h.1M99.9 70.9h.1M106.4 84.8h.1M96.9 75.0h.1M102.0 75.9h.1M110.1 76.5h.1M102.2 76.4h.1M100.1 82.8h.1M101.8 82.1h.1M106.0 70.3h.1M93.1 84.4h.1M110.8 74.6h.1M96.0 76.1h.1M111.2 79.4h.1M105.9 72.7h.1M94.2 81.3h.1M109.1 74.2h.1M99.8 74.7h.1M107.1 82.7h.1M105.8 76.5h.1M102.5 83.7h.1M104.5 73.7h.1M97.8 82.3h.1M107.6 85.5h.1M97.5 74.4h.1M106.5 75.2h.1M95.2 79.4h.1M111.7 75.8h.1M107.8 81.9h.1M109.0 78.5h.1M108.3 76.6h.1M112.1 80.2h.1M113.0 75.1h.1M109.6 76.0h.1M103.1 84.7h.1M111.8 77.0h.1M100.2 77.2h.1M97.6 79.3h.1M112.3 80.3h.1M94.2 79.4h.1M106.2 72.3h.1M109.2 84.8h.1M93.5 85.2h.1M100.2 74.9h.1M97.1 81.0h.1M105.2 75.2h.1M100.5 77.1h.1M97.4 80.8h.1M106.8 71.6h.1M105.4 83.6h.1M102.4 80.9h.1M100.1 84.9h.1M98.8 72.7h.1M108.9 79.9h.1M94.8 74.1h.1M102.0 82.2h.1M109.0 71.2h.1M109.8 74.6h.1M114.5 85.2h.1M104.9 78.5h.1M103.9 73.7h.1M94.4 76.6h.1M109.8 83.7h.1M109.0 78.9h.1M110.9 82.4h.1M95.1 77.8h.1M93.9 78.0h.1M108.6 70.5h.1M95.1 77.9h.1M100.6 73.5h.1M99.8 71.3h.1M103.3 84.2h.1M110.8 81.2h.1M108.0 70.9h.1M96.3 73.3h.1M108.5 77.1h.1M91.6 83.8h.1M93.8 71.9h.1M112.3 78.7h.1M107.1 75.4h.1M94.9 78.9h.1M104.8 81.2h.1M97.6 81.3h.1M101.7 76.8h.1M101.2 84.6h.1M99.0 75.9h.1M104.7 75.6h.1M98.7 69.7h.1M107.6 72.6h.1M106.2 70.7h.1M112.8 76.4h.1M108.2 74.8h.1M98.8 78.3h.1M104.7 73.4h.1M95.7 83.2h.1M105.4 72.5h.1M106.8 79.3h.1M103.2 70.4h.1M104.9 75.2h.1M96.5 79.6h.1M105.4 76.2h.1M100.2 80.2h.1M97.5 76.0h.1M111.0 81.5h.1M96.1 81.4h.1M100.9 73.3h.1M100.7 76.1h.1M103.0 80.9h.1M105.2 81.7h.1M95.9 82.5h.1M112.2 72.9h.1M105.7 82.0h.1M97.2 70.1h.1M104.5 77.8h.1M99.6 77.1h.1M114.8 71.7h.1M99.6 73.4h.1M110.7 72.5h.1M108.8 75.7h.1M107.7 79.0h.1M97.8 74.2h.1M101.0 74.5h.1M113.7 73.9h.1M110.9 82.5h.1M111.0 71.0h.1M97.4 70.4h.1M100.2 83.4h.1M112.2 73.1h.1M95.3 72.1h.1M113.8 73.1h.1M101.2 75.9h.1M99.1 72.1h.1M100.4 72.0h.1M106.0 84.5h.1M96.7 73.9h.1M104.3 76.4h.1M95.5 70.7h.1M107.3 83.0h.1M104.2 78.5h.1M97.9 70.4h.1M106.3 84.4h.1M96.4 79.7h.1M112.2 77.2h.1M95.2 77.3h.1M95.3 76.4h.1M97.2 82.6h.1M96.5 70.5h.1M106.3 85.9h.1M101.1 73.2h.1M103.0 72.1h.1M103.2 87.2h.1M113.9 72.6h.1M101.9 80.1h.1M104.8 76.4h.1M94.3 73.9h.1M102.8 72.6h.1M97.0 79.6h.1M94.0 79.5h.1M104.3 78.2h.1M101.7 84.6h.1M96.4 69.2h.1M108.8 78.8h.1M108.3 73.3h.1M110.6 85.7h.1M98.8 70.0h.1M94.1 77.9h.1M103.7 75.2h.1M110.8 84.5h.1M109.8 74.3h.1M112.4 77.4h.1M102.3 70.7h.1M107.9 82.0h.1M100.1 70.9h.1M107.6 81.5h.1M108.4 85.1h.1M109.6 84.0h.1M101.2 75.0h.1M111.8 78.8h.1M99.7 82.6h.1M94.7 80.6h.1M104.8 74.3h.1M102.3 73.0h.1M113.2 80.1h.1M110.3 69.9h.1M105.1 81.2h.1M97.8 81.8h.1M109.8 77.7h.1M110.9 83.7h.1M98.4 75.9h.1M101.6 82.2h.1M97.9 68.8h.1M108.9 83.4h.1M114.4 71.4h.1M102.8 79.6h.1M96.2 77.2h.1M109.3 83.6h.1M109.8 83.5h.1M108.4 72.8h.1M109.7 70.1h.1M99.5 74.1h.1M108.9 78.6h.1M97.4 79.0h.1M95.3 82.4h.1M108.9 75.3h.1M98.8 73.4h.1M105.6 82.5h.1M101.6 81.3h.1M108.3 83.9h.1M98.6 78.0h.1M109.4 74.5h.1M96.2 70.2h.1M106.3 79.2h.1M110.9 71.9h.1M108.4 71.5h.1M95.3 69.9h.1M102.7 80.4h.1M99.6 82.8h.1M101.3 82.7h.1M106.6 80.9h.1M96.0 81.3h.1M107.3 75.5h.1M111.3 68.8h.1M108.6 76.6h.1M95.9 80.8h.1M106.5 81.7h.1M107.1 82.4h.1M107.5 71.0h.1M107.5 74.0h.1M95.2 74.0h.1M101.5 71.6h.1M95.7 82.7h.1M94.6 71.4h.1M101.0 84.4h.1M103.6 84.1h.1M112.7 81.0h.1M106.0 82.2h.1M104.6 73.2h.1M105.6 77.4h.1M108.3 74.5h.1M106.5 71.7h.1M102.2 73.9h.1M95.9 84.5h.1M109.0 72.7h.1M110.6 83.0h.1M97.2 77.2h.1M111.4 74.0h.1M104.2 73.5h.1M108.7 73.0h.1M105.4 83.1h.1M92.8 75.7h.1M93.1 81.6h.1M104.1 79.5h.1M103.2 76.4h.1M97.2 72.9h.1M106.7 76.7h.1M107.7 83.1h.1M102.8 70.9h.1M107.5 75.6h.1M103.9 73.4h.1M96.1 82.1h.1M96.4 72.8h.1M96.4 74.0h.1M108.5 74.0h.1M107.2 76.2h.1M104.8 72.3h.1M101.9 74.9h.1M110.1 71.2h.1M111.7 75.2h.1M113.6 73.3h.1M99.0 72.7h.1M98.1 72.0h.1M100.7 79.9h.1M100.2 77.7h.1M107.6 78.1h.1M109.8 86.3h.1M109.4 70.5h.1M106.9 76.7h.1M107.4 80.9h.1M101.9 80.9h.1M98.2 71.7h.1M101.6 82.4h.1M94.6 75.9h.1M102.0 82.6h.1M104.2 83.9h.1M99.3 71.8h.1M105.8 79.7h.1M103.6 83.1h.1M112.5 77.7h.1M97.4 84.0h.1M95.3 84.3h.1M92.9 81.0h.1M103.6 73.4h.1M110.7 82.0h.1M98.7 79.6h.1M111.9 79.1h.1M107.9 72.8h.1M100.5 75.7h.1M101.0 77.2h.1M109.8 72.0h.1M108.7 79.4h.1M101.8 82.7h.1M109.6 74.0h.1M103.0 75.9h.1M106.9 73.0h.1M100.3 70.9h.1M99.1 78.1h.1M110.8 75.0h.1M94.6 72.7h.1M95.3 82.0h.1M101.4 84.3h.1M108.6 73.6h.1M98.6 74.4h.1M112.6 77.2h.1M97.2 83.8h.1M106.5 79.9h.1M103.4 76.1h.1M101.2 79.8h.1M110.2 83.4h.1M101.4 77.3h.1M100.6 85.1h.1M111.8 73.6h.1M98.8 74.5h.1M107.9 73.0h.1M108.6 73.1h.1M94.8 80.9h.1M108.0 82.1h.1M103.7 81.0h.1M112.4 71.9h.1M104.8 84.5h.1M96.5 71.8h.1M114.0 84.4h.1M103.2 71.4h.1M110.9 77.6h.1M95.1 74.1h.1M112.6 72.1h.1M101.6 84.4h.1M110.5 78.5h.1M92.5 79.8h.1M106.0 71.5h.1M100.2 79.4h.1M102.9 74.0h.1M105.7 77.2h.1M96.6 74.0h.1M93.7 78.7h.1M95.6 81.7h.1M105.5 83.5h.1M106.2 77.4h.1M96.4 72.0h.1M95.2 78.1h.1M110.9 82.4h.1M111.9 83.5h.1M100.1 73.1h.1M105.9 69.0h.1M105.1 78.2h.1M96.1 77.8h.1M113.4 74.0h.1M100.4 79.5h.1M102.7 81.0h.1M111.9 71.4h.1M109.9 72.3h.1M102.9 76.1h.1M98.5 80.6h.1M105.5 79.1h.1M108.8 78.3h.1M100.0 83.2h.1M108.0 78.6h.1M102.6 74.5h.1M97.4 76.8h.1M103.0 80.9h.1M100.2 82.9h.1M99.3 77.8h.1M104.4 81.0h.1M107.7 78.2h.1M105.3 83.6h.1M108.5 70.8h.1M104.5 84.7h.1M100.1 77.5h.1M101.6 69.4h.1M105.3 71.7h.1M112.2 79.9h.1M103.2 74.7h.1M97.8 73.0h.1M100.6 85.9h.1M109.1 84.8h.1M108.1 80.1h.1M104.1 84.0h.1M108.9 82.6h.1M101.5 79.0h.1M112.5 75.2h.1M113.2 73.1h.1M113.0 79.5h.1M102.4 81.1h.1M98.0 74.4h.1M93.6 76.3h.1M94.5 81.6h.1M102.4 74.0h.1M95.0 74.9h.1M103.4 77.5h.1M94.7 75.2h.1M103.4 72.3h.1M112.3 79.7h.1M111.5 71.1h.1M99.7 83.4h.1M106.2 78.1h.1M97.4 81.8h.1M100.4 83.0h.1M103.2 78.1h.1M110.5 83.9h.1M98.1 79.9h.1M104.0 79.9h.1M97.4 75.4h.1M102.8 83.7h.1M99.9 74.4h.1M112.7 75.7h.1M97.4 77.4h.1M110.2 76.6h.1M101.0 79.3h.1M104.0 78.4h.1M95.4 81.5h.1M94.8 76.2h.1M94.0 76.1h.1M94.8 77.3h.1M105.4 74.7h.1M107.2 71.3h.1M101.6 79.8h.1M106.0 82.6h.1M97.7 72.4h.1M103.6 79.8h.1M96.4 80.6h.1M113.3 73.4h.1M111.1 81.3h.1M97.1 83.9h.1M105.3 75.2h.1M103.9 78.6h.1M104.3 73.6h.1M108.5 71.7h.1M112.9 79.9h.1M111.5 73.6h.1M95.1 71.3h.1M102.9 80.4h.1M97.6 74.8h.1M107.1 73.1h.1M97.1 76.3h.1M96.6 72.9h.1M107.9 82.7h.1M107.1 82.7h.1M100.7 76.6h.1M105.7 83.4h.1M100.9 83.5h.1M101.2 81.4h.1M94.9 71.6h.1M99.9 78.9h.1M97.2 77.0h.1M108.5 77.4h.1M107.7 77.9h.1M102.3 73.0h.1M108.6 77.2h.1M110.5 75.6h.1M110.7 79.5h.1M103.5 74.6h.1M103.5 80.9h.1M95.5 72.9h.1M94.1 77.9h.1M99.5 79.0h.1M111.2 79.3h.1M98.1 83.2h.1M98.7 76.1h.1M93.9 70.6h.1M112.6 71.7h.1M94.3 72.2h.1M100.0 81.5h.1M102.9 84.6h.1M102.8 83.7h.1M93.2 71.8h.1M112.5 80.5h.1M97.2 78.7h.1M112.5 80.6h.1M98.1 83.6h.1M99.7 80.5h.1M106.3 84.2h.1M96.4 83.0h.1M110.6 76.4h.1M107.3 77.7h.1M112.8 81.7h.1M107.1 75.5h.1M100.7 82.6h.1M97.3 77.6h.1M108.4 83.7h.1M98.2 72.3h.1M106.8 81.3h.1M97.9 85.3h.1M102.4 71.8h.1M93.9 71.9h.1M112.0 70.3h.1M103.2 79.5h.1M97.9 71.5h.1M110.9 83.8h.1M112.0 82.2h.1M114.6 74.7h.1M105.2 74.9h.1M94.3 72.6h.1M93.4 84.7h.1M95.8 84.6h.1M102.2 81.5h.1M99.4 76.0h.1M103.1 72.5h.1M104.7 81.8h.1M107.1 72.6h.1M95.2 84.8h.1M107.9 70.5h.1M108.8 85.0h.1M100.6 71.8h.1M103.4 74.7h.1M109.8 79.0h.1M94.7 76.8h.1M100.6 83.3h.1M103.6 71.3h.1M96.9 73.5h.1M109.3 82.1h.1M106.5 70.1h.1M109.3 82.1h.1M112.6 78.4h.1M100.8 75.6h.1M108.1 75.0h.1M114.2 81.8h.1M97.5 80.7h.1M101.4 75.8h.1M108.0 75.6h.1M95.9 84.6h.1M109.1 73.6h.1M93.2 71.8h.1M98.6 73.3h.1M110.4 75.6h.1M99.0 83.6h.1M108.8 78.2h.1M102.1 82.3h.1M94.8 69.4h.1M108.7 71.6h.1M112.6 82.0h.1M112.1 84.3h.1M108.6 70.0h.1M109.4 78.3h.1M103.2 76.0h.1M111.7 75.7h.1M96.3 70.1h.1M110.8 83.3h.1M107.3 78.1h.1M110.5 79.5h.1M107.8 74.3h.1M99.3 81.3h.1M108.8 73.1h.1M99.2 77.0h.1M107.4 82.7h.1M97.0 82.6h.1M104.4 76.1h.1M105.5 75.7h.1M102.5 83.8h.1M103.0 70.5h.1M102.6 83.7h.1M105.0 79.6h.1M100.7 74.0h.1M105.1 77.5h.1M108.5 76.8h.1M96.0 75.7h.1M101.2 79.7h.1M102.3 76.6h.1M113.8 78.3h.1M108.4 79.4h.1M97.9 79.1h.1M104.8 76.6h.1M100.2 72.0h.1M108.9 74.0h.1M112.2 77.4h.1M97.3 81.4h.1M96.3 79.4h.1M95.2 77.5h.1M98.4 79.9h.1M111.1 70.7h.1M107.6 71.2h.1M105.3 81.1h.1M103.8 82.9h.1M98.9 68.6h.1M101.7 78.6h.1M109.5 84.1h.1M109.0 82.0h.1M104.5 73.3h.1M113.0 79.3h.1M109.4 76.0h.1M101.0 84.3h.1M96.2 77.0h.1M95.8 83.8h.1M102.8 76.5h.1M112.3 74.1h.1M108.9 83.3h.1M107.2 70.8h.1M112.7 71.4h.1M97.1 79.9h.1M96.1 83.2h.1M96.0 77.7h.1M103.1 80.6h.1M96.6 74.3h.1M105.1 77.1h.1M110.9 71.2h.1M108.4 75.9h.1M92.3 83.8h.1M106.7 75.6h.1M98.2 76.8h.1M101.9 83.4h.1M112.4 69.9h.1M106.9 77.3h.1M98.0 84.1h.1M94.4 77.2h.1M103.9 83.4h.1M93.9 82.1h.1M105.4 73.4h.1M105.9 84.8h.1M98.3 70.5h.1M103.5 73.8h.1M100.6 84.5h.1M102.0 79.7h.1M101.4 76.6h.1M99.6 84.6h.1M97.7 72.0h.1M101.7 81.7h.1M94.6 84.9h.1M100.1 71.9h.1M105.6 73.4h.1M103.0 73.2h.1M112.7 73.9h.1M94.9 71.3h.1M107.1 79.4h.1M98.2 76.0h.1M110.6 74.3h.1M99.1 82.9h.1M94.9 73.0h.1M102.3 77.2h.1M100.9 84.9h.1M110.4 76.2h.1M105.1 81.7h.1M100.8 74.6h.1M95.3 80.2h.1M100.0 82.0h.1M102.4 77.2h.1M107.7 76.1h.1M93.0 82.1h.1M110.4 79.7h.1M108.9 77.6h.1M101.0 80.9h.1M99.8 73.5h.1M99.3 81.2h.1M105.6 81.6h.1M99.3 84.8h.1M112.9 71.1h.1M98.3 73.3h.1M111.1 83.0h.1M100.4 71.9h.1M113.1 74.8h.1M101.5 77.5h.1M95.5 75.8h.1M106.0 84.2h.1M96.9 71.9h.1M99.9 75.1h.1M100.8 74.6h.1M102.6 75.0h.1M103.1 80.3h.1M102.8 71.5h.1M98.3 86.4h.1M102.2 81.4h.1M101.7 72.3h.1M106.2 73.2h.1M101.0 80.9h.1M109.1 82.3h.1M107.1 74.4h.1M96.1 74.5h.1M101.5 81.3h.1M111.9 70.1h.1M106.9 82.8h.1M95.2 84.1h.1M106.9 76.2h.1M111.7 80.6h.1M96.7 72.1h.1M96.3 75.9h.1M94.8 78.2h.1M106.2 71.5h.1M100.4 80.0h.1M97.6 69.3h.1M102.5 80.4h.1M108.0 71.3h.1M103.9 76.6h.1M103.7 80.3h.1M107.6 86.0h.1M105.1 69.0h.1M93.1 82.0h.1M96.5 81.4h.1M105.5 74.1h.1M112.0 79.9h.1M107.4 72.1h.1M104.9 84.9h.1M105.7 78.7h.1M94.6 82.8h.1M105.5 68.5h.1M106.0 69.5h.1M112.0 72.9h.1M100.8 76.7h.1M97.1 69.2h.1M112.0 78.8h.1M107.8 79.9h.1M96.6 72.7h.1M110.5 79.7h.1M101.7 84.5h.1M109.1 81.1h.1M106.7 76.3h.1M92.7 82.3h.1M96.5 70.6h.1M97.8 84.1h.1M104.2 83.2h.1M108.7 78.2h.1M100.8 80.1h.1M112.9 70.2h.1" stroke="#39a539" stroke-width="0.8" stroke-opacity="0.85" stroke-linecap="round" filter="url(#bl2)"/>
<path d="M103.5 89.3h.1M112.0 88.8h.1M94.2 90.5h.1M93.8 89.1h.1M104.0 89.2h.1M105.5 89.5h.1M112.6 89.0h.1M103.2 88.9h.1M113.0 87.6h.1M106.0 87.9h.1M114.6 90.9h.1M103.7 89.7h.1M108.6 89.8h.1M98.3 88.8h.1M113.6 86.9h.1M102.3 87.3h.1M106.4 88.4h.1M102.7 86.3h.1M113.3 86.8h.1M109.0 89.6h.1M98.9 88.0h.1M112.6 88.3h.1M95.2 89.1h.1M106.1 89.5h.1M102.9 89.1h.1M97.8 88.2h.1M102.2 89.2h.1M107.2 89.6h.1M109.8 90.0h.1M103.3 89.7h.1M112.7 89.8h.1M105.0 90.2h.1M114.0 87.5h.1M113.8 90.3h.1M109.8 86.1h.1M97.3 90.2h.1M112.5 88.2h.1M111.3 91.0h.1M99.6 90.0h.1M110.6 88.4h.1M113.4 89.7h.1M98.2 88.0h.1M113.6 87.3h.1M106.4 87.0h.1M111.7 88.4h.1M99.9 86.8h.1M101.0 90.2h.1M99.5 89.0h.1M113.9 86.7h.1M103.6 87.7h.1M101.2 88.4h.1M104.0 86.5h.1M94.0 87.9h.1M113.0 88.5h.1M97.6 88.8h.1M103.8 89.8h.1M97.8 90.1h.1M102.9 88.3h.1M101.5 89.0h.1M109.5 86.9h.1M103.9 86.9h.1M106.8 89.3h.1M95.6 87.6h.1M111.7 90.1h.1M101.6 86.5h.1M101.7 89.7h.1M101.4 89.6h.1M104.8 89.0h.1M102.9 90.5h.1M102.5 89.3h.1M107.5 89.9h.1M114.1 88.2h.1M103.0 88.5h.1M94.8 87.3h.1M107.5 89.3h.1M98.3 87.7h.1M98.0 90.9h.1M103.1 86.2h.1M110.2 91.3h.1M99.3 88.4h.1M94.1 88.5h.1M109.7 90.9h.1M100.9 90.3h.1M100.0 88.1h.1M112.9 88.7h.1M99.7 87.7h.1M98.5 87.8h.1M111.6 88.1h.1M96.0 88.6h.1M98.2 89.2h.1M110.1 87.4h.1M99.6 87.1h.1M94.0 88.5h.1M108.5 87.0h.1M93.8 90.3h.1M107.1 90.2h.1M110.7 87.7h.1M102.6 87.1h.1M104.6 89.9h.1M96.3 87.2h.1M112.7 87.4h.1M105.9 89.4h.1M112.5 88.5h.1M98.5 90.6h.1M112.6 86.3h.1M97.9 89.0h.1M106.4 89.4h.1M104.3 90.6h.1M100.8 87.8h.1M105.3 88.0h.1M100.8 88.2h.1M113.4 86.5h.1M94.3 86.5h.1M105.2 89.3h.1M103.1 90.0h.1M95.5 89.7h.1M109.4 88.7h.1M94.7 90.6h.1M102.5 88.0h.1M104.3 90.4h.1M111.7 88.7h.1M110.6 87.4h.1M98.7 86.5h.1M112.3 89.7h.1M113.7 89.7h.1M101.4 87.7h.1M98.3 88.6h.1M98.7 85.9h.1M105.6 88.8h.1M101.1 88.3h.1M98.9 90.0h.1M112.5 90.3h.1M113.4 86.4h.1M112.6 87.9h.1M109.6 87.7h.1M96.5 86.9h.1M111.8 87.9h.1M97.2 88.9h.1M97.2 88.1h.1M111.9 89.3h.1M97.4 89.5h.1M99.3 89.3h.1M98.2 89.8h.1M100.2 90.1h.1M109.4 89.6h.1M113.0 87.3h.1M107.1 86.3h.1M108.2 87.3h.1M101.3 89.0h.1M101.9 86.1h.1M98.0 86.7h.1M112.5 87.7h.1M100.1 89.9h.1M110.6 88.2h.1M107.9 88.1h.1M104.4 87.8h.1M103.1 87.9h.1M112.5 86.4h.1M95.8 88.1h.1M100.9 89.5h.1M108.6 88.4h.1M113.5 87.6h.1M109.3 87.2h.1M94.9 87.3h.1M111.4 87.1h.1M98.5 89.2h.1M111.9 89.4h.1M98.7 88.6h.1M101.1 89.7h.1M104.1 85.9h.1M99.2 88.0h.1M104.3 88.5h.1M92.0 89.7h.1M104.9 90.9h.1M102.8 88.8h.1M98.5 90.1h.1M103.5 88.1h.1M111.4 86.8h.1M103.2 87.0h.1M104.3 87.9h.1M104.0 90.2h.1M104.9 89.4h.1M100.9 88.7h.1M106.1 88.3h.1M108.1 89.3h.1M104.6 88.7h.1M101.5 88.9h.1M109.4 87.5h.1M103.9 87.5h.1M95.3 89.2h.1M114.6 87.8h.1M106.6 88.5h.1M97.2 88.3h.1M99.1 88.8h.1M99.1 88.2h.1M93.1 87.9h.1M105.9 87.7h.1M103.8 86.9h.1M101.9 89.3h.1M96.3 88.4h.1M99.1 90.1h.1M101.9 87.9h.1M104.3 89.6h.1M110.8 86.7h.1M105.8 88.4h.1M102.7 90.5h.1M102.6 90.0h.1M97.0 89.3h.1M95.9 86.6h.1M107.0 87.7h.1M96.0 89.5h.1M98.3 89.7h.1M104.0 88.2h.1M106.1 86.7h.1M108.2 87.2h.1M97.9 87.4h.1M100.5 88.2h.1M110.8 90.0h.1M114.5 88.6h.1M101.1 91.0h.1M98.1 86.8h.1M112.1 88.4h.1M113.5 87.2h.1M95.1 88.0h.1M113.4 89.5h.1M112.2 86.6h.1M100.7 90.8h.1M103.0 87.0h.1M104.0 86.0h.1M106.3 90.1h.1M100.1 88.9h.1M101.9 87.3h.1M109.0 87.2h.1M92.0 88.7h.1M105.2 90.2h.1M108.7 87.1h.1M97.8 87.8h.1M106.3 87.8h.1M101.7 89.5h.1M94.7 88.2h.1M111.5 86.3h.1M107.0 88.9h.1M105.5 88.0h.1M99.4 89.0h.1M106.1 88.7h.1M94.6 87.7h.1M100.5 91.1h.1M103.3 90.4h.1M107.3 88.5h.1M94.7 86.6h.1M95.4 89.4h.1M110.6 88.0h.1M108.2 88.4h.1M98.6 88.9h.1M94.0 88.6h.1M100.8 89.5h.1M106.5 89.0h.1M94.9 90.4h.1M97.9 87.9h.1M103.5 90.3h.1M99.7 88.8h.1M103.0 87.8h.1M98.4 89.7h.1M99.2 88.2h.1M112.7 87.8h.1M114.0 88.8h.1M105.7 89.8h.1M97.6 89.6h.1M106.9 89.2h.1M110.2 87.5h.1M111.2 88.2h.1M99.4 87.8h.1M95.1 88.9h.1M108.0 90.1h.1M97.2 90.0h.1M102.6 88.6h.1M110.2 87.1h.1M112.9 88.6h.1M100.1 88.7h.1M98.7 86.4h.1M102.9 87.6h.1M98.8 86.7h.1M100.9 87.2h.1M102.6 88.4h.1M106.1 90.1h.1M99.4 89.6h.1M95.4 88.9h.1M96.5 87.1h.1M107.3 89.7h.1M96.4 87.6h.1M94.5 89.2h.1M106.9 89.8h.1M109.7 87.0h.1M105.5 90.3h.1M111.6 86.3h.1M98.7 88.5h.1M113.1 86.8h.1M111.0 88.0h.1M106.0 87.9h.1M109.9 89.7h.1M112.6 86.7h.1M112.5 90.2h.1M100.1 89.0h.1M101.7 88.0h.1M102.9 87.5h.1M107.2 85.9h.1M96.2 88.8h.1M102.3 88.3h.1M96.3 91.0h.1M105.7 89.9h.1M108.8 88.4h.1M103.3 87.7h.1M113.7 88.6h.1M100.6 90.4h.1M110.2 89.7h.1M111.3 88.2h.1M103.2 87.3h.1M110.4 89.5h.1M96.1 89.4h.1M108.4 87.6h.1M96.9 88.7h.1M104.4 86.8h.1M98.6 88.1h.1M100.6 90.8h.1M104.1 87.0h.1M109.7 89.2h.1M104.9 89.6h.1M110.4 88.8h.1M96.5 88.3h.1M99.0 87.9h.1M113.4 88.2h.1M99.8 88.2h.1M97.0 87.8h.1M99.7 88.1h.1M105.5 89.7h.1M105.4 87.5h.1M112.2 88.4h.1M109.3 89.1h.1M107.8 87.3h.1M94.7 89.8h.1M107.9 88.2h.1M96.9 89.9h.1M113.2 89.5h.1M107.1 89.0h.1M97.3 88.9h.1M101.0 88.7h.1M98.2 88.4h.1M110.9 87.3h.1M98.0 87.8h.1M100.6 88.7h.1" stroke="#5a4aa8" stroke-width="0.7" stroke-opacity="0.55" stroke-linecap="round" filter="url(#bl2)"/>
<rect x="63.5" y="46.5" width="75.0" height="74.0" fill="none" stroke="#444" stroke-width="1"/>
<line x1="60.0" y1="52.5" x2="63.5" y2="52.5" stroke="#333" stroke-width="0.9"/>
<text x="57.2" y="55.2" font-size="7.6" text-anchor="end" fill="#2a2a2a">10<tspan font-size="4.6" dy="-3.2">5</tspan></text>
<line x1="60.0" y1="67.8" x2="63.5" y2="67.8" stroke="#333" stroke-width="0.9"/>
<text x="57.2" y="70.5" font-size="7.6" text-anchor="end" fill="#2a2a2a">10<tspan font-size="4.6" dy="-3.2">4</tspan></text>
<line x1="60.0" y1="83" x2="63.5" y2="83" stroke="#333" stroke-width="0.9"/>
<text x="57.2" y="85.7" font-size="7.6" text-anchor="end" fill="#2a2a2a">10<tspan font-size="4.6" dy="-3.2">3</tspan></text>
<line x1="60.0" y1="101" x2="63.5" y2="101" stroke="#333" stroke-width="0.9"/>
<text x="57.2" y="103.7" font-size="7.6" text-anchor="end" fill="#2a2a2a">0</text>
<line x1="60.0" y1="120" x2="63.5" y2="120" stroke="#333" stroke-width="0.9"/>
<text x="57.2" y="122.7" font-size="7.6" text-anchor="end" fill="#2a2a2a">−10<tspan font-size="4.6" dy="-3.2">3</tspan></text>
<line x1="61.5" y1="63.19" x2="63.5" y2="63.19" stroke="#555" stroke-width="0.6"/>
<line x1="61.5" y1="60.50" x2="63.5" y2="60.50" stroke="#555" stroke-width="0.6"/>
<line x1="61.5" y1="58.59" x2="63.5" y2="58.59" stroke="#555" stroke-width="0.6"/>
<line x1="61.5" y1="57.11" x2="63.5" y2="57.11" stroke="#555" stroke-width="0.6"/>
<line x1="61.5" y1="55.89" x2="63.5" y2="55.89" stroke="#555" stroke-width="0.6"/>
<line x1="61.5" y1="54.87" x2="63.5" y2="54.87" stroke="#555" stroke-width="0.6"/>
<line x1="61.5" y1="53.98" x2="63.5" y2="53.98" stroke="#555" stroke-width="0.6"/>
<line x1="61.5" y1="53.20" x2="63.5" y2="53.20" stroke="#555" stroke-width="0.6"/>
<line x1="61.5" y1="78.42" x2="63.5" y2="78.42" stroke="#555" stroke-width="0.6"/>
<line x1="61.5" y1="75.75" x2="63.5" y2="75.75" stroke="#555" stroke-width="0.6"/>
<line x1="61.5" y1="73.85" x2="63.5" y2="73.85" stroke="#555" stroke-width="0.6"/>
<line x1="61.5" y1="72.38" x2="63.5" y2="72.38" stroke="#555" stroke-width="0.6"/>
<line x1="61.5" y1="71.17" x2="63.5" y2="71.17" stroke="#555" stroke-width="0.6"/>
<line x1="61.5" y1="70.15" x2="63.5" y2="70.15" stroke="#555" stroke-width="0.6"/>
<line x1="61.5" y1="69.27" x2="63.5" y2="69.27" stroke="#555" stroke-width="0.6"/>
<line x1="61.5" y1="68.50" x2="63.5" y2="68.50" stroke="#555" stroke-width="0.6"/>
<line x1="61.5" y1="86.60" x2="63.5" y2="86.60" stroke="#555" stroke-width="0.6"/>
<line x1="61.5" y1="90.20" x2="63.5" y2="90.20" stroke="#555" stroke-width="0.6"/>
<line x1="61.5" y1="93.80" x2="63.5" y2="93.80" stroke="#555" stroke-width="0.6"/>
<line x1="61.5" y1="97.40" x2="63.5" y2="97.40" stroke="#555" stroke-width="0.6"/>
<line x1="66.2" y1="120.5" x2="66.2" y2="124.0" stroke="#333" stroke-width="0.9"/>
<text x="66.0" y="134.7" font-size="7.6" text-anchor="middle" fill="#2a2a2a">−10<tspan font-size="4.6" dy="-3.2">3</tspan></text>
<line x1="84.8" y1="120.5" x2="84.8" y2="124.0" stroke="#333" stroke-width="0.9"/>
<text x="84.8" y="134.7" font-size="7.6" text-anchor="middle" fill="#2a2a2a">0</text>
<line x1="100.8" y1="120.5" x2="100.8" y2="124.0" stroke="#333" stroke-width="0.9"/>
<text x="100.6" y="134.7" font-size="7.6" text-anchor="middle" fill="#2a2a2a">10<tspan font-size="4.6" dy="-3.2">3</tspan></text>
<line x1="117.3" y1="120.5" x2="117.3" y2="124.0" stroke="#333" stroke-width="0.9"/>
<text x="117.1" y="134.7" font-size="7.6" text-anchor="middle" fill="#2a2a2a">10<tspan font-size="4.6" dy="-3.2">4</tspan></text>
<line x1="132" y1="120.5" x2="132" y2="124.0" stroke="#333" stroke-width="0.9"/>
<text x="131.8" y="134.7" font-size="7.6" text-anchor="middle" fill="#2a2a2a">10<tspan font-size="4.6" dy="-3.2">5</tspan></text>
<line x1="105.77" y1="120.5" x2="105.77" y2="122.5" stroke="#777" stroke-width="0.5"/>
<line x1="108.67" y1="120.5" x2="108.67" y2="122.5" stroke="#777" stroke-width="0.5"/>
<line x1="110.73" y1="120.5" x2="110.73" y2="122.5" stroke="#777" stroke-width="0.5"/>
<line x1="112.33" y1="120.5" x2="112.33" y2="122.5" stroke="#777" stroke-width="0.5"/>
<line x1="113.64" y1="120.5" x2="113.64" y2="122.5" stroke="#777" stroke-width="0.5"/>
<line x1="114.74" y1="120.5" x2="114.74" y2="122.5" stroke="#777" stroke-width="0.5"/>
<line x1="115.70" y1="120.5" x2="115.70" y2="122.5" stroke="#777" stroke-width="0.5"/>
<line x1="116.55" y1="120.5" x2="116.55" y2="122.5" stroke="#777" stroke-width="0.5"/>
<line x1="121.73" y1="120.5" x2="121.73" y2="122.5" stroke="#777" stroke-width="0.5"/>
<line x1="124.31" y1="120.5" x2="124.31" y2="122.5" stroke="#777" stroke-width="0.5"/>
<line x1="126.15" y1="120.5" x2="126.15" y2="122.5" stroke="#777" stroke-width="0.5"/>
<line x1="127.57" y1="120.5" x2="127.57" y2="122.5" stroke="#777" stroke-width="0.5"/>
<line x1="128.74" y1="120.5" x2="128.74" y2="122.5" stroke="#777" stroke-width="0.5"/>
<line x1="129.72" y1="120.5" x2="129.72" y2="122.5" stroke="#777" stroke-width="0.5"/>
<line x1="130.58" y1="120.5" x2="130.58" y2="122.5" stroke="#777" stroke-width="0.5"/>
<line x1="131.33" y1="120.5" x2="131.33" y2="122.5" stroke="#777" stroke-width="0.5"/>
<rect x="60.5" y="98.5" width="2.5" height="6.5" fill="#111"/>
<rect x="81.8" y="121.1" width="5" height="1.8" fill="#111"/>
<rect x="91.6" y="63.5" width="29.9" height="35.7" fill="none" stroke="#111" stroke-width="1.15"/>
<line x1="121.5" y1="63.5" x2="150" y2="63.5" stroke="#111" stroke-width="1.15"/>
<path d="M148 59.8 L157.2 63.5 L148 67.2 Z" fill="#111"/>
<path d="M34.5 117 V140 H64" fill="none" stroke="#111" stroke-width="1.15"/>
<path d="M31.5 119 L34.5 113 L37.5 119 Z" fill="#111"/>
<path d="M62 137 L68 140 L62 143 Z" fill="#111"/>
<text x="29" y="140" font-size="9.3" fill="#2a2a2a" transform="rotate(-90 29 140)">FcεR1<tspan font-size="85%">γ</tspan></text>
<text x="35.6" y="151.5" font-size="9.3" fill="#2a2a2a">NKG2C</text>
<line x1="178" y1="41.5" x2="512" y2="41.5" stroke="#6a6a6a" stroke-width="1"/>
<text x="345.7" y="34.7" font-size="10.5" text-anchor="middle" fill="#222" stroke="#222" stroke-width="0.15">Total NK cells - CMV reactivation</text>
<line x1="200.5" y1="53.0" x2="200.5" y2="179.1" stroke="#222" stroke-width="1.3"/>
<line x1="199.9" y1="178.5" x2="322.5" y2="178.5" stroke="#222" stroke-width="1.3"/>
<line x1="197.2" y1="178.50" x2="200.5" y2="178.50" stroke="#222" stroke-width="1"/>
<text x="192.9" y="181.40" font-size="9.2" text-anchor="end" fill="#2a2a2a" stroke="#2a2a2a" stroke-width="0.12">0</text>
<line x1="197.2" y1="163.22" x2="200.5" y2="163.22" stroke="#222" stroke-width="1"/>
<text x="192.9" y="166.12" font-size="9.2" text-anchor="end" fill="#2a2a2a" stroke="#2a2a2a" stroke-width="0.12">10</text>
<line x1="197.2" y1="147.95" x2="200.5" y2="147.95" stroke="#222" stroke-width="1"/>
<text x="192.9" y="150.85" font-size="9.2" text-anchor="end" fill="#2a2a2a" stroke="#2a2a2a" stroke-width="0.12">20</text>
<line x1="197.2" y1="132.68" x2="200.5" y2="132.68" stroke="#222" stroke-width="1"/>
<text x="192.9" y="135.58" font-size="9.2" text-anchor="end" fill="#2a2a2a" stroke="#2a2a2a" stroke-width="0.12">30</text>
<line x1="197.2" y1="117.40" x2="200.5" y2="117.40" stroke="#222" stroke-width="1"/>
<text x="192.9" y="120.30" font-size="9.2" text-anchor="end" fill="#2a2a2a" stroke="#2a2a2a" stroke-width="0.12">40</text>
<line x1="197.2" y1="102.12" x2="200.5" y2="102.12" stroke="#222" stroke-width="1"/>
<text x="192.9" y="105.03" font-size="9.2" text-anchor="end" fill="#2a2a2a" stroke="#2a2a2a" stroke-width="0.12">50</text>
<line x1="197.2" y1="86.85" x2="200.5" y2="86.85" stroke="#222" stroke-width="1"/>
<text x="192.9" y="89.75" font-size="9.2" text-anchor="end" fill="#2a2a2a" stroke="#2a2a2a" stroke-width="0.12">60</text>
<line x1="197.2" y1="71.57" x2="200.5" y2="71.57" stroke="#222" stroke-width="1"/>
<text x="192.9" y="74.47" font-size="9.2" text-anchor="end" fill="#2a2a2a" stroke="#2a2a2a" stroke-width="0.12">70</text>
<line x1="197.2" y1="56.30" x2="200.5" y2="56.30" stroke="#222" stroke-width="1"/>
<text x="192.9" y="59.20" font-size="9.2" text-anchor="end" fill="#2a2a2a" stroke="#2a2a2a" stroke-width="0.12">80</text>
<line x1="214.35" y1="178.5" x2="214.35" y2="181.7" stroke="#222" stroke-width="1"/>
<text x="216.75" y="189.70" font-size="8.9" text-anchor="end" fill="#2a2a2a" stroke="#2a2a2a" stroke-width="0.12" transform="rotate(-45 216.75 189.70)">No target</text>
<line x1="245.95" y1="178.5" x2="245.95" y2="181.7" stroke="#222" stroke-width="1"/>
<text x="248.35" y="189.70" font-size="8.9" text-anchor="end" fill="#2a2a2a" stroke="#2a2a2a" stroke-width="0.12" transform="rotate(-45 248.35 189.70)">BE(2)N</text>
<line x1="277.55" y1="178.5" x2="277.55" y2="181.7" stroke="#222" stroke-width="1"/>
<text x="279.95" y="189.70" font-size="8.9" text-anchor="end" fill="#2a2a2a" stroke="#2a2a2a" stroke-width="0.12" transform="rotate(-45 279.95 189.70)">BE(2)N + 3F8</text>
<line x1="309.15" y1="178.5" x2="309.15" y2="181.7" stroke="#222" stroke-width="1"/>
<text x="311.55" y="189.70" font-size="8.9" text-anchor="end" fill="#2a2a2a" stroke="#2a2a2a" stroke-width="0.12" transform="rotate(-45 311.55 189.70)">K562</text>
<text x="0" y="0" font-size="11.5" text-anchor="middle" fill="#2a2a2a" stroke="#2a2a2a" stroke-width="0.35" transform="translate(175.9 116.0) rotate(-90) scale(0.605 1)">% CD107a</text>
<line x1="208.35" y1="173.15" x2="220.35" y2="173.92" stroke="#223" stroke-width="1.1" stroke-dasharray="1.1 1.1"/>
<line x1="208.35" y1="174.68" x2="220.35" y2="175.44" stroke="#223" stroke-width="1.1" stroke-dasharray="1.1 1.1"/>
<line x1="208.35" y1="176.21" x2="220.35" y2="176.21" stroke="#223" stroke-width="1.1" stroke-dasharray="1.1 1.1"/>
<circle cx="208.35" cy="173.15" r="2.35" fill="#45a23f"/>
<circle cx="208.35" cy="174.68" r="2.35" fill="#45a23f"/>
<circle cx="208.35" cy="176.21" r="2.35" fill="#45a23f"/>
<path d="M220.35 170.72 L222.95 173.92 L220.35 177.12 L217.75 173.92 Z" fill="#1c417a"/>
<path d="M220.35 172.25 L222.95 175.44 L220.35 178.64 L217.75 175.44 Z" fill="#1c417a"/>
<path d="M220.35 173.01 L222.95 176.21 L220.35 179.41 L217.75 176.21 Z" fill="#1c417a"/>
<line x1="239.95" y1="167.04" x2="251.95" y2="167.81" stroke="#223" stroke-width="1.1" stroke-dasharray="1.1 1.1"/>
<line x1="239.95" y1="171.63" x2="251.95" y2="171.63" stroke="#223" stroke-width="1.1" stroke-dasharray="1.1 1.1"/>
<line x1="239.95" y1="172.39" x2="251.95" y2="172.39" stroke="#223" stroke-width="1.1" stroke-dasharray="1.1 1.1"/>
<circle cx="239.95" cy="167.04" r="2.35" fill="#45a23f"/>
<circle cx="239.95" cy="171.63" r="2.35" fill="#45a23f"/>
<circle cx="239.95" cy="172.39" r="2.35" fill="#45a23f"/>
<path d="M251.95 164.61 L254.54999999999998 167.81 L251.95 171.01 L249.35 167.81 Z" fill="#1c417a"/>
<path d="M251.95 168.43 L254.54999999999998 171.63 L251.95 174.83 L249.35 171.63 Z" fill="#1c417a"/>
<path d="M251.95 169.19 L254.54999999999998 172.39 L251.95 175.59 L249.35 172.39 Z" fill="#1c417a"/>
<line x1="271.55" y1="81.50" x2="283.55" y2="113.58" stroke="#223" stroke-width="1.1" stroke-dasharray="1.1 1.1"/>
<line x1="271.55" y1="88.38" x2="283.55" y2="121.98" stroke="#223" stroke-width="1.1" stroke-dasharray="1.1 1.1"/>
<line x1="271.55" y1="102.12" x2="283.55" y2="124.27" stroke="#223" stroke-width="1.1" stroke-dasharray="1.1 1.1"/>
<line x1="271.55" y1="105.94" x2="283.55" y2="126.56" stroke="#223" stroke-width="1.1" stroke-dasharray="1.1 1.1"/>
<line x1="271.55" y1="121.98" x2="283.55" y2="92.96" stroke="#223" stroke-width="1.1" stroke-dasharray="1.1 1.1"/>
<circle cx="271.55" cy="81.50" r="2.35" fill="#45a23f"/>
<circle cx="271.55" cy="88.38" r="2.35" fill="#45a23f"/>
<circle cx="271.55" cy="102.12" r="2.35" fill="#45a23f"/>
<circle cx="271.55" cy="105.94" r="2.35" fill="#45a23f"/>
<circle cx="271.55" cy="121.98" r="2.35" fill="#45a23f"/>
<path d="M283.55 89.76 L286.15000000000003 92.96 L283.55 96.16 L280.95 92.96 Z" fill="#1c417a"/>
<path d="M283.55 110.38 L286.15000000000003 113.58 L283.55 116.78 L280.95 113.58 Z" fill="#1c417a"/>
<path d="M283.55 118.78 L286.15000000000003 121.98 L283.55 125.18 L280.95 121.98 Z" fill="#1c417a"/>
<path d="M283.55 121.07 L286.15000000000003 124.27 L283.55 127.47 L280.95 124.27 Z" fill="#1c417a"/>
<path d="M283.55 123.36 L286.15000000000003 126.56 L283.55 129.76 L280.95 126.56 Z" fill="#1c417a"/>
<line x1="303.15" y1="96.02" x2="315.15" y2="105.18" stroke="#223" stroke-width="1.1" stroke-dasharray="1.1 1.1"/>
<line x1="303.15" y1="102.12" x2="315.15" y2="116.64" stroke="#223" stroke-width="1.1" stroke-dasharray="1.1 1.1"/>
<line x1="303.15" y1="105.18" x2="315.15" y2="121.98" stroke="#223" stroke-width="1.1" stroke-dasharray="1.1 1.1"/>
<line x1="303.15" y1="109.76" x2="315.15" y2="121.98" stroke="#223" stroke-width="1.1" stroke-dasharray="1.1 1.1"/>
<line x1="303.15" y1="128.86" x2="315.15" y2="144.13" stroke="#223" stroke-width="1.1" stroke-dasharray="1.1 1.1"/>
<line x1="303.15" y1="147.95" x2="315.15" y2="154.06" stroke="#223" stroke-width="1.1" stroke-dasharray="1.1 1.1"/>
<circle cx="303.15" cy="96.02" r="2.35" fill="#45a23f"/>
<circle cx="303.15" cy="102.12" r="2.35" fill="#45a23f"/>
<circle cx="303.15" cy="105.18" r="2.35" fill="#45a23f"/>
<circle cx="303.15" cy="109.76" r="2.35" fill="#45a23f"/>
<circle cx="303.15" cy="128.86" r="2.35" fill="#45a23f"/>
<circle cx="303.15" cy="147.95" r="2.35" fill="#45a23f"/>
<path d="M315.15 101.98 L317.75 105.18 L315.15 108.38 L312.54999999999995 105.18 Z" fill="#1c417a"/>
<path d="M315.15 113.44 L317.75 116.64 L315.15 119.84 L312.54999999999995 116.64 Z" fill="#1c417a"/>
<path d="M315.15 118.78 L317.75 121.98 L315.15 125.18 L312.54999999999995 121.98 Z" fill="#1c417a"/>
<path d="M315.15 140.93 L317.75 144.13 L315.15 147.33 L312.54999999999995 144.13 Z" fill="#1c417a"/>
<path d="M315.15 150.86 L317.75 154.06 L315.15 157.26 L312.54999999999995 154.06 Z" fill="#1c417a"/>
<path d="M270.3 58.3 V54.3 H287.3 V58.3" fill="none" stroke="#333" stroke-width="1.3"/>
<text x="278.8" y="54.0" font-size="8.5" text-anchor="middle" fill="#333">*</text>
<path d="M302.4 58.3 V54.3 H319.5 V58.3" fill="none" stroke="#333" stroke-width="1.3"/>
<text x="310.95" y="54.0" font-size="8.5" text-anchor="middle" fill="#333">*</text>
<line x1="384" y1="53.0" x2="384" y2="179.1" stroke="#222" stroke-width="1.3"/>
<line x1="383.4" y1="178.5" x2="505.5" y2="178.5" stroke="#222" stroke-width="1.3"/>
<line x1="380.7" y1="178.50" x2="384" y2="178.50" stroke="#222" stroke-width="1"/>
<text x="377.0" y="181.40" font-size="9.2" text-anchor="end" fill="#2a2a2a" stroke="#2a2a2a" stroke-width="0.12">0</text>
<line x1="380.7" y1="163.22" x2="384" y2="163.22" stroke="#222" stroke-width="1"/>
<text x="377.0" y="166.12" font-size="9.2" text-anchor="end" fill="#2a2a2a" stroke="#2a2a2a" stroke-width="0.12">10</text>
<line x1="380.7" y1="147.95" x2="384" y2="147.95" stroke="#222" stroke-width="1"/>
<text x="377.0" y="150.85" font-size="9.2" text-anchor="end" fill="#2a2a2a" stroke="#2a2a2a" stroke-width="0.12">20</text>
<line x1="380.7" y1="132.68" x2="384" y2="132.68" stroke="#222" stroke-width="1"/>
<text x="377.0" y="135.58" font-size="9.2" text-anchor="end" fill="#2a2a2a" stroke="#2a2a2a" stroke-width="0.12">30</text>
<line x1="380.7" y1="117.40" x2="384" y2="117.40" stroke="#222" stroke-width="1"/>
<text x="377.0" y="120.30" font-size="9.2" text-anchor="end" fill="#2a2a2a" stroke="#2a2a2a" stroke-width="0.12">40</text>
<line x1="380.7" y1="102.12" x2="384" y2="102.12" stroke="#222" stroke-width="1"/>
<text x="377.0" y="105.03" font-size="9.2" text-anchor="end" fill="#2a2a2a" stroke="#2a2a2a" stroke-width="0.12">50</text>
<line x1="380.7" y1="86.85" x2="384" y2="86.85" stroke="#222" stroke-width="1"/>
<text x="377.0" y="89.75" font-size="9.2" text-anchor="end" fill="#2a2a2a" stroke="#2a2a2a" stroke-width="0.12">60</text>
<line x1="380.7" y1="71.57" x2="384" y2="71.57" stroke="#222" stroke-width="1"/>
<text x="377.0" y="74.47" font-size="9.2" text-anchor="end" fill="#2a2a2a" stroke="#2a2a2a" stroke-width="0.12">70</text>
<line x1="380.7" y1="56.30" x2="384" y2="56.30" stroke="#222" stroke-width="1"/>
<text x="377.0" y="59.20" font-size="9.2" text-anchor="end" fill="#2a2a2a" stroke="#2a2a2a" stroke-width="0.12">80</text>
<line x1="397.85" y1="178.5" x2="397.85" y2="181.7" stroke="#222" stroke-width="1"/>
<text x="400.25" y="189.70" font-size="8.9" text-anchor="end" fill="#2a2a2a" stroke="#2a2a2a" stroke-width="0.12" transform="rotate(-45 400.25 189.70)">No target</text>
<line x1="429.45" y1="178.5" x2="429.45" y2="181.7" stroke="#222" stroke-width="1"/>
<text x="431.85" y="189.70" font-size="8.9" text-anchor="end" fill="#2a2a2a" stroke="#2a2a2a" stroke-width="0.12" transform="rotate(-45 431.85 189.70)">BE(2)N</text>
<line x1="461.05" y1="178.5" x2="461.05" y2="181.7" stroke="#222" stroke-width="1"/>
<text x="463.45" y="189.70" font-size="8.9" text-anchor="end" fill="#2a2a2a" stroke="#2a2a2a" stroke-width="0.12" transform="rotate(-45 463.45 189.70)">BE(2)N + 3F8</text>
<line x1="492.65" y1="178.5" x2="492.65" y2="181.7" stroke="#222" stroke-width="1"/>
<text x="495.05" y="189.70" font-size="8.9" text-anchor="end" fill="#2a2a2a" stroke="#2a2a2a" stroke-width="0.12" transform="rotate(-45 495.05 189.70)">K562</text>
<text x="0" y="0" font-size="11.5" text-anchor="middle" fill="#2a2a2a" stroke="#2a2a2a" stroke-width="0.35" transform="translate(360.0 116.0) rotate(-90) scale(0.67 1)">% IFN-γ</text>
<line x1="391.85" y1="175.44" x2="403.85" y2="176.97" stroke="#223" stroke-width="1.1" stroke-dasharray="1.1 1.1"/>
<line x1="391.85" y1="176.97" x2="403.85" y2="177.28" stroke="#223" stroke-width="1.1" stroke-dasharray="1.1 1.1"/>
<circle cx="391.85" cy="175.44" r="2.35" fill="#45a23f"/>
<circle cx="391.85" cy="176.97" r="2.35" fill="#45a23f"/>
<path d="M403.85 173.77 L406.45000000000005 176.97 L403.85 180.17 L401.25 176.97 Z" fill="#1c417a"/>
<path d="M403.85 174.08 L406.45000000000005 177.28 L403.85 180.48 L401.25 177.28 Z" fill="#1c417a"/>
<line x1="423.45000000000005" y1="171.63" x2="435.45000000000005" y2="173.92" stroke="#223" stroke-width="1.1" stroke-dasharray="1.1 1.1"/>
<line x1="423.45000000000005" y1="175.44" x2="435.45000000000005" y2="176.67" stroke="#223" stroke-width="1.1" stroke-dasharray="1.1 1.1"/>
<line x1="423.45000000000005" y1="176.97" x2="435.45000000000005" y2="176.67" stroke="#223" stroke-width="1.1" stroke-dasharray="1.1 1.1"/>
<circle cx="423.45000000000005" cy="171.63" r="2.35" fill="#45a23f"/>
<circle cx="423.45000000000005" cy="175.44" r="2.35" fill="#45a23f"/>
<circle cx="423.45000000000005" cy="176.97" r="2.35" fill="#45a23f"/>
<path d="M435.45000000000005 170.72 L438.05000000000007 173.92 L435.45000000000005 177.12 L432.85 173.92 Z" fill="#1c417a"/>
<path d="M435.45000000000005 173.47 L438.05000000000007 176.67 L435.45000000000005 179.87 L432.85 176.67 Z" fill="#1c417a"/>
<line x1="455.05" y1="105.18" x2="467.05" y2="90.67" stroke="#223" stroke-width="1.1" stroke-dasharray="1.1 1.1"/>
<line x1="455.05" y1="106.71" x2="467.05" y2="120.45" stroke="#223" stroke-width="1.1" stroke-dasharray="1.1 1.1"/>
<line x1="455.05" y1="109.00" x2="467.05" y2="123.51" stroke="#223" stroke-width="1.1" stroke-dasharray="1.1 1.1"/>
<line x1="455.05" y1="119.69" x2="467.05" y2="134.20" stroke="#223" stroke-width="1.1" stroke-dasharray="1.1 1.1"/>
<line x1="455.05" y1="133.44" x2="467.05" y2="137.26" stroke="#223" stroke-width="1.1" stroke-dasharray="1.1 1.1"/>
<line x1="455.05" y1="138.78" x2="467.05" y2="134.20" stroke="#223" stroke-width="1.1" stroke-dasharray="1.1 1.1"/>
<circle cx="455.05" cy="105.18" r="2.35" fill="#45a23f"/>
<circle cx="455.05" cy="106.71" r="2.35" fill="#45a23f"/>
<circle cx="455.05" cy="109.00" r="2.35" fill="#45a23f"/>
<circle cx="455.05" cy="119.69" r="2.35" fill="#45a23f"/>
<circle cx="455.05" cy="133.44" r="2.35" fill="#45a23f"/>
<circle cx="455.05" cy="138.78" r="2.35" fill="#45a23f"/>
<path d="M467.05 87.47 L469.65000000000003 90.67 L467.05 93.87 L464.45 90.67 Z" fill="#1c417a"/>
<path d="M467.05 117.25 L469.65000000000003 120.45 L467.05 123.66 L464.45 120.45 Z" fill="#1c417a"/>
<path d="M467.05 120.31 L469.65000000000003 123.51 L467.05 126.71 L464.45 123.51 Z" fill="#1c417a"/>
<path d="M467.05 131.00 L469.65000000000003 134.20 L467.05 137.40 L464.45 134.20 Z" fill="#1c417a"/>
<path d="M467.05 134.06 L469.65000000000003 137.26 L467.05 140.46 L464.45 137.26 Z" fill="#1c417a"/>
<line x1="486.65000000000003" y1="137.26" x2="498.65000000000003" y2="128.86" stroke="#223" stroke-width="1.1" stroke-dasharray="1.1 1.1"/>
<line x1="486.65000000000003" y1="140.31" x2="498.65000000000003" y2="143.37" stroke="#223" stroke-width="1.1" stroke-dasharray="1.1 1.1"/>
<line x1="486.65000000000003" y1="143.37" x2="498.65000000000003" y2="150.24" stroke="#223" stroke-width="1.1" stroke-dasharray="1.1 1.1"/>
<line x1="486.65000000000003" y1="162.46" x2="498.65000000000003" y2="167.50" stroke="#223" stroke-width="1.1" stroke-dasharray="1.1 1.1"/>
<line x1="486.65000000000003" y1="168.57" x2="498.65000000000003" y2="167.50" stroke="#223" stroke-width="1.1" stroke-dasharray="1.1 1.1"/>
<circle cx="486.65000000000003" cy="137.26" r="2.35" fill="#45a23f"/>
<circle cx="486.65000000000003" cy="140.31" r="2.35" fill="#45a23f"/>
<circle cx="486.65000000000003" cy="143.37" r="2.35" fill="#45a23f"/>
<circle cx="486.65000000000003" cy="162.46" r="2.35" fill="#45a23f"/>
<circle cx="486.65000000000003" cy="168.57" r="2.35" fill="#45a23f"/>
<path d="M498.65000000000003 125.66 L501.25000000000006 128.86 L498.65000000000003 132.06 L496.05 128.86 Z" fill="#1c417a"/>
<path d="M498.65000000000003 140.17 L501.25000000000006 143.37 L498.65000000000003 146.57 L496.05 143.37 Z" fill="#1c417a"/>
<path d="M498.65000000000003 142.46 L501.25000000000006 145.66 L498.65000000000003 148.86 L496.05 145.66 Z" fill="#1c417a"/>
<path d="M498.65000000000003 147.04 L501.25000000000006 150.24 L498.65000000000003 153.44 L496.05 150.24 Z" fill="#1c417a"/>
<path d="M498.65000000000003 164.30 L501.25000000000006 167.50 L498.65000000000003 170.70 L496.05 167.50 Z" fill="#1c417a"/>
<line x1="236.5" y1="243.6" x2="249.5" y2="243.6" stroke="#334" stroke-width="1" stroke-dasharray="1 1.2"/>
<ellipse cx="244" cy="243.5" rx="3" ry="2.2" fill="#3f933d"/>
<text x="255" y="246.8" font-size="8.6" fill="#222" stroke="#222" stroke-width="0.08">NKG2C+FcεR1<tspan font-size="85%">γ</tspan>+</text>
<line x1="356.7" y1="243.3" x2="373" y2="243.3" stroke="#334" stroke-width="1" stroke-dasharray="1 1.2"/>
<path d="M365.6 240 L368.5 243.3 L365.6 246.6 L362.7 243.3 Z" fill="#1c417a"/>
<text x="377.2" y="246.6" font-size="8.6" fill="#222" stroke="#222" stroke-width="0.08">NKG2C+FcεR1<tspan font-size="85%">γ</tspan>–</text>
<path d="M76.0 319.5h.1M89.5 321.3h.1M96.1 332.0h.1M85.9 327.2h.1M93.7 335.0h.1M86.1 328.2h.1M94.3 330.2h.1M87.6 315.1h.1M93.9 319.8h.1M85.5 302.7h.1M82.9 322.6h.1M88.0 315.1h.1M94.6 315.8h.1M89.7 310.4h.1M79.9 324.3h.1M86.7 322.6h.1M88.8 311.9h.1M83.0 318.2h.1M90.6 310.6h.1M84.8 330.8h.1M90.9 327.7h.1M90.2 319.5h.1M94.3 326.0h.1M90.3 332.9h.1M78.2 315.0h.1M89.5 333.8h.1M81.2 315.1h.1M85.4 318.8h.1M94.5 325.7h.1M72.0 312.3h.1M88.4 324.8h.1M94.6 316.2h.1M100.3 323.4h.1M84.3 309.6h.1M97.8 329.3h.1M82.6 313.9h.1M82.5 324.7h.1M85.3 324.4h.1M95.7 328.4h.1M89.9 328.5h.1M93.3 310.1h.1M87.8 327.8h.1M91.6 325.1h.1M95.4 337.9h.1M94.9 317.2h.1M84.4 332.4h.1M91.0 321.1h.1M92.1 325.5h.1M93.9 316.7h.1M85.2 336.1h.1M83.7 328.1h.1M87.3 320.0h.1M100.1 314.6h.1M85.7 325.0h.1M84.9 318.1h.1M97.5 313.5h.1M79.9 335.2h.1M80.4 335.7h.1M89.3 325.0h.1M78.5 326.4h.1M77.4 323.8h.1M87.8 331.7h.1M75.7 323.2h.1M96.9 311.5h.1M96.7 335.3h.1M88.4 312.8h.1M91.1 303.9h.1M79.5 326.7h.1M94.5 329.8h.1M85.7 323.3h.1M91.8 320.2h.1M84.0 331.7h.1M85.6 321.6h.1M93.5 311.8h.1M89.3 325.8h.1M81.4 315.8h.1M86.9 323.8h.1M91.2 321.2h.1M81.3 317.4h.1M86.4 315.9h.1M91.8 322.7h.1M87.4 314.8h.1M88.4 326.9h.1M88.8 328.5h.1M85.5 318.5h.1M83.2 322.3h.1M88.1 323.5h.1M89.6 317.9h.1M94.3 313.2h.1M79.3 328.5h.1M79.0 311.5h.1M89.3 332.6h.1M86.6 334.0h.1M90.6 339.4h.1M78.2 318.9h.1M72.9 316.8h.1M82.7 322.9h.1M94.4 329.3h.1M96.8 324.6h.1M79.5 326.9h.1M84.0 310.8h.1M83.8 321.7h.1M92.9 323.5h.1M94.8 309.7h.1M90.6 327.2h.1M100.1 332.0h.1M84.1 328.4h.1M81.4 320.5h.1M99.2 319.9h.1M81.5 317.3h.1M95.4 310.2h.1M79.4 323.0h.1M81.4 330.4h.1M86.8 324.0h.1M82.9 325.8h.1M80.7 334.7h.1M83.2 335.7h.1M99.9 324.8h.1M87.0 312.5h.1M86.0 333.8h.1M79.4 319.9h.1M89.9 326.2h.1M84.0 311.2h.1M78.0 322.4h.1M82.0 331.2h.1M93.8 322.3h.1M84.8 335.9h.1M81.6 319.1h.1M83.1 315.6h.1M85.1 326.6h.1M83.6 330.1h.1M86.6 332.3h.1M93.7 316.4h.1M81.4 336.9h.1M83.4 321.0h.1M85.0 315.6h.1M90.0 311.7h.1M83.5 326.3h.1M90.3 322.1h.1M91.7 318.7h.1M88.0 328.6h.1M91.5 324.1h.1M87.3 320.5h.1M89.2 318.7h.1M90.3 323.9h.1M86.9 327.6h.1M90.1 307.8h.1M80.8 322.9h.1M86.3 317.1h.1M96.5 326.8h.1M91.6 332.8h.1M89.2 316.6h.1M87.5 336.9h.1M92.0 306.7h.1M89.5 309.5h.1M79.3 310.5h.1M89.6 319.7h.1M97.2 325.8h.1M92.5 307.6h.1M78.8 317.6h.1M87.1 316.0h.1M88.9 315.2h.1M94.8 303.1h.1M91.2 332.5h.1M84.9 328.1h.1M90.1 334.0h.1M91.8 318.7h.1M88.5 309.8h.1M82.5 320.0h.1M96.6 324.7h.1M82.9 326.8h.1M92.0 320.2h.1M84.4 328.4h.1M94.8 323.0h.1M83.1 312.7h.1M94.4 317.5h.1M91.7 309.7h.1M95.3 322.9h.1M89.2 309.7h.1M92.2 324.6h.1M86.3 319.7h.1M83.4 316.9h.1M78.0 331.4h.1M94.9 321.2h.1M76.2 326.8h.1M88.9 321.8h.1M87.3 320.1h.1M90.0 310.7h.1M94.4 310.4h.1M91.6 312.5h.1M95.9 327.8h.1M99.9 318.2h.1M82.1 318.9h.1M85.2 317.1h.1M79.9 310.4h.1M87.3 323.0h.1M93.5 324.7h.1M85.1 312.3h.1M84.4 331.4h.1M87.0 335.0h.1M89.8 321.8h.1M90.4 309.3h.1M89.6 314.7h.1M92.1 315.3h.1M90.7 332.0h.1M84.3 315.8h.1M74.3 323.6h.1M87.3 311.6h.1M79.8 322.1h.1M75.3 325.2h.1M77.2 322.7h.1M86.4 323.8h.1M88.0 319.1h.1M93.4 330.7h.1M86.9 323.0h.1M83.9 315.6h.1M87.2 309.2h.1M90.2 320.9h.1M89.2 326.8h.1M76.5 330.5h.1" stroke="#9a9ad0" stroke-width="0.6" stroke-opacity="0.45" stroke-linecap="round" filter="url(#bl2)"/>
<path d="M71.6 313.0h.1M73.5 314.9h.1M67.2 318.4h.1M70.8 314.8h.1M69.1 325.2h.1M72.2 323.1h.1M66.9 314.2h.1M72.3 308.0h.1M70.3 322.8h.1M72.8 319.7h.1M71.3 322.3h.1M67.9 323.2h.1M72.6 307.2h.1M76.3 311.0h.1M75.4 309.5h.1M73.3 328.4h.1M75.5 319.2h.1M71.4 320.3h.1M72.7 323.7h.1M72.3 323.8h.1M74.3 310.3h.1M74.4 321.0h.1M74.0 329.6h.1M74.1 308.1h.1M73.3 315.0h.1M73.8 329.6h.1M69.7 313.4h.1M75.2 306.5h.1M70.8 325.9h.1M73.6 309.4h.1M74.4 307.1h.1M74.4 322.5h.1M73.6 323.3h.1M73.3 316.8h.1M72.7 320.6h.1M71.2 314.5h.1M69.2 326.6h.1M73.5 315.7h.1M75.9 318.5h.1M71.8 322.0h.1M70.8 309.6h.1M73.4 319.7h.1M70.6 321.2h.1M77.3 313.9h.1M75.3 318.6h.1M75.6 317.8h.1M72.9 321.9h.1M68.8 319.7h.1M70.8 324.0h.1M75.8 323.1h.1M69.8 313.6h.1M72.2 332.1h.1M71.2 313.7h.1M67.8 316.0h.1M68.5 325.0h.1M75.6 317.9h.1M77.5 313.4h.1M69.3 320.3h.1M73.2 330.4h.1M76.8 318.2h.1M69.5 314.6h.1M74.5 312.2h.1M70.4 323.7h.1M71.6 312.3h.1M75.5 319.2h.1M69.5 321.8h.1M72.6 326.3h.1M73.5 314.3h.1M71.7 311.1h.1M69.8 309.1h.1M76.3 312.8h.1M77.1 324.2h.1M73.9 308.2h.1M68.2 326.4h.1M75.6 307.6h.1M71.5 304.3h.1M68.1 320.8h.1M75.1 309.9h.1M71.6 314.6h.1M74.3 308.9h.1M66.9 313.2h.1M69.6 315.9h.1M69.4 304.0h.1M72.2 316.9h.1M73.4 323.3h.1M69.9 312.6h.1M74.6 325.2h.1M73.5 300.5h.1M73.8 319.3h.1M71.5 330.9h.1M74.2 305.2h.1M73.0 328.6h.1M73.1 319.7h.1M74.8 307.0h.1M73.3 329.2h.1M71.6 304.9h.1M74.8 323.4h.1M74.0 317.7h.1M71.9 315.7h.1M72.5 309.7h.1M68.2 322.0h.1M65.6 325.2h.1M71.4 324.1h.1M74.1 331.5h.1M75.3 319.3h.1M69.7 312.9h.1M76.4 316.3h.1M69.2 325.6h.1M69.3 310.5h.1M70.5 310.7h.1M70.5 325.4h.1M73.7 305.1h.1M75.0 323.7h.1M73.2 309.7h.1M73.9 318.8h.1M72.9 310.0h.1M71.8 316.9h.1M68.2 315.6h.1M69.7 307.5h.1M73.4 314.5h.1M75.3 310.1h.1M71.8 330.2h.1M69.0 328.3h.1M72.4 323.6h.1M68.5 324.1h.1M73.5 313.6h.1M73.2 318.8h.1M73.0 311.8h.1M69.2 318.6h.1M71.8 318.5h.1M72.4 326.6h.1M70.9 310.7h.1M72.2 309.7h.1M71.4 315.9h.1M67.2 322.9h.1M74.5 328.4h.1M69.2 317.3h.1M72.1 317.7h.1M72.5 323.0h.1M75.2 318.5h.1M71.7 320.9h.1M67.9 306.8h.1M72.4 326.0h.1M72.4 319.1h.1M68.2 318.3h.1M72.0 320.9h.1M71.8 309.9h.1M74.2 320.1h.1M69.6 322.6h.1M72.8 315.2h.1M70.0 311.6h.1M72.0 319.8h.1M72.0 323.4h.1M73.6 325.4h.1M69.9 317.6h.1M71.7 325.7h.1M72.1 322.3h.1M71.7 314.5h.1M71.7 320.6h.1M74.1 322.8h.1M70.8 312.4h.1M70.4 325.9h.1M74.1 302.8h.1M73.8 326.4h.1M68.8 312.3h.1M68.0 323.2h.1M70.3 312.0h.1M68.8 316.8h.1M72.9 319.1h.1M71.9 321.8h.1M75.1 322.9h.1M73.3 319.9h.1M69.7 310.2h.1M74.4 313.7h.1M70.3 324.2h.1M75.1 308.1h.1M74.4 308.8h.1M73.4 328.7h.1M76.0 321.4h.1M67.6 319.8h.1M73.2 323.3h.1M70.4 315.3h.1M74.6 310.5h.1M72.7 306.8h.1M65.9 327.7h.1M70.2 320.5h.1M72.2 313.7h.1M75.2 324.4h.1M68.4 308.8h.1M69.8 309.1h.1M71.2 318.2h.1M70.2 311.9h.1M71.2 312.1h.1M70.6 309.9h.1M72.8 331.7h.1M68.8 315.1h.1M72.3 320.2h.1M70.8 316.9h.1M71.9 320.6h.1M72.9 319.9h.1M73.3 307.5h.1M69.8 318.6h.1M70.6 308.5h.1M69.0 325.5h.1M74.8 322.8h.1M73.3 328.5h.1M74.6 329.1h.1M69.9 307.8h.1M74.7 309.5h.1M70.3 330.9h.1M73.6 327.0h.1M73.0 326.5h.1M71.1 305.7h.1M72.8 322.0h.1M68.8 312.2h.1M73.9 317.9h.1M73.8 327.3h.1M67.5 320.3h.1M72.0 308.2h.1M67.0 328.5h.1M72.2 310.7h.1M70.2 313.8h.1M72.3 326.8h.1M71.5 315.4h.1M72.7 303.3h.1M72.5 322.0h.1M70.9 322.2h.1M75.8 322.9h.1M71.1 321.6h.1M68.2 313.4h.1M74.4 328.0h.1M70.9 326.4h.1M69.1 311.8h.1M68.6 320.9h.1M72.5 332.0h.1M73.2 328.1h.1M70.6 307.6h.1M73.8 316.9h.1M70.9 313.7h.1M73.5 321.1h.1M70.3 316.0h.1M73.9 327.3h.1M72.2 313.6h.1M68.3 313.1h.1M72.5 324.6h.1M72.0 304.0h.1M69.2 326.9h.1M74.2 321.2h.1M71.0 322.1h.1M68.5 318.0h.1M72.2 329.1h.1M68.5 314.3h.1M74.1 306.1h.1M76.3 316.2h.1M75.4 313.6h.1M68.7 317.9h.1M67.9 315.0h.1M72.3 317.4h.1M70.0 317.2h.1M69.2 311.4h.1M72.6 320.8h.1M69.0 329.6h.1M72.7 327.2h.1M71.9 300.9h.1M67.1 328.1h.1M69.4 306.3h.1M76.0 310.1h.1M69.9 326.4h.1M69.3 320.5h.1M76.6 325.1h.1M68.9 320.4h.1M69.6 312.0h.1M71.0 332.6h.1M69.6 320.5h.1M68.6 309.1h.1M72.3 309.5h.1M74.1 318.9h.1M72.4 319.9h.1M75.3 313.8h.1M72.5 323.4h.1M72.1 312.8h.1M69.1 332.8h.1M73.1 313.3h.1M75.2 331.5h.1M69.5 317.3h.1M72.5 307.0h.1M69.7 315.8h.1M75.5 326.1h.1M72.1 314.6h.1M72.6 310.0h.1M70.9 317.8h.1M75.2 310.7h.1M70.8 319.8h.1M75.3 309.5h.1M71.9 316.3h.1M73.9 308.1h.1M70.6 330.9h.1M68.8 307.6h.1M77.4 316.7h.1M74.3 315.5h.1" stroke="#6a6ac8" stroke-width="0.6" stroke-opacity="0.45" stroke-linecap="round" filter="url(#bl2)"/>
<path d="M71.4 311.3h.1M74.6 313.1h.1M72.9 316.6h.1M72.2 316.9h.1M70.6 310.2h.1M73.6 308.1h.1M73.9 310.3h.1M72.6 303.8h.1M71.3 316.7h.1M71.8 312.0h.1M70.1 314.9h.1M73.8 310.2h.1M74.3 314.2h.1M70.4 311.7h.1M68.7 314.6h.1M69.7 313.5h.1M71.5 316.0h.1M73.0 307.7h.1M71.1 306.0h.1M72.0 311.5h.1M70.7 314.5h.1M73.6 318.7h.1M71.8 317.8h.1M73.4 320.4h.1M73.4 307.6h.1M72.4 317.0h.1M73.1 310.1h.1M72.6 312.3h.1M74.2 313.9h.1M73.6 311.5h.1M72.5 308.2h.1M70.4 315.5h.1M69.9 311.0h.1M73.7 318.0h.1M72.4 316.5h.1M72.2 310.7h.1M73.0 311.4h.1M70.2 309.7h.1M70.8 312.4h.1M73.0 307.4h.1M71.6 311.0h.1M74.1 310.3h.1M70.9 307.1h.1M70.9 318.0h.1M73.2 315.7h.1M72.0 315.2h.1M74.0 309.0h.1M70.8 316.3h.1M70.7 314.7h.1M73.4 318.5h.1M74.2 318.2h.1M71.9 316.2h.1M71.4 307.8h.1M70.7 311.5h.1M70.5 316.2h.1M69.2 312.4h.1M71.2 306.3h.1M71.9 306.9h.1M72.9 305.6h.1M71.8 307.3h.1M70.4 314.0h.1M70.5 313.3h.1M70.4 317.2h.1M72.6 319.2h.1M71.6 313.9h.1M71.5 305.5h.1M72.8 315.2h.1M72.9 311.7h.1M71.6 310.4h.1M74.6 307.5h.1M70.9 313.9h.1M71.4 306.2h.1M70.5 311.1h.1M73.8 312.3h.1M71.7 311.8h.1M73.1 313.5h.1M73.9 306.9h.1M73.7 313.0h.1M72.0 318.8h.1M74.5 317.1h.1M70.0 312.5h.1M73.1 308.1h.1M73.8 311.7h.1M73.7 317.7h.1M71.5 313.6h.1M69.9 310.8h.1M72.4 319.4h.1M71.8 315.0h.1M72.3 307.5h.1M73.4 308.6h.1M75.0 309.7h.1M70.2 314.7h.1M74.6 314.9h.1M73.7 320.5h.1M73.8 312.0h.1M73.0 315.4h.1M72.7 311.6h.1M72.1 310.0h.1M71.7 311.1h.1M73.4 308.6h.1M71.5 312.1h.1M72.4 313.5h.1M72.3 318.8h.1M70.1 308.6h.1M73.5 318.8h.1M73.6 316.9h.1M71.3 305.8h.1M74.5 312.6h.1M71.6 320.5h.1M75.4 312.0h.1M72.6 314.1h.1M74.0 314.4h.1M70.0 312.3h.1M72.3 320.0h.1M71.2 304.6h.1M74.4 316.5h.1M73.9 311.5h.1M73.6 305.1h.1M73.0 312.8h.1M73.9 313.8h.1M72.8 308.3h.1M72.5 307.9h.1M73.4 313.5h.1M73.2 320.5h.1M74.1 308.8h.1M72.5 305.0h.1M74.2 312.9h.1M72.5 317.2h.1M72.9 309.2h.1M72.7 308.5h.1M72.6 312.2h.1M72.2 313.4h.1M71.5 319.4h.1M71.3 315.1h.1M70.6 308.9h.1M72.4 314.7h.1M72.4 320.4h.1M70.3 310.8h.1M71.3 305.6h.1M71.0 310.8h.1M72.5 316.3h.1M72.9 314.2h.1M71.5 305.6h.1M73.5 311.2h.1M74.2 310.2h.1M71.0 316.5h.1M74.8 315.4h.1M73.6 308.2h.1M71.3 310.1h.1M71.2 316.4h.1M75.4 311.6h.1M73.9 309.2h.1M73.5 316.4h.1M74.3 312.3h.1M72.8 308.4h.1M72.9 309.9h.1M71.4 311.2h.1M69.1 314.5h.1M72.0 310.4h.1M72.6 306.6h.1M72.5 311.4h.1M73.6 316.8h.1M71.6 314.4h.1M72.7 305.4h.1M71.4 319.0h.1M72.8 310.3h.1M70.2 312.2h.1M74.6 314.4h.1M71.6 315.6h.1M71.5 320.5h.1M71.4 311.0h.1M72.0 317.4h.1M71.2 313.8h.1M72.8 310.3h.1M72.4 314.6h.1M70.2 312.9h.1M74.9 314.3h.1M72.6 318.7h.1M72.3 309.5h.1M70.8 319.6h.1M71.8 311.1h.1M70.6 313.7h.1M73.5 309.9h.1M70.8 307.2h.1M70.7 313.8h.1M70.7 318.1h.1M72.1 306.3h.1M71.9 307.4h.1M73.4 317.3h.1M70.9 309.9h.1M70.5 312.7h.1M72.8 306.4h.1M74.7 314.7h.1M69.5 315.0h.1M71.5 307.2h.1M74.7 314.5h.1M74.7 315.6h.1M71.9 315.3h.1M74.7 315.3h.1M71.3 316.3h.1M72.6 307.2h.1M71.5 306.0h.1M71.9 316.5h.1M70.5 313.4h.1M69.6 315.8h.1M74.0 312.1h.1M73.6 316.8h.1M69.6 316.0h.1M71.4 307.7h.1M69.4 308.8h.1M72.0 318.3h.1M72.2 316.6h.1M72.8 317.8h.1M74.2 318.3h.1M69.2 316.1h.1M74.9 313.7h.1M69.5 311.7h.1M70.3 306.7h.1M71.9 312.1h.1M69.7 314.7h.1M73.0 319.5h.1M73.9 309.4h.1M72.3 314.2h.1M70.5 312.1h.1M72.2 320.0h.1M73.4 315.0h.1M70.4 317.5h.1M73.2 314.5h.1M74.4 308.8h.1M71.4 310.9h.1M71.9 315.9h.1M69.4 314.5h.1M69.1 311.9h.1M71.4 313.2h.1M74.0 315.1h.1M71.9 308.7h.1M71.6 306.5h.1M71.5 316.4h.1M72.6 311.5h.1M68.9 314.6h.1M71.0 311.2h.1M71.6 310.3h.1M75.1 316.2h.1M73.2 311.6h.1M70.8 316.6h.1M71.5 304.6h.1M72.9 310.8h.1M73.1 318.5h.1M74.3 316.4h.1M71.7 316.3h.1M72.1 309.1h.1M70.4 312.9h.1M73.7 317.3h.1M72.0 313.8h.1M73.1 317.3h.1M73.6 315.5h.1M71.5 312.0h.1M70.6 310.8h.1M73.6 307.0h.1M69.9 315.0h.1M74.8 311.2h.1M75.4 310.3h.1M70.7 315.6h.1M74.3 316.2h.1M73.8 308.1h.1M73.3 314.6h.1M73.4 315.2h.1M70.6 312.3h.1M74.3 311.1h.1M72.9 314.0h.1M71.4 314.2h.1M71.0 309.6h.1M73.2 312.0h.1M72.5 316.1h.1M73.4 307.4h.1M70.3 310.9h.1M69.5 311.4h.1M71.2 319.1h.1M72.2 313.5h.1M73.4 314.1h.1M73.2 313.6h.1M73.9 307.6h.1M70.1 313.1h.1M70.3 309.1h.1M69.0 318.4h.1M71.8 309.3h.1M74.8 311.6h.1M70.3 307.2h.1M73.3 316.0h.1M72.4 316.8h.1M70.5 307.4h.1M73.0 314.1h.1M72.2 309.6h.1M71.6 311.2h.1M71.6 314.4h.1M73.7 318.8h.1M72.8 308.1h.1M70.4 310.2h.1M71.0 319.4h.1M71.2 310.7h.1" stroke="#4a90b8" stroke-width="0.8" stroke-opacity="0.6" stroke-linecap="round" filter="url(#bl2)"/>
<path d="M71.4 313.8h.1M71.7 310.4h.1M70.2 313.3h.1M70.9 310.8h.1M72.5 315.6h.1M73.4 310.3h.1M69.9 314.9h.1M71.1 311.5h.1M72.9 315.5h.1M72.2 315.4h.1M74.2 312.7h.1M73.9 313.9h.1M71.8 316.8h.1M72.9 313.6h.1M71.5 317.4h.1M73.9 311.8h.1M73.3 314.6h.1M74.6 314.1h.1M69.3 311.3h.1M72.5 317.5h.1M73.1 307.6h.1M70.8 310.5h.1M72.3 311.5h.1M72.5 308.0h.1M71.9 318.2h.1M73.5 314.9h.1M69.6 312.4h.1M72.1 309.2h.1M71.0 312.3h.1M73.4 316.7h.1M74.0 309.0h.1M70.9 313.6h.1M73.3 313.1h.1M71.7 310.8h.1M72.8 306.8h.1M72.9 316.8h.1M71.1 313.7h.1M71.8 313.3h.1M72.8 307.0h.1M74.1 311.6h.1M71.8 308.1h.1M70.3 314.9h.1M73.2 308.4h.1M72.5 316.9h.1M72.4 311.0h.1M73.8 317.4h.1M72.3 319.1h.1M71.1 316.1h.1M71.7 314.0h.1M72.7 307.3h.1M72.9 309.4h.1M73.4 307.8h.1M70.1 307.5h.1M71.6 311.6h.1M74.3 310.8h.1M70.5 309.3h.1M71.2 308.3h.1M72.8 315.1h.1M73.3 317.4h.1M72.8 308.3h.1M71.0 313.4h.1M72.2 315.7h.1M72.9 317.1h.1M72.2 310.4h.1M71.5 310.3h.1M71.9 312.3h.1M73.8 316.6h.1M71.8 314.1h.1M71.3 308.3h.1M72.3 313.2h.1M71.7 318.1h.1M72.5 319.5h.1M70.9 316.2h.1M73.3 317.5h.1M71.3 314.7h.1M73.4 319.1h.1M72.1 312.4h.1M71.0 318.5h.1M73.1 307.5h.1M71.1 313.4h.1M71.6 311.8h.1M71.1 315.3h.1M73.0 308.8h.1M72.6 311.5h.1M71.9 316.0h.1M73.4 318.8h.1M72.0 312.7h.1M74.5 312.0h.1M72.5 317.0h.1M71.7 315.5h.1M72.4 316.2h.1M72.0 317.9h.1M70.4 308.8h.1M72.5 315.2h.1M74.2 313.3h.1M71.5 308.6h.1M71.7 308.2h.1M71.7 309.9h.1M73.9 316.0h.1M71.5 317.3h.1M74.0 309.6h.1M72.9 319.6h.1M69.5 310.9h.1M73.5 317.7h.1M71.3 307.7h.1M73.5 309.0h.1M71.6 313.8h.1M72.2 309.5h.1M73.1 313.9h.1M72.6 308.6h.1M71.8 319.3h.1M71.7 306.9h.1M73.6 314.4h.1M73.2 318.0h.1M72.9 317.6h.1M70.0 311.9h.1M74.3 315.6h.1M73.2 317.1h.1M73.0 318.1h.1M71.9 310.3h.1M71.0 312.1h.1M73.7 311.9h.1M72.5 312.7h.1M74.8 310.7h.1M73.2 309.5h.1M70.5 314.2h.1M74.3 314.0h.1M70.0 309.1h.1M72.4 311.7h.1M72.8 309.2h.1M70.7 317.8h.1M70.6 314.7h.1M72.5 311.8h.1M72.6 313.1h.1M69.5 313.5h.1M73.3 315.2h.1M72.3 307.0h.1M69.7 315.0h.1M72.7 317.7h.1M73.1 317.0h.1M70.6 312.8h.1M70.0 309.8h.1M71.6 312.3h.1M70.4 311.5h.1M74.3 309.6h.1M72.5 316.4h.1M73.4 314.4h.1M72.2 310.4h.1M73.5 316.2h.1M70.8 311.6h.1M74.1 314.4h.1M73.0 315.8h.1M72.2 305.5h.1M71.1 308.6h.1M70.1 314.2h.1M73.0 306.2h.1M71.0 308.1h.1M70.7 317.9h.1M71.6 315.8h.1M74.2 311.5h.1M73.3 313.0h.1M71.9 312.0h.1M70.3 311.2h.1M69.4 310.4h.1M72.8 311.7h.1M71.7 311.9h.1M71.0 307.9h.1M72.8 319.7h.1M72.9 308.3h.1M72.3 316.1h.1M71.0 315.9h.1M71.9 315.7h.1M74.6 315.1h.1M73.7 314.7h.1M72.1 318.5h.1M70.0 312.4h.1M73.0 308.5h.1M70.7 315.5h.1M70.6 316.5h.1M73.3 311.8h.1M75.0 309.7h.1M70.3 309.9h.1M72.6 305.4h.1M71.9 309.9h.1M69.9 314.2h.1M72.9 316.9h.1M72.9 312.3h.1M74.2 316.2h.1M73.5 307.9h.1M70.6 312.1h.1M69.9 311.9h.1M73.8 309.6h.1M71.4 317.5h.1M73.4 307.7h.1M70.9 312.0h.1M74.3 315.4h.1M72.7 313.3h.1M72.9 316.1h.1M72.2 318.1h.1M70.6 315.3h.1M70.4 315.9h.1M71.0 313.6h.1M72.3 314.4h.1M71.5 311.6h.1M73.6 309.7h.1M71.2 308.4h.1M70.8 314.2h.1M70.7 309.1h.1M70.4 314.3h.1M72.6 307.4h.1M73.8 309.2h.1M73.6 310.0h.1M72.7 307.4h.1M71.7 308.0h.1M73.1 308.8h.1M70.5 311.7h.1M71.3 312.1h.1M71.8 313.9h.1M73.7 316.6h.1M71.2 308.5h.1M71.1 314.8h.1M70.1 315.1h.1M70.5 311.4h.1M72.9 316.9h.1M74.0 314.5h.1M71.6 316.2h.1M70.7 315.2h.1M72.0 317.9h.1M73.7 308.6h.1M70.0 310.0h.1M70.8 313.7h.1M72.0 318.0h.1M69.8 312.5h.1M73.6 317.1h.1M72.3 314.5h.1M71.3 310.6h.1M72.3 318.0h.1M72.6 310.0h.1M70.3 314.9h.1M73.7 308.2h.1M73.8 317.1h.1M74.2 315.4h.1M70.5 313.9h.1M71.5 314.2h.1M73.6 309.8h.1M73.4 309.8h.1M71.8 314.3h.1M72.0 312.0h.1M71.8 313.6h.1M69.5 314.3h.1M72.9 314.4h.1M72.0 315.7h.1M71.7 318.6h.1M71.1 314.3h.1M70.0 312.2h.1M71.9 317.7h.1M72.5 319.2h.1M70.6 314.9h.1M73.5 319.3h.1M70.1 314.0h.1M73.2 314.3h.1M70.1 315.2h.1M73.3 312.1h.1M72.4 313.1h.1M72.1 313.4h.1M74.1 308.8h.1M74.3 307.9h.1M72.8 317.0h.1M71.2 315.8h.1M72.1 309.6h.1M72.3 312.3h.1M73.2 317.9h.1M73.4 318.1h.1M73.4 310.5h.1M74.3 311.7h.1M72.9 316.2h.1M73.2 309.0h.1M72.0 316.6h.1M74.7 314.1h.1M70.2 314.3h.1M74.0 316.2h.1M71.4 318.6h.1M72.1 315.4h.1M70.0 311.7h.1M72.2 306.8h.1M72.8 311.8h.1M70.3 313.5h.1M70.3 315.5h.1M73.2 308.0h.1M72.4 309.5h.1M72.5 310.1h.1M73.5 319.2h.1M74.4 315.8h.1M72.9 315.8h.1M71.1 312.9h.1M72.0 316.5h.1M72.6 315.0h.1M70.9 310.9h.1M71.9 311.9h.1M72.4 310.9h.1M71.7 314.1h.1M70.6 316.4h.1M70.5 318.2h.1M70.4 310.0h.1M70.2 307.8h.1M72.8 310.9h.1M72.5 319.2h.1M70.9 312.9h.1M73.7 317.8h.1M71.2 314.2h.1M74.8 313.1h.1M72.1 315.3h.1M70.8 315.3h.1M72.0 310.2h.1M71.1 307.0h.1M70.1 311.4h.1M72.9 307.2h.1M72.8 309.2h.1M71.0 307.7h.1M73.7 312.9h.1M71.7 308.4h.1M74.1 318.6h.1M72.3 307.6h.1M72.5 309.7h.1M71.3 307.9h.1M73.6 314.1h.1M74.3 310.4h.1M73.7 317.1h.1M72.4 308.1h.1M72.9 313.4h.1M73.9 309.8h.1M71.1 313.4h.1M74.0 309.0h.1M73.5 311.6h.1M72.0 306.7h.1M72.0 310.9h.1M74.6 313.3h.1M73.4 317.5h.1M70.9 316.6h.1M74.1 313.1h.1M70.8 308.3h.1M71.0 317.2h.1M71.5 311.6h.1M71.1 311.0h.1M70.9 312.2h.1M72.1 310.2h.1M74.4 310.2h.1M71.4 310.0h.1M71.1 311.5h.1M70.5 312.1h.1M74.3 313.7h.1M72.8 308.1h.1M74.5 311.7h.1M73.7 312.1h.1M72.2 316.3h.1M72.5 319.0h.1M72.0 309.5h.1M71.6 315.2h.1M72.7 313.0h.1M72.6 316.7h.1M72.7 313.6h.1M73.6 311.1h.1M70.2 313.3h.1M73.1 306.8h.1M73.0 316.2h.1M71.7 312.4h.1M74.0 314.5h.1M74.1 310.2h.1M70.1 312.3h.1M71.0 318.0h.1M70.1 309.5h.1M70.7 316.4h.1M72.6 312.3h.1M71.2 316.3h.1M70.6 316.8h.1M72.1 311.9h.1M70.9 310.1h.1M70.8 317.2h.1M71.2 306.5h.1M73.9 306.6h.1M74.4 314.1h.1M69.8 315.3h.1M70.8 311.8h.1M70.8 313.8h.1M72.4 311.8h.1M69.7 312.7h.1M70.8 317.5h.1M71.1 310.8h.1M70.3 311.4h.1M70.4 313.9h.1M70.5 309.5h.1M71.2 312.1h.1M73.3 310.8h.1M71.9 306.8h.1M74.1 314.8h.1M72.3 316.5h.1M74.0 315.2h.1M72.6 313.0h.1M69.7 312.2h.1M71.8 316.8h.1M72.1 309.4h.1M71.9 308.0h.1M73.2 307.5h.1M71.8 309.9h.1M72.7 313.4h.1M73.5 313.9h.1M73.2 306.0h.1M71.4 315.1h.1M72.3 311.0h.1M73.8 316.3h.1M71.0 316.4h.1M71.7 318.2h.1M70.2 313.0h.1M71.6 311.4h.1M73.4 314.9h.1M70.5 307.6h.1M74.1 308.6h.1M71.4 309.8h.1M73.2 313.5h.1M70.7 307.5h.1M71.7 310.6h.1M73.5 315.5h.1M72.4 315.6h.1M70.5 312.1h.1M70.2 311.5h.1M72.7 318.8h.1M70.4 312.5h.1M73.3 313.3h.1M72.1 316.5h.1M71.8 308.1h.1M71.0 317.6h.1M70.5 316.8h.1M73.4 308.2h.1M72.1 315.1h.1M70.3 309.4h.1M71.9 308.6h.1M70.9 313.9h.1M73.1 309.8h.1M73.8 316.7h.1M72.2 316.2h.1M73.0 309.1h.1M71.7 308.7h.1M72.0 311.5h.1M72.2 305.9h.1M74.2 312.0h.1M71.9 312.1h.1M73.9 313.8h.1M69.6 311.9h.1M70.4 313.8h.1M70.8 315.8h.1M74.6 311.6h.1M72.4 312.8h.1M73.0 312.7h.1M72.3 317.8h.1M73.5 309.0h.1M72.0 309.8h.1M70.0 311.5h.1M73.7 312.7h.1M71.9 307.8h.1M72.7 309.2h.1M70.5 316.8h.1M74.1 316.7h.1M71.6 318.2h.1M73.9 313.7h.1M70.8 315.2h.1M73.2 313.4h.1M71.8 311.2h.1M73.7 317.3h.1M72.3 311.7h.1M70.7 308.0h.1M71.6 307.7h.1M72.4 309.9h.1M71.0 316.7h.1M71.1 318.3h.1M71.0 318.9h.1M73.4 309.6h.1M74.5 312.5h.1M71.6 315.0h.1M70.8 317.9h.1M70.6 315.1h.1M72.9 316.5h.1M71.2 314.6h.1M73.8 310.3h.1M73.4 314.5h.1M74.0 317.3h.1M72.6 312.2h.1M72.4 308.1h.1M72.1 307.2h.1M71.4 317.0h.1M74.6 309.9h.1M71.5 309.2h.1M71.0 318.5h.1M71.8 316.2h.1M71.9 318.7h.1M73.4 313.3h.1M71.7 313.0h.1M72.5 317.5h.1M70.6 313.8h.1M72.7 315.6h.1M72.2 312.7h.1M73.0 308.4h.1M71.7 309.6h.1M72.5 314.5h.1M71.7 313.1h.1M71.9 307.2h.1M73.0 315.7h.1M73.4 312.1h.1M72.3 311.8h.1M73.8 314.2h.1M72.9 307.7h.1M73.1 308.1h.1M71.6 315.9h.1M71.8 313.9h.1M73.2 309.1h.1M70.9 317.3h.1M72.0 318.0h.1M70.4 308.9h.1M71.8 316.3h.1M73.8 312.5h.1M72.6 315.9h.1M73.4 318.8h.1M69.7 311.0h.1M72.4 315.0h.1M71.8 317.9h.1M71.0 317.1h.1M71.5 318.1h.1M70.5 310.4h.1M72.0 317.3h.1M74.5 309.5h.1M71.7 317.7h.1M71.8 311.3h.1M71.9 317.9h.1M73.1 307.4h.1M74.1 309.2h.1M73.2 309.2h.1M72.4 316.5h.1M73.1 312.9h.1M70.6 315.7h.1M73.1 312.2h.1M71.7 316.6h.1M73.2 308.8h.1M73.4 313.1h.1M71.7 313.7h.1M71.0 318.9h.1M71.9 316.0h.1M72.0 315.5h.1M74.1 314.7h.1M72.9 311.2h.1M72.3 308.8h.1M69.8 308.8h.1" stroke="#3fa0b0" stroke-width="0.8" stroke-opacity="0.75" stroke-linecap="round" filter="url(#bl2)"/>
<path d="M99.4 340.7h.1M92.3 341.4h.1M90.8 339.3h.1M79.3 339.1h.1M73.8 342.2h.1M76.9 342.2h.1M65.5 339.7h.1M88.1 341.5h.1M98.4 337.5h.1M96.1 340.1h.1M88.3 340.9h.1M77.9 340.4h.1M71.4 340.8h.1M97.3 336.8h.1M73.3 341.3h.1M79.9 338.6h.1M77.6 343.8h.1M72.3 343.5h.1M82.8 342.2h.1M73.2 338.8h.1M90.7 337.1h.1M78.4 337.6h.1M78.5 335.8h.1M82.6 337.3h.1M84.4 341.3h.1M82.2 337.3h.1M72.8 344.1h.1M73.6 343.3h.1M74.8 340.4h.1M69.2 339.8h.1M89.8 344.4h.1M82.8 344.4h.1M75.0 338.9h.1M92.7 340.3h.1M85.3 336.9h.1M85.5 343.9h.1M87.0 339.5h.1M85.8 338.9h.1M96.0 341.6h.1M87.8 342.5h.1M83.5 341.3h.1M68.5 340.5h.1M77.4 345.0h.1M71.3 341.0h.1M83.6 343.8h.1M87.2 339.3h.1M91.6 344.3h.1M70.2 340.6h.1M74.1 335.5h.1M82.9 344.7h.1M72.5 337.3h.1M88.3 345.4h.1M95.0 343.2h.1M81.6 342.0h.1M71.9 343.9h.1M87.8 344.6h.1M90.0 339.6h.1M94.3 338.8h.1M88.2 339.4h.1M85.4 339.8h.1M78.5 340.5h.1M86.3 342.2h.1M82.4 343.0h.1M96.9 343.1h.1M85.4 344.7h.1M86.6 338.5h.1M83.0 340.9h.1M86.3 335.9h.1M71.7 334.9h.1M93.1 336.7h.1M101.0 340.5h.1M92.5 341.8h.1M73.4 342.4h.1M100.3 340.5h.1M82.1 341.8h.1M85.4 342.8h.1M90.7 341.8h.1M79.2 343.1h.1M84.5 342.3h.1M95.8 341.7h.1M73.1 344.2h.1M80.8 341.0h.1M75.7 341.3h.1M73.0 338.5h.1M78.5 341.8h.1M88.9 338.5h.1M77.7 337.7h.1M71.8 343.7h.1M70.6 342.6h.1M74.8 339.3h.1M75.6 343.1h.1M80.7 345.0h.1M87.3 343.2h.1M87.9 339.4h.1M94.2 337.5h.1M96.6 339.6h.1M97.9 340.0h.1M76.5 338.5h.1M91.6 341.3h.1M70.9 340.2h.1M75.5 344.5h.1M93.6 344.2h.1M86.7 341.1h.1M79.6 337.4h.1M99.6 342.0h.1M84.4 342.4h.1M83.1 340.5h.1M78.8 337.7h.1M94.4 338.8h.1M85.8 341.5h.1M84.2 339.3h.1M75.1 340.2h.1M78.2 342.1h.1M88.2 336.9h.1M80.8 336.3h.1M68.2 340.0h.1M80.6 336.6h.1M69.9 341.0h.1M89.3 337.4h.1M98.1 338.1h.1M76.4 339.1h.1M75.9 338.1h.1M71.5 343.6h.1M71.2 336.1h.1M70.4 342.5h.1M78.6 344.8h.1M81.2 346.0h.1M93.0 339.2h.1M92.3 340.9h.1M94.5 338.3h.1M79.4 344.6h.1M90.8 341.7h.1M83.1 342.9h.1M76.0 344.3h.1M98.8 340.9h.1M80.0 336.7h.1M70.7 341.0h.1M90.7 338.4h.1M77.2 338.9h.1M100.1 341.0h.1M92.1 340.0h.1M77.1 338.5h.1M84.1 343.6h.1M90.1 335.6h.1M84.9 341.4h.1M79.0 340.5h.1M75.9 340.4h.1M75.1 341.7h.1M97.5 337.5h.1M93.6 340.7h.1M80.4 346.7h.1M90.0 339.1h.1M92.6 341.6h.1M88.9 340.3h.1M88.2 337.7h.1M82.4 341.6h.1M84.0 339.2h.1M87.1 338.7h.1M103.5 338.3h.1M76.0 339.8h.1M81.0 339.0h.1M91.3 341.5h.1M94.6 343.3h.1M99.7 344.0h.1M78.1 340.3h.1M76.9 343.8h.1M106.0 340.5h.1M83.7 337.8h.1M63.5 342.0h.1M70.3 343.2h.1M87.2 341.7h.1M71.6 339.9h.1M83.7 339.9h.1M86.1 340.3h.1M89.8 345.3h.1M95.0 337.4h.1M93.6 344.2h.1M92.3 342.1h.1M82.6 338.0h.1M66.2 341.9h.1M95.7 339.4h.1M86.3 340.6h.1M96.7 340.1h.1M87.6 340.5h.1M89.8 346.3h.1M93.2 344.6h.1M83.8 343.7h.1M82.7 340.3h.1M79.9 341.2h.1M76.3 341.5h.1M94.3 339.8h.1M83.1 341.1h.1M88.4 337.5h.1M66.9 342.1h.1M95.3 336.8h.1M95.9 337.8h.1M82.8 344.1h.1M79.5 341.5h.1M72.3 336.7h.1M83.0 339.7h.1M85.2 338.3h.1M102.3 339.7h.1M86.0 339.1h.1M78.0 343.5h.1M82.1 339.7h.1M86.9 340.3h.1M79.7 341.7h.1M86.8 344.0h.1M75.8 340.8h.1M86.7 344.4h.1M87.0 334.9h.1M77.9 338.5h.1M90.8 345.7h.1M82.8 343.2h.1M85.2 342.1h.1M82.6 342.7h.1M73.8 338.1h.1M82.3 340.2h.1M74.6 338.5h.1M91.7 338.0h.1M81.2 339.7h.1M77.2 336.1h.1M80.3 341.6h.1M68.1 341.3h.1M79.4 342.8h.1M68.8 345.0h.1M84.9 346.0h.1M85.4 339.4h.1M76.1 338.4h.1M93.2 342.3h.1M74.9 345.9h.1M80.3 338.5h.1M76.2 341.2h.1M91.9 341.1h.1M86.9 337.9h.1M83.5 342.0h.1M75.8 343.7h.1M76.9 340.4h.1M80.8 338.1h.1M85.2 342.4h.1M70.5 342.9h.1M74.9 344.7h.1M100.1 340.1h.1M87.9 335.2h.1M81.5 342.9h.1M74.3 338.1h.1M75.9 342.0h.1M77.4 338.2h.1M98.7 342.7h.1M99.3 342.4h.1M80.1 337.6h.1M80.9 342.1h.1M99.4 337.3h.1M77.0 336.4h.1M83.6 336.6h.1M92.6 338.2h.1M97.8 339.0h.1M76.4 339.9h.1M75.7 345.7h.1M80.7 339.4h.1M94.2 343.2h.1M86.9 337.7h.1M92.4 345.6h.1M91.9 339.3h.1M80.6 338.2h.1M81.0 342.1h.1M68.3 342.9h.1M79.5 340.6h.1M95.6 341.3h.1M92.0 341.3h.1M73.2 344.0h.1M81.3 344.9h.1M79.9 337.9h.1M83.2 341.7h.1M78.9 341.4h.1M85.9 339.8h.1M82.8 339.5h.1M69.0 341.0h.1M68.3 341.3h.1M75.8 338.5h.1M78.3 338.1h.1M71.3 337.1h.1M85.0 339.3h.1M88.8 344.2h.1M89.3 340.7h.1M83.5 337.3h.1M98.7 341.6h.1M90.6 337.5h.1M98.8 343.2h.1M96.0 336.3h.1M93.1 344.2h.1M79.8 343.1h.1M89.0 344.3h.1M85.0 338.0h.1M99.9 340.3h.1M88.8 342.8h.1M72.4 336.8h.1M79.6 344.7h.1M71.7 343.2h.1M91.9 344.5h.1M97.7 339.4h.1M85.4 341.9h.1M76.2 339.3h.1M83.5 337.5h.1M73.4 337.4h.1M76.3 345.6h.1M71.8 342.9h.1M77.2 337.2h.1M67.8 340.9h.1M97.9 341.2h.1M84.9 341.9h.1M76.2 342.7h.1M90.7 343.4h.1M90.8 339.6h.1M98.2 339.8h.1M95.7 340.0h.1M66.8 342.3h.1M77.5 338.5h.1M88.6 336.3h.1M98.8 338.9h.1M75.0 340.2h.1M82.7 343.3h.1M91.0 342.9h.1M76.3 342.0h.1M81.3 337.0h.1M67.1 341.7h.1M85.7 336.7h.1M69.3 339.5h.1M98.0 338.7h.1M85.9 343.8h.1M91.3 340.9h.1M78.9 341.1h.1M71.7 340.2h.1M75.7 340.9h.1M81.2 346.2h.1M84.0 342.1h.1M78.4 340.0h.1M70.6 340.3h.1M91.1 344.3h.1M86.3 338.4h.1M77.9 341.7h.1M86.9 341.6h.1M82.2 344.3h.1M91.8 342.3h.1M72.4 340.5h.1M88.7 343.0h.1M91.6 343.6h.1M99.8 338.1h.1M75.3 339.5h.1M88.4 339.6h.1M87.6 336.4h.1M85.4 336.8h.1M91.7 337.5h.1M79.0 341.4h.1M76.6 343.0h.1M87.7 344.4h.1M77.9 341.9h.1M78.4 342.0h.1M76.0 344.3h.1M74.8 336.1h.1M70.2 341.1h.1M73.4 340.0h.1M76.1 341.7h.1M95.3 335.9h.1M71.8 341.0h.1M96.8 339.6h.1M74.3 344.5h.1M97.9 343.9h.1M84.7 345.4h.1M77.9 343.4h.1M72.7 340.0h.1M83.8 343.9h.1M80.6 343.1h.1M86.6 337.4h.1M84.4 342.1h.1M92.6 338.5h.1M95.1 342.7h.1M89.3 345.6h.1M85.3 339.2h.1M68.9 338.5h.1M72.5 342.2h.1M88.2 341.8h.1M79.5 344.8h.1M78.9 338.9h.1M79.8 339.0h.1M86.4 341.5h.1M89.1 343.8h.1M84.8 342.0h.1M74.9 341.3h.1M78.4 339.4h.1M63.2 340.8h.1M97.4 343.9h.1M81.5 341.2h.1M69.3 341.0h.1M76.5 335.1h.1M93.6 341.9h.1M93.7 342.1h.1M90.4 342.7h.1M101.0 342.4h.1M86.2 336.0h.1M84.7 342.9h.1M78.7 344.7h.1M85.3 337.8h.1M79.3 340.1h.1M98.8 341.8h.1M80.1 338.6h.1M82.0 338.0h.1M90.6 340.9h.1M83.3 343.0h.1M98.3 337.7h.1M85.9 338.0h.1M78.3 337.8h.1M80.8 341.5h.1M92.8 337.7h.1M84.0 343.1h.1M98.9 339.4h.1M76.2 339.9h.1M80.9 339.6h.1M83.1 342.2h.1M79.1 343.1h.1M78.2 342.5h.1M99.8 342.8h.1M93.0 339.5h.1M78.5 337.7h.1M70.6 340.3h.1M93.8 337.6h.1M91.7 337.8h.1M89.0 338.1h.1M78.8 335.1h.1M75.2 340.4h.1M79.4 338.4h.1M77.1 337.4h.1M76.0 337.1h.1M97.2 341.9h.1M89.0 336.0h.1M75.7 337.6h.1M84.6 341.2h.1M84.4 338.7h.1M90.1 339.3h.1M74.9 335.3h.1M80.7 338.0h.1M70.3 343.2h.1M84.6 339.5h.1M91.6 342.7h.1M102.1 342.8h.1M76.0 336.5h.1M79.3 336.7h.1M92.2 335.7h.1M87.1 345.4h.1M90.5 342.0h.1M84.6 338.0h.1M64.4 340.9h.1M82.7 337.3h.1M87.9 344.6h.1M86.1 344.4h.1M96.0 335.9h.1M74.0 339.4h.1M85.8 336.9h.1M77.1 342.3h.1M76.7 339.7h.1M85.5 341.7h.1M94.9 342.9h.1M98.4 339.4h.1M69.7 340.6h.1M70.4 341.3h.1M74.2 346.0h.1M80.7 339.6h.1M80.5 345.1h.1M76.0 340.6h.1M95.0 343.1h.1M68.8 343.6h.1M89.1 336.2h.1M91.5 340.3h.1M100.5 341.7h.1M93.6 335.6h.1M72.1 339.3h.1M95.8 344.0h.1M87.8 337.0h.1M91.7 343.1h.1M92.7 344.9h.1M96.6 338.5h.1M83.2 345.8h.1M82.7 338.6h.1M82.4 344.0h.1M70.4 336.4h.1M79.1 344.9h.1M90.5 344.5h.1M78.3 343.8h.1M91.5 344.0h.1M73.6 338.8h.1M93.3 341.2h.1M81.0 337.5h.1M83.5 344.8h.1M95.9 342.3h.1M84.1 338.6h.1M78.4 339.8h.1M83.3 341.6h.1M85.6 346.1h.1M88.3 337.1h.1M70.5 341.4h.1M94.5 341.6h.1M90.2 342.5h.1M80.7 335.7h.1M94.5 338.8h.1M92.8 341.4h.1M78.2 344.2h.1M98.6 342.5h.1M86.7 341.4h.1M70.4 340.7h.1M71.3 338.2h.1M83.5 344.2h.1M77.9 338.8h.1M91.0 339.4h.1M65.6 338.8h.1M102.2 340.8h.1M86.4 336.5h.1M83.8 344.1h.1M78.2 342.0h.1M60.3 340.3h.1M87.0 339.2h.1M79.2 343.8h.1M79.6 342.8h.1M88.3 347.1h.1M85.7 335.8h.1M74.4 339.9h.1M77.6 340.0h.1M88.5 338.1h.1M78.8 342.0h.1M92.6 338.2h.1M86.6 342.5h.1M92.0 344.3h.1M77.4 335.9h.1M75.7 337.0h.1M88.5 344.7h.1M102.2 338.1h.1M90.9 345.9h.1M85.8 344.0h.1M74.4 342.2h.1M88.5 341.6h.1M77.2 337.2h.1M73.8 340.4h.1M70.5 339.3h.1M68.9 341.1h.1M96.1 342.3h.1M95.1 342.5h.1M94.5 344.5h.1M98.5 337.7h.1M76.4 338.4h.1M79.8 343.3h.1M75.8 337.2h.1M77.0 344.9h.1M95.4 343.8h.1M92.0 341.7h.1M98.0 338.3h.1M73.9 341.9h.1M89.4 342.8h.1M91.8 342.6h.1M76.5 344.5h.1M83.7 340.0h.1M93.4 336.4h.1M79.2 343.2h.1M78.3 338.0h.1M79.1 342.7h.1M84.2 336.8h.1M82.2 335.5h.1M88.0 346.2h.1M79.9 343.4h.1M95.8 336.5h.1M83.6 338.4h.1M94.0 338.8h.1M81.4 339.7h.1M87.2 341.4h.1M69.2 341.3h.1M87.3 343.6h.1M82.6 339.8h.1M91.2 340.2h.1M74.0 340.8h.1M92.2 338.8h.1M80.8 340.8h.1M95.6 339.2h.1M82.4 343.1h.1M90.9 338.8h.1M73.3 337.3h.1M91.6 341.9h.1M77.6 337.2h.1M94.4 339.6h.1M95.5 336.8h.1M73.9 342.3h.1M96.1 340.4h.1M89.5 345.5h.1M68.0 339.3h.1M102.1 341.2h.1M88.0 340.5h.1M89.0 339.2h.1M95.4 342.5h.1M84.0 340.8h.1M96.8 336.9h.1M72.9 337.1h.1M70.5 340.1h.1M89.9 341.1h.1" stroke="#5a5ac8" stroke-width="0.6" stroke-opacity="0.5" stroke-linecap="round" filter="url(#bl2)"/>
<path d="M94.2 337.7h.1M90.7 341.2h.1M79.9 343.1h.1M80.6 339.6h.1M73.8 338.9h.1M96.2 337.8h.1M86.0 339.4h.1M91.8 339.5h.1M82.0 342.7h.1M91.0 340.8h.1M92.0 338.7h.1M85.8 339.7h.1M86.7 336.5h.1M91.0 340.0h.1M79.5 340.3h.1M78.6 339.4h.1M75.9 342.1h.1M91.5 343.4h.1M81.4 341.3h.1M97.0 342.6h.1M98.2 341.1h.1M94.3 343.1h.1M91.5 342.4h.1M77.5 340.2h.1M87.8 343.4h.1M69.3 341.9h.1M84.1 344.8h.1M78.6 342.1h.1M87.9 343.2h.1M96.7 341.8h.1M92.1 341.0h.1M82.4 344.8h.1M90.4 343.0h.1M88.5 341.5h.1M98.5 340.7h.1M87.3 341.3h.1M76.9 340.4h.1M74.5 339.7h.1M75.6 343.9h.1M85.1 341.7h.1M86.1 341.8h.1M82.6 339.0h.1M89.6 340.1h.1M88.4 340.6h.1M96.6 341.4h.1M81.2 341.3h.1M76.7 341.1h.1M99.5 339.2h.1M86.3 340.4h.1M96.3 340.4h.1M80.5 343.7h.1M77.2 339.9h.1M85.4 342.5h.1M78.5 342.7h.1M90.7 342.2h.1M79.6 339.5h.1M72.9 343.0h.1M74.6 343.1h.1M100.4 341.2h.1M84.5 337.8h.1M76.2 339.4h.1M95.1 337.9h.1M96.1 342.7h.1M80.0 340.9h.1M83.3 342.4h.1M100.5 340.6h.1M89.5 341.7h.1M78.9 340.3h.1M88.7 337.5h.1M82.4 337.4h.1M78.8 337.5h.1M78.8 340.7h.1M72.8 345.0h.1M93.4 342.8h.1M96.9 342.1h.1M99.9 339.9h.1M74.4 339.5h.1M95.3 340.0h.1M89.5 343.1h.1M91.9 337.2h.1M81.9 341.0h.1M90.7 341.9h.1M96.6 339.6h.1M77.1 338.2h.1M76.9 342.4h.1M81.5 338.7h.1M81.2 338.0h.1M87.9 338.2h.1M75.7 339.0h.1M81.8 343.0h.1M73.6 339.9h.1M82.2 338.6h.1M87.2 336.8h.1M82.7 337.0h.1M88.6 340.2h.1M81.2 338.3h.1M91.6 339.5h.1M90.8 340.1h.1M74.5 340.1h.1M72.0 338.7h.1M81.2 344.2h.1M92.5 341.7h.1M82.8 343.7h.1M81.7 337.6h.1M74.1 339.3h.1M78.8 344.8h.1M72.8 340.8h.1M78.0 339.9h.1M75.6 338.0h.1M85.3 338.6h.1M90.1 339.9h.1M97.3 340.4h.1M84.0 339.5h.1M95.4 337.7h.1M75.8 339.1h.1M76.4 341.7h.1M86.2 344.3h.1M87.6 342.9h.1M77.7 340.6h.1M86.7 343.8h.1M91.2 341.1h.1M86.8 343.0h.1M89.0 337.2h.1M72.8 337.7h.1M93.6 338.3h.1M85.3 339.0h.1M90.1 338.5h.1M82.6 340.2h.1M100.2 340.1h.1M97.2 343.1h.1M81.8 337.4h.1M78.9 338.4h.1M84.8 341.3h.1M94.3 340.1h.1M77.8 341.4h.1M77.4 338.0h.1M89.0 340.4h.1M78.1 341.7h.1M85.2 344.2h.1M84.2 337.3h.1M71.8 340.3h.1M96.9 341.8h.1M78.7 340.5h.1M89.8 341.4h.1M93.4 338.6h.1M98.5 339.5h.1M89.1 339.1h.1M82.7 338.3h.1M80.3 340.3h.1M75.3 338.4h.1M84.7 342.9h.1M97.3 340.1h.1M94.7 340.8h.1M99.7 340.7h.1M82.5 339.3h.1M90.3 341.2h.1M82.9 343.5h.1M85.9 340.8h.1M90.8 336.4h.1M77.8 340.4h.1M86.0 339.9h.1M70.4 341.6h.1M90.3 337.4h.1M82.1 343.3h.1M89.9 338.1h.1M88.2 339.6h.1M83.3 343.6h.1M86.2 343.7h.1M85.5 343.5h.1M71.5 341.2h.1M75.2 339.8h.1M93.9 343.0h.1M86.3 340.2h.1M92.5 337.3h.1M81.6 340.9h.1M90.3 340.0h.1M83.5 341.6h.1M84.5 342.3h.1M90.2 338.8h.1M73.8 337.6h.1M89.2 341.9h.1M95.1 341.9h.1M69.6 341.6h.1M84.8 338.8h.1M98.8 339.7h.1M99.1 340.9h.1M80.3 336.5h.1M82.1 338.3h.1M82.9 338.4h.1M97.3 339.7h.1M81.9 342.0h.1M80.5 343.4h.1M76.6 340.8h.1M84.1 343.3h.1M86.1 340.1h.1M95.2 343.4h.1M91.1 336.6h.1M72.8 341.7h.1M82.3 342.9h.1M92.1 339.6h.1M77.8 339.0h.1M94.9 343.4h.1M84.0 342.0h.1M85.1 339.6h.1M91.1 341.6h.1M75.4 337.3h.1M86.9 341.4h.1M76.4 339.8h.1M74.2 340.8h.1M73.6 341.6h.1M94.3 341.5h.1M96.1 339.1h.1M82.6 339.4h.1M70.9 340.9h.1M84.7 340.4h.1M91.6 342.5h.1M95.7 340.7h.1M85.3 340.7h.1M95.1 339.8h.1M71.2 343.3h.1M86.6 339.5h.1M74.0 341.9h.1M72.1 339.7h.1M93.9 338.0h.1M84.9 342.9h.1M71.3 341.6h.1M94.1 342.8h.1M83.1 341.5h.1M74.5 341.0h.1M79.9 337.6h.1M94.6 342.1h.1M81.4 339.8h.1M89.4 339.8h.1M84.5 339.3h.1M87.2 340.8h.1M80.6 340.6h.1M93.2 338.2h.1M83.9 341.8h.1M84.5 344.1h.1M73.0 340.3h.1M86.5 343.2h.1M86.2 339.7h.1M100.8 339.5h.1M94.2 339.6h.1M79.2 341.5h.1M73.8 342.2h.1M93.3 341.6h.1M88.4 339.2h.1M96.9 339.9h.1M77.0 342.6h.1M88.5 337.2h.1M77.3 340.0h.1M90.5 338.6h.1M90.6 342.5h.1M78.4 337.4h.1M85.3 337.7h.1M80.0 338.5h.1M91.1 342.1h.1M85.0 342.1h.1M85.0 337.9h.1M85.7 343.8h.1M76.4 343.2h.1M74.3 342.9h.1M79.5 337.5h.1M92.4 338.1h.1M88.9 342.4h.1M81.4 338.0h.1M97.1 341.4h.1M90.3 343.6h.1M75.5 343.3h.1M76.6 343.6h.1M95.7 342.7h.1M88.0 341.5h.1M87.7 342.6h.1M89.7 338.4h.1M78.9 344.6h.1M84.9 337.9h.1M84.6 339.3h.1M87.6 342.7h.1M102.1 340.0h.1M88.3 341.6h.1M77.9 343.6h.1M89.0 342.4h.1M83.8 340.6h.1M90.4 342.0h.1M85.8 337.1h.1M84.2 343.6h.1M97.4 342.6h.1M83.5 340.0h.1M72.9 342.0h.1M84.4 340.5h.1M75.6 341.2h.1M89.8 338.6h.1M76.9 341.2h.1M91.4 337.7h.1M90.8 340.9h.1M94.9 341.8h.1M73.9 339.1h.1M89.9 343.5h.1M91.9 339.5h.1M87.5 341.9h.1M90.5 342.2h.1M81.2 337.4h.1M90.6 341.1h.1M91.6 342.2h.1M81.7 338.9h.1M99.1 339.9h.1M77.4 338.7h.1M75.2 339.7h.1M94.7 341.9h.1M78.6 339.6h.1M78.1 342.1h.1M88.4 341.0h.1M85.7 339.8h.1M95.7 343.2h.1M75.6 339.9h.1M86.3 343.0h.1M82.2 341.3h.1M82.7 341.0h.1M79.7 340.0h.1M83.9 340.6h.1M72.8 341.6h.1M84.5 338.7h.1M97.7 338.3h.1M71.1 341.3h.1M93.5 342.0h.1M92.4 341.0h.1M79.9 343.3h.1M96.5 341.6h.1M85.4 338.9h.1M77.6 337.6h.1M79.1 342.8h.1M83.0 338.6h.1M76.0 342.2h.1M67.4 342.4h.1M90.7 340.2h.1M87.6 339.8h.1M73.1 342.9h.1M75.0 340.7h.1M74.2 338.9h.1M71.8 339.3h.1M84.1 340.3h.1M85.8 341.7h.1M86.1 338.3h.1M77.5 338.9h.1M73.0 341.1h.1M77.6 343.4h.1M86.4 339.1h.1M88.4 341.3h.1M77.2 338.4h.1M83.3 338.3h.1M101.0 342.9h.1M93.0 340.4h.1M92.0 339.5h.1M78.1 339.9h.1M85.9 344.0h.1M85.1 343.0h.1M84.2 337.8h.1M84.5 340.9h.1M70.5 340.9h.1M84.3 340.1h.1M97.2 342.0h.1M81.0 340.4h.1M80.1 344.2h.1M77.5 342.1h.1M87.3 340.8h.1M93.0 340.5h.1M72.0 340.6h.1M87.0 337.6h.1M71.0 338.1h.1M76.3 337.7h.1M74.2 342.6h.1M84.2 342.1h.1M93.7 339.2h.1M76.6 341.6h.1M84.7 342.6h.1M70.1 341.1h.1M76.5 342.7h.1M74.1 337.6h.1M91.8 338.4h.1M77.8 339.9h.1M79.8 336.4h.1M84.7 343.6h.1M94.6 339.9h.1M84.4 339.4h.1M90.8 340.3h.1M94.6 340.6h.1M92.8 341.5h.1M81.7 344.0h.1M99.0 339.5h.1M87.1 338.1h.1M89.3 338.2h.1M93.5 343.1h.1M89.4 343.4h.1M84.0 340.7h.1M84.5 337.1h.1M96.2 342.5h.1M86.0 343.0h.1M76.4 340.3h.1M72.2 339.3h.1M83.7 343.3h.1M78.2 342.6h.1M93.9 340.6h.1M95.2 337.4h.1M89.9 340.3h.1M78.2 340.0h.1M78.5 341.3h.1M90.7 340.3h.1M91.2 344.5h.1M71.7 341.4h.1M70.0 340.3h.1M79.8 344.8h.1M85.5 342.4h.1M81.3 340.5h.1M81.8 343.8h.1M78.8 343.2h.1M71.5 339.7h.1M82.4 338.7h.1M80.9 343.8h.1M87.0 344.6h.1M75.9 344.5h.1M83.7 342.4h.1M79.1 338.8h.1M84.5 337.8h.1M72.0 339.6h.1M82.5 338.0h.1M76.3 340.8h.1M77.6 343.3h.1M83.5 343.8h.1M76.8 342.2h.1M96.3 339.6h.1M69.4 339.4h.1M89.5 342.5h.1M84.0 337.4h.1M100.8 341.2h.1M78.7 339.9h.1M77.6 342.8h.1M83.5 339.9h.1M93.9 337.1h.1M86.2 339.4h.1M75.3 340.4h.1M86.5 342.4h.1M79.2 343.7h.1M75.5 340.9h.1M83.5 343.4h.1M79.7 342.8h.1M88.6 338.7h.1M74.7 337.9h.1M78.6 338.7h.1M92.9 341.0h.1M79.7 342.2h.1M94.2 342.2h.1M92.5 343.5h.1M89.7 341.7h.1M89.3 338.5h.1M83.9 341.4h.1M80.6 338.7h.1M74.4 340.1h.1M79.5 340.7h.1M92.6 339.2h.1M82.8 336.3h.1M96.3 341.6h.1M76.4 341.3h.1M86.8 341.8h.1M77.4 337.8h.1M72.8 338.8h.1M80.8 343.8h.1M85.7 340.1h.1M87.6 341.7h.1M80.9 341.6h.1M79.8 339.7h.1M84.2 344.4h.1M86.5 341.4h.1M72.0 340.0h.1M92.4 343.8h.1M84.9 343.4h.1M93.3 340.8h.1M96.9 340.0h.1M89.8 340.6h.1M86.1 338.3h.1M94.6 342.1h.1M84.2 340.1h.1M94.8 341.0h.1M81.0 337.3h.1M80.6 337.7h.1M83.0 338.4h.1M75.9 339.4h.1M79.3 343.0h.1M82.6 338.3h.1M79.3 341.4h.1M75.6 338.7h.1M83.1 341.6h.1M89.2 342.7h.1M78.7 339.5h.1M84.0 337.9h.1M86.9 340.1h.1M90.5 342.4h.1M81.5 341.9h.1M80.4 341.8h.1M94.1 338.4h.1M72.3 341.6h.1M82.5 337.0h.1M86.5 340.7h.1M85.6 343.1h.1M91.8 343.5h.1M86.9 338.5h.1M81.6 341.1h.1M83.0 342.9h.1M101.5 339.6h.1M78.7 343.4h.1M88.2 341.4h.1M83.5 340.8h.1M77.5 341.4h.1M80.9 342.7h.1M84.6 342.8h.1M70.9 338.2h.1M75.1 342.0h.1M90.8 338.6h.1M69.5 341.0h.1M79.7 341.2h.1M82.7 341.5h.1M70.8 343.6h.1M85.8 339.2h.1M80.2 344.5h.1M82.3 341.6h.1M96.1 338.1h.1M72.8 338.8h.1M92.4 340.4h.1M81.6 337.5h.1M80.7 339.0h.1M72.4 339.7h.1M81.1 339.0h.1M77.2 342.6h.1M71.0 342.0h.1M86.3 343.4h.1M84.2 337.3h.1M81.1 342.4h.1M81.0 340.5h.1M96.0 339.2h.1M78.4 342.5h.1M87.3 340.6h.1M87.8 342.1h.1M95.3 338.2h.1M93.3 344.1h.1M79.1 338.2h.1M79.1 343.2h.1M89.3 339.1h.1M91.6 342.4h.1M92.6 337.9h.1M86.5 343.6h.1M89.6 339.8h.1M92.7 340.8h.1M77.4 339.0h.1M74.8 340.0h.1M99.1 338.9h.1M75.6 342.3h.1M79.1 344.0h.1M87.3 343.1h.1M81.4 342.3h.1M75.6 339.2h.1M89.8 340.7h.1M97.1 338.6h.1M83.6 340.4h.1M93.0 341.6h.1M89.4 338.4h.1M80.7 338.9h.1M84.0 339.4h.1M92.1 339.7h.1M94.6 340.6h.1M77.2 338.0h.1M82.9 338.4h.1M74.8 341.8h.1M72.5 339.6h.1M86.1 340.3h.1M79.5 341.4h.1M93.8 342.1h.1M76.3 342.3h.1M89.6 338.7h.1M88.6 343.1h.1M82.4 341.0h.1M76.6 338.7h.1M74.3 342.4h.1M78.4 339.6h.1M92.0 339.0h.1M79.0 338.0h.1M83.0 339.5h.1M76.1 339.0h.1M102.3 341.8h.1M74.7 341.4h.1M98.4 340.1h.1M83.4 343.8h.1M91.6 338.1h.1M97.0 338.7h.1M100.5 339.4h.1M84.5 337.1h.1M68.6 341.7h.1M84.8 341.2h.1M92.4 340.8h.1M74.1 344.3h.1M76.6 340.2h.1" stroke="#40b0c0" stroke-width="0.7" stroke-opacity="0.65" stroke-linecap="round" filter="url(#bl2)"/>
<path d="M81.9 339.5h.1M83.5 340.6h.1M87.6 341.2h.1M89.8 343.8h.1M93.8 339.5h.1M80.9 341.7h.1M91.3 337.7h.1M92.3 340.2h.1M83.1 338.0h.1M86.1 338.0h.1M79.2 339.5h.1M73.8 339.6h.1M92.2 341.9h.1M87.0 338.1h.1M86.5 343.7h.1M70.9 339.6h.1M84.8 339.9h.1M76.1 341.5h.1M92.5 339.8h.1M76.6 339.5h.1M87.7 338.8h.1M94.9 339.6h.1M92.3 340.6h.1M85.3 338.9h.1M83.5 341.7h.1M74.4 338.6h.1M99.0 342.0h.1M72.6 340.7h.1M79.5 342.5h.1M80.8 341.3h.1M88.4 341.0h.1M74.0 341.7h.1M84.6 342.3h.1M75.2 338.7h.1M87.2 341.8h.1M90.9 341.2h.1M95.6 338.8h.1M95.9 338.4h.1M92.7 338.4h.1M97.5 339.7h.1M88.4 337.9h.1M83.7 342.9h.1M91.2 340.5h.1M81.8 343.4h.1M72.9 342.1h.1M70.6 341.5h.1M80.7 340.5h.1M98.4 340.7h.1M81.4 341.7h.1M86.5 339.9h.1M91.9 338.8h.1M89.6 339.6h.1M92.8 338.1h.1M87.1 338.4h.1M86.3 338.8h.1M75.5 342.5h.1M86.5 342.2h.1M83.3 339.6h.1M86.9 342.0h.1M86.9 340.2h.1M71.9 340.3h.1M79.2 339.9h.1M84.7 342.3h.1M89.6 342.8h.1M95.3 342.2h.1M93.5 341.0h.1M73.4 339.8h.1M75.4 339.8h.1M89.7 340.1h.1M83.2 338.7h.1M79.8 339.1h.1M89.0 343.7h.1M98.2 340.0h.1M85.2 342.1h.1M87.1 339.5h.1M91.7 341.5h.1M84.4 337.7h.1M92.2 342.6h.1M91.4 339.2h.1M83.4 341.4h.1M83.2 338.8h.1M75.7 340.8h.1M84.3 342.5h.1M75.6 339.3h.1M93.5 338.0h.1M84.2 337.6h.1M80.6 341.9h.1M89.3 342.5h.1M84.3 338.0h.1M75.3 339.8h.1M76.5 340.1h.1M76.1 340.1h.1M83.2 338.6h.1M94.4 342.4h.1M87.5 337.8h.1M90.0 343.7h.1M78.1 343.0h.1M96.2 342.1h.1M79.2 338.1h.1M86.3 342.4h.1M83.9 342.2h.1M95.3 340.9h.1M79.9 342.3h.1M83.6 339.5h.1M74.4 341.1h.1M88.7 342.5h.1M82.5 343.4h.1M83.0 338.4h.1M71.0 341.4h.1M94.3 340.2h.1M91.5 338.2h.1M76.4 339.3h.1M88.1 339.2h.1M74.3 340.4h.1M80.8 342.3h.1M75.7 341.5h.1M79.4 339.8h.1M78.5 341.7h.1M92.6 337.9h.1M84.5 337.2h.1M75.9 342.5h.1M80.0 342.0h.1M90.6 340.8h.1M95.3 339.7h.1M76.6 342.1h.1M83.2 341.1h.1M78.9 340.5h.1M82.4 337.8h.1M74.3 342.0h.1M91.9 340.3h.1M82.7 342.6h.1M84.7 338.7h.1M77.9 342.5h.1M92.5 339.6h.1M88.5 338.5h.1M76.5 338.9h.1M91.4 341.6h.1M86.9 342.1h.1M73.7 341.5h.1M84.6 340.6h.1M86.1 342.7h.1M88.6 342.9h.1M81.5 337.9h.1M72.4 341.6h.1M81.3 343.2h.1M86.4 339.9h.1M93.1 338.3h.1M82.6 338.8h.1M82.8 340.9h.1M93.8 341.3h.1M86.9 338.4h.1M92.1 340.5h.1M73.6 340.8h.1M81.4 340.3h.1M93.3 338.7h.1M76.3 340.2h.1M85.9 341.9h.1M86.1 339.7h.1M97.9 342.0h.1M85.5 342.5h.1M91.6 341.6h.1M79.1 341.8h.1M74.9 339.4h.1M88.5 339.8h.1M90.0 339.0h.1M91.7 338.6h.1M89.5 341.4h.1M74.8 340.1h.1M83.2 339.0h.1M85.9 342.8h.1M88.9 342.6h.1M88.4 338.3h.1M92.8 342.4h.1M84.8 343.3h.1M90.8 341.7h.1M82.3 343.2h.1M76.9 341.2h.1M95.3 342.4h.1M83.9 342.9h.1M73.2 340.0h.1M72.8 340.8h.1M74.2 340.4h.1M75.0 341.3h.1M78.9 339.1h.1M71.3 340.2h.1M85.6 340.8h.1M71.8 341.6h.1M96.6 342.0h.1M84.5 341.2h.1M83.2 337.5h.1M85.6 342.1h.1M86.2 342.2h.1M92.9 343.8h.1M83.4 340.9h.1M89.1 340.2h.1M84.9 343.8h.1M83.3 337.8h.1M70.4 340.2h.1M100.9 340.9h.1M81.2 343.5h.1M80.1 338.1h.1M86.7 340.1h.1M89.5 338.8h.1M85.7 339.9h.1M88.9 342.9h.1M88.5 341.6h.1M85.6 339.8h.1M76.3 339.9h.1M77.4 340.3h.1M77.3 338.1h.1M98.6 341.8h.1M74.5 340.9h.1M89.1 343.1h.1M94.2 341.1h.1M86.2 338.9h.1M97.1 340.5h.1M93.2 339.6h.1M88.1 339.3h.1M87.2 340.3h.1M78.0 339.1h.1M75.1 342.5h.1M88.5 342.0h.1M94.1 340.1h.1M75.3 340.0h.1M94.9 341.1h.1M91.8 340.1h.1M77.4 339.2h.1M87.5 339.7h.1M85.2 337.2h.1M76.0 341.8h.1M80.9 341.1h.1M80.8 344.3h.1M92.1 341.8h.1M81.5 343.4h.1M92.9 341.2h.1M85.5 342.9h.1M85.1 337.4h.1M82.5 341.8h.1M84.1 339.3h.1M93.6 341.0h.1M93.7 339.9h.1M78.6 337.9h.1M90.1 342.1h.1M77.8 341.7h.1M79.8 343.1h.1M79.2 337.9h.1M92.9 339.9h.1M80.1 342.4h.1M96.9 340.6h.1M80.0 342.6h.1M77.2 341.1h.1M81.1 343.1h.1M77.5 341.6h.1M83.9 342.0h.1M82.9 342.7h.1M87.2 343.7h.1M82.2 341.4h.1M96.4 340.5h.1M95.1 341.9h.1M78.2 339.6h.1M72.6 340.2h.1M90.4 338.6h.1M85.5 340.5h.1M84.2 342.7h.1M91.8 343.1h.1M92.0 341.8h.1M79.7 339.9h.1M90.6 340.7h.1M88.7 339.9h.1M79.3 338.1h.1M89.0 343.6h.1M96.7 339.7h.1M91.3 338.3h.1M91.0 341.4h.1M84.6 338.8h.1M77.2 338.7h.1M97.5 340.5h.1M82.8 343.0h.1M97.7 340.6h.1M93.3 341.1h.1M82.5 340.2h.1M78.6 340.2h.1M81.9 341.7h.1M91.5 340.0h.1M88.3 339.6h.1M73.7 339.4h.1M90.1 341.7h.1M75.6 338.8h.1M77.6 339.3h.1M73.6 342.1h.1M77.3 343.3h.1M73.7 339.9h.1M76.3 339.4h.1M78.6 340.8h.1M89.7 339.8h.1M90.8 342.3h.1M84.0 339.5h.1M78.0 339.4h.1M76.4 340.7h.1M78.3 338.7h.1M85.8 339.5h.1M92.0 342.8h.1M92.5 342.4h.1M81.7 342.5h.1M89.6 342.7h.1M98.7 340.3h.1M84.1 339.0h.1M88.9 343.1h.1M78.9 342.6h.1M78.0 338.2h.1M90.8 342.2h.1M89.2 339.5h.1M79.4 339.5h.1M94.8 339.7h.1M93.9 341.9h.1M83.5 342.0h.1M84.5 338.7h.1M85.9 338.1h.1M75.8 339.7h.1M90.9 339.1h.1M86.9 340.7h.1M80.0 338.5h.1M95.6 341.5h.1M79.4 342.2h.1M88.4 341.5h.1M94.8 339.3h.1M76.0 340.2h.1M94.9 338.2h.1M84.1 341.3h.1M79.7 337.4h.1M80.6 343.0h.1M87.4 343.0h.1M68.4 339.5h.1M88.7 340.9h.1M84.4 338.7h.1M82.3 340.7h.1M75.0 339.0h.1M80.9 337.9h.1M76.6 341.3h.1M86.3 337.7h.1M82.7 339.0h.1M80.4 339.5h.1M93.2 340.4h.1M74.4 339.5h.1M82.6 339.0h.1M77.8 340.7h.1M92.3 339.0h.1M78.6 339.2h.1M88.7 339.6h.1M79.9 338.3h.1M86.6 343.2h.1M89.7 342.5h.1M89.5 339.3h.1M77.2 338.4h.1M82.3 338.5h.1M87.5 338.7h.1M79.3 338.6h.1M83.7 339.5h.1M85.7 340.0h.1M93.6 343.2h.1M82.7 339.8h.1M75.3 338.5h.1M90.2 339.3h.1M90.3 339.5h.1M88.4 343.7h.1M91.5 338.7h.1M88.1 343.7h.1M92.5 338.6h.1M75.6 339.5h.1M98.2 340.4h.1M86.0 342.7h.1M77.9 339.0h.1M91.4 339.9h.1M92.3 339.7h.1M87.4 339.0h.1M98.1 340.1h.1M88.3 337.9h.1M80.7 341.1h.1M78.5 342.8h.1M86.0 338.3h.1M73.2 338.9h.1M80.5 337.4h.1M82.5 341.0h.1M78.0 339.7h.1M95.0 340.1h.1M88.4 338.8h.1M88.9 342.3h.1M84.5 341.9h.1M97.0 339.4h.1M83.5 339.9h.1M77.9 338.5h.1M95.0 338.7h.1M73.4 339.9h.1M96.3 340.0h.1M92.3 338.1h.1M87.6 337.7h.1M94.4 342.9h.1M77.8 339.7h.1M86.8 341.5h.1M78.9 338.6h.1M83.0 338.0h.1M83.3 337.8h.1M84.4 342.9h.1M86.7 342.0h.1M77.8 339.5h.1M99.7 339.1h.1M97.9 340.2h.1M95.3 340.6h.1M77.3 341.6h.1M83.3 341.8h.1M87.8 338.6h.1M70.9 339.8h.1M83.7 343.1h.1M92.3 338.7h.1M96.4 341.3h.1M86.5 343.1h.1M78.6 339.2h.1M89.4 342.6h.1M93.2 339.5h.1M94.1 340.4h.1M79.7 342.0h.1M84.9 337.8h.1M88.2 339.2h.1M73.7 341.2h.1M84.9 341.6h.1M92.9 338.6h.1M72.6 339.4h.1M90.9 339.9h.1M76.5 340.0h.1M77.9 339.4h.1M83.1 339.7h.1M81.6 339.6h.1M84.6 338.4h.1M94.0 340.2h.1M82.0 339.6h.1M86.6 342.8h.1M85.7 341.1h.1M86.8 339.8h.1M87.6 340.5h.1M95.9 338.7h.1M94.5 341.3h.1M93.9 341.4h.1M91.8 342.5h.1M89.7 341.7h.1M76.0 338.7h.1M77.6 341.8h.1M84.5 339.1h.1M86.0 340.9h.1M81.3 340.4h.1M79.0 339.3h.1M82.2 342.7h.1M80.1 340.3h.1M92.1 340.6h.1M94.4 340.1h.1M89.4 338.9h.1M85.3 341.1h.1M83.1 341.8h.1M76.4 339.4h.1M91.8 341.6h.1M85.4 338.9h.1M86.0 342.8h.1M90.3 338.9h.1M80.0 342.3h.1M87.8 342.4h.1M92.8 342.1h.1M79.3 339.0h.1M98.9 340.1h.1M87.2 339.9h.1M86.2 341.1h.1M84.1 337.8h.1M83.7 339.3h.1M76.5 338.5h.1M80.1 339.1h.1M83.5 342.6h.1M95.6 340.6h.1M82.2 341.0h.1M77.8 342.5h.1M94.6 340.2h.1M85.5 342.4h.1M94.8 339.5h.1M93.3 342.1h.1M94.9 340.0h.1M84.8 342.5h.1M97.3 340.9h.1M74.9 340.2h.1M95.1 341.0h.1M93.2 340.7h.1M93.5 340.8h.1M95.8 340.6h.1M83.4 339.0h.1M87.8 343.6h.1M76.4 338.4h.1M79.8 337.7h.1M75.1 341.8h.1M78.7 342.3h.1M95.9 339.9h.1M74.2 339.0h.1M91.5 342.5h.1M79.1 340.9h.1M84.1 338.5h.1M90.6 338.8h.1M87.6 342.9h.1M81.5 339.0h.1M87.4 337.9h.1M87.7 339.4h.1M90.8 341.6h.1M90.7 339.8h.1M79.0 343.3h.1M88.1 338.1h.1M89.8 342.2h.1M83.9 342.8h.1M94.3 338.1h.1M93.3 341.3h.1M80.6 340.3h.1M78.6 338.7h.1M86.3 343.5h.1M85.6 340.0h.1M94.2 339.5h.1M90.6 343.1h.1M92.9 341.8h.1M72.6 339.3h.1M95.0 340.4h.1M83.4 341.8h.1M89.7 337.3h.1M91.4 341.9h.1M82.2 339.6h.1M86.4 338.1h.1M73.6 340.9h.1M79.4 341.3h.1M78.0 338.0h.1M97.6 340.8h.1M88.6 341.5h.1M75.2 341.8h.1M72.8 338.9h.1M84.6 339.9h.1M93.1 341.0h.1M89.0 341.6h.1M82.3 340.6h.1M75.9 341.3h.1M86.7 343.1h.1M86.3 338.3h.1M81.9 340.1h.1M74.3 341.2h.1M82.5 340.2h.1M90.1 340.5h.1M81.5 339.0h.1M82.0 342.3h.1M74.3 338.8h.1M92.0 342.2h.1M82.6 342.9h.1M91.2 338.6h.1M84.6 341.2h.1M93.8 342.4h.1M87.6 339.6h.1M97.9 340.8h.1M89.8 341.6h.1M89.2 338.0h.1M93.4 340.9h.1M93.2 341.8h.1M82.4 339.7h.1M89.9 339.9h.1M84.4 341.2h.1M98.2 341.0h.1M90.1 337.6h.1M89.5 341.3h.1M87.2 340.2h.1M78.1 341.6h.1M88.4 342.0h.1M89.0 341.6h.1M94.4 340.1h.1M77.1 340.1h.1M83.2 342.3h.1M78.7 338.5h.1M82.5 342.0h.1M74.7 340.8h.1M88.1 338.6h.1M88.3 343.8h.1M86.4 343.5h.1M80.5 338.8h.1M91.2 341.7h.1M83.8 338.5h.1M80.1 342.4h.1M90.2 340.5h.1M90.3 338.3h.1M83.4 339.6h.1M95.1 341.9h.1M75.7 340.7h.1M91.6 340.2h.1M80.7 339.0h.1M82.9 339.6h.1M92.7 340.8h.1M82.7 343.2h.1M72.7 340.0h.1M81.2 341.3h.1M77.3 341.2h.1M88.7 343.5h.1M88.6 340.0h.1M82.7 341.5h.1M82.0 343.7h.1M85.8 338.0h.1M95.5 342.0h.1M81.3 342.4h.1M94.0 342.4h.1M85.1 338.9h.1M88.8 338.5h.1M77.0 338.4h.1M87.8 339.9h.1M79.6 341.6h.1M70.7 341.1h.1M82.4 339.7h.1M94.1 339.9h.1M91.1 338.7h.1M77.1 341.6h.1M88.4 339.8h.1M89.5 339.2h.1M88.1 337.6h.1M80.4 342.8h.1M85.8 339.8h.1M84.6 341.7h.1M83.4 338.5h.1M80.9 340.1h.1M83.3 342.3h.1M86.8 342.8h.1M83.8 340.4h.1M81.0 342.1h.1M73.4 341.9h.1M94.6 342.7h.1M88.2 339.8h.1M89.6 340.2h.1M77.6 342.9h.1M82.9 339.8h.1M88.0 341.2h.1M97.1 340.8h.1M80.5 339.7h.1M95.0 342.2h.1M84.0 339.4h.1M84.8 341.9h.1M80.9 342.3h.1M96.8 341.7h.1M81.4 338.0h.1M77.1 342.0h.1M90.5 338.6h.1M78.3 340.9h.1M97.2 338.4h.1M91.2 340.6h.1M75.8 341.1h.1M94.6 339.2h.1M85.8 341.7h.1M80.8 337.8h.1M76.7 338.6h.1M90.2 337.4h.1M85.8 338.1h.1M85.8 342.5h.1M90.1 340.8h.1M99.6 340.1h.1M91.6 338.2h.1M81.3 341.1h.1M83.2 341.4h.1M89.4 339.7h.1M91.1 340.1h.1M79.8 339.2h.1M98.8 337.6h.1M82.0 342.6h.1M90.0 339.2h.1M85.1 339.7h.1M86.2 338.1h.1M75.4 338.8h.1M98.8 341.1h.1M75.6 338.4h.1M74.1 340.3h.1M90.3 339.0h.1M92.3 338.8h.1M91.0 341.6h.1M74.2 339.6h.1M88.0 339.3h.1M86.2 339.0h.1M90.9 338.6h.1M91.8 343.3h.1M92.8 340.2h.1M83.8 339.3h.1M96.9 341.3h.1M82.5 343.3h.1M84.5 341.5h.1M83.3 340.9h.1M79.8 340.2h.1M83.7 342.3h.1M90.4 341.8h.1M80.5 337.9h.1M88.4 338.8h.1M89.4 342.7h.1M84.2 341.7h.1M88.4 341.0h.1M78.3 342.4h.1M82.4 339.0h.1M87.1 342.8h.1M78.5 341.6h.1M86.1 340.3h.1M72.1 340.1h.1M77.4 339.2h.1M95.0 342.6h.1M75.0 338.5h.1M73.1 340.1h.1M90.8 338.1h.1M90.0 341.5h.1M90.3 342.2h.1M90.1 340.0h.1M86.7 340.2h.1M77.3 338.2h.1M93.9 339.8h.1M87.8 341.8h.1M89.3 343.2h.1M97.4 339.6h.1M75.2 338.8h.1M79.4 342.4h.1M91.4 342.2h.1M85.6 338.1h.1M86.9 342.0h.1M92.9 341.9h.1M71.7 341.0h.1M95.7 342.6h.1M78.5 339.2h.1M93.8 341.1h.1M75.5 341.0h.1M90.3 339.0h.1M91.5 340.6h.1M94.0 341.3h.1M96.5 340.8h.1M90.5 340.5h.1M76.5 339.3h.1M79.3 340.3h.1M90.5 339.8h.1M91.9 337.8h.1M82.8 339.9h.1M76.3 338.4h.1M78.1 339.1h.1M89.4 340.8h.1M80.4 338.4h.1M73.5 340.0h.1M93.0 340.5h.1M89.3 343.0h.1M78.1 340.4h.1M87.0 340.1h.1M84.3 337.6h.1M87.2 337.5h.1M93.0 342.3h.1M87.7 338.4h.1M78.0 340.6h.1M85.6 341.6h.1M71.2 342.0h.1M89.3 338.2h.1M82.2 339.9h.1M84.9 341.3h.1M77.9 341.2h.1M93.1 339.2h.1M88.3 340.0h.1M75.5 341.8h.1M82.8 340.8h.1M84.5 338.4h.1M96.1 339.0h.1M84.9 341.2h.1M93.0 341.2h.1M88.9 339.5h.1M85.2 340.7h.1M78.9 342.3h.1M84.8 340.2h.1M90.7 341.4h.1M83.1 338.7h.1M75.7 340.8h.1M74.6 340.6h.1M91.2 343.3h.1M78.6 339.0h.1M73.6 341.5h.1M86.5 344.0h.1M72.7 342.1h.1M91.3 339.7h.1M87.5 341.9h.1M85.9 341.9h.1M94.4 339.7h.1M80.8 338.1h.1M98.8 341.0h.1M75.4 339.4h.1M92.9 342.1h.1M90.5 339.8h.1M85.1 339.9h.1M94.8 340.3h.1M97.0 341.7h.1M91.9 341.5h.1M83.1 343.3h.1M87.7 340.6h.1M80.0 340.2h.1M76.9 340.4h.1M94.2 341.8h.1M77.3 339.5h.1M92.0 338.6h.1M86.2 342.4h.1M77.1 341.9h.1M98.0 338.9h.1M92.3 341.5h.1M82.7 342.0h.1M83.7 339.8h.1M69.2 340.0h.1M80.3 343.3h.1M92.9 339.7h.1M86.1 342.8h.1M83.9 341.5h.1M100.4 342.8h.1M85.7 339.3h.1M84.8 343.1h.1M79.7 342.4h.1M90.6 342.6h.1M79.2 339.3h.1M95.5 341.1h.1M86.4 340.9h.1M96.2 340.9h.1M79.5 339.9h.1M83.0 340.3h.1M90.0 338.4h.1M75.0 341.2h.1M75.8 338.9h.1M90.2 342.8h.1M89.9 340.4h.1M81.1 339.2h.1M84.4 339.4h.1M96.7 341.1h.1M87.6 340.4h.1M89.2 339.9h.1M82.3 342.3h.1M80.4 341.6h.1M90.3 340.2h.1M93.6 343.1h.1M83.7 339.8h.1M79.9 338.9h.1M94.0 339.6h.1M86.7 343.5h.1M96.7 342.2h.1M99.3 342.9h.1M94.7 340.9h.1M79.1 340.0h.1M97.2 340.3h.1M88.1 342.2h.1M79.0 337.9h.1M94.9 340.9h.1M94.4 340.7h.1M97.4 342.1h.1M77.8 342.0h.1M71.5 342.0h.1M92.6 339.2h.1M97.2 340.1h.1M91.5 342.6h.1M75.0 339.8h.1M95.8 341.0h.1M75.3 342.0h.1M94.4 341.7h.1M82.6 339.2h.1M83.5 340.9h.1M97.8 340.3h.1M90.7 343.4h.1M86.9 340.3h.1M89.6 339.9h.1M80.9 342.2h.1M72.2 342.0h.1M82.6 338.8h.1M94.1 342.5h.1M94.2 340.5h.1M77.7 343.5h.1M81.1 341.4h.1M79.3 341.1h.1M96.5 339.9h.1M94.0 339.2h.1M90.7 339.1h.1M77.0 338.6h.1M73.1 341.1h.1M70.7 343.1h.1M92.7 341.8h.1M76.0 338.8h.1M76.6 337.6h.1M94.5 340.9h.1M94.7 341.1h.1M81.1 343.5h.1M77.8 338.2h.1M72.5 338.4h.1M75.2 339.8h.1M91.1 342.2h.1M84.5 338.7h.1M82.0 337.4h.1M80.7 342.3h.1M94.3 339.9h.1M89.5 343.3h.1M72.4 340.1h.1M95.0 341.4h.1M94.7 340.0h.1M90.1 340.8h.1M93.1 341.6h.1M83.2 339.2h.1M74.4 341.5h.1M86.3 338.7h.1M96.9 341.3h.1M86.0 339.6h.1M78.3 338.6h.1M89.5 338.5h.1M84.5 337.1h.1M89.6 339.7h.1M83.3 342.1h.1M78.5 338.4h.1M84.4 339.4h.1M85.3 340.0h.1M71.2 341.2h.1M77.5 340.0h.1M74.3 339.8h.1M88.9 340.2h.1M94.9 342.1h.1M74.1 340.0h.1M98.0 338.7h.1M91.8 338.5h.1M83.6 343.4h.1M73.7 339.4h.1M94.6 341.6h.1M81.0 342.7h.1M89.8 337.5h.1M81.2 341.2h.1M76.0 338.3h.1M73.9 339.2h.1M94.5 341.8h.1M92.1 342.1h.1M84.8 340.8h.1M79.4 338.1h.1M73.0 341.5h.1M85.4 341.0h.1M81.6 343.3h.1M85.8 339.0h.1M77.6 340.7h.1M83.1 341.7h.1M98.0 339.7h.1M84.2 340.0h.1M81.1 339.4h.1M88.8 341.8h.1M91.0 340.7h.1M83.7 341.4h.1M95.2 341.5h.1M85.6 338.7h.1M79.8 343.5h.1M83.1 342.6h.1M93.0 338.6h.1M93.5 339.7h.1M93.1 339.0h.1M89.0 341.9h.1M80.1 337.8h.1M96.3 341.7h.1M80.9 339.0h.1M89.9 342.7h.1M84.4 340.4h.1M83.3 338.7h.1M85.3 341.0h.1M83.5 342.7h.1M77.1 342.3h.1M87.0 340.3h.1M78.9 343.1h.1M95.9 341.6h.1M75.4 339.3h.1M85.6 341.9h.1M87.0 339.1h.1M91.3 342.8h.1M83.0 342.4h.1M81.2 341.8h.1M87.3 337.5h.1M77.1 342.3h.1M91.9 339.8h.1M85.9 338.5h.1M94.1 341.3h.1M81.3 339.1h.1M81.7 340.1h.1M83.4 339.0h.1M94.3 341.1h.1M91.4 341.0h.1M78.1 343.3h.1M80.4 340.7h.1M87.9 341.3h.1M82.7 338.8h.1M94.6 341.8h.1M77.7 339.9h.1M81.5 338.2h.1M81.6 342.2h.1M90.0 340.1h.1M89.1 342.2h.1M91.5 338.6h.1M87.9 340.1h.1M76.9 343.3h.1M83.0 337.7h.1M93.6 343.6h.1M82.1 339.2h.1M92.5 343.5h.1M85.9 342.4h.1M75.2 343.8h.1M86.7 342.9h.1M79.5 341.0h.1M81.5 343.8h.1M91.8 341.0h.1M88.6 338.9h.1M96.7 340.6h.1M84.4 337.7h.1M91.8 339.6h.1M84.5 337.9h.1M90.7 342.4h.1M85.0 337.1h.1M84.6 338.9h.1M91.9 338.8h.1M85.4 339.0h.1M84.5 343.3h.1M92.4 340.4h.1M88.1 342.8h.1M89.4 340.5h.1M93.5 338.4h.1M88.6 341.0h.1M78.1 341.1h.1M78.3 340.0h.1M82.8 341.6h.1M80.9 340.3h.1M88.8 341.0h.1M89.5 342.7h.1M77.0 339.5h.1M83.1 342.7h.1M88.1 338.5h.1M93.2 339.1h.1M80.7 339.1h.1M84.2 342.1h.1M75.9 338.0h.1M89.9 341.1h.1M88.7 340.7h.1M80.5 338.1h.1M74.2 340.0h.1M78.0 339.7h.1M78.8 341.6h.1M87.0 338.6h.1M79.8 344.1h.1M88.1 343.7h.1M76.9 339.2h.1M78.6 339.8h.1M78.1 340.9h.1M98.5 340.1h.1M80.4 343.3h.1M89.2 340.4h.1M79.5 343.1h.1M97.1 340.2h.1M91.1 342.2h.1M77.4 340.4h.1M86.0 339.2h.1M88.3 339.0h.1M75.4 340.0h.1M82.4 341.2h.1M73.0 341.7h.1M81.5 340.8h.1M82.3 343.2h.1M79.7 340.9h.1M90.8 340.4h.1M92.5 341.6h.1M94.5 338.7h.1M84.4 337.6h.1M95.9 341.6h.1M93.3 340.6h.1M96.6 340.4h.1M89.8 340.2h.1M72.9 339.9h.1M87.0 339.1h.1M79.0 338.4h.1M89.8 342.6h.1M95.6 339.0h.1M84.1 339.2h.1M79.0 342.4h.1M81.6 339.8h.1M85.3 341.2h.1M82.8 339.5h.1M91.6 340.3h.1M95.0 341.2h.1M82.6 342.0h.1M83.7 342.9h.1M92.5 339.7h.1M74.1 339.6h.1M94.6 339.7h.1M74.4 339.3h.1M89.1 337.8h.1M88.5 340.4h.1M82.2 339.3h.1M78.4 343.1h.1M92.3 342.1h.1M76.7 341.8h.1M94.8 339.8h.1M77.2 342.9h.1M91.5 341.0h.1M84.7 340.8h.1M93.5 341.2h.1M87.0 340.4h.1M83.3 338.7h.1M86.7 339.0h.1M90.2 340.3h.1M95.9 340.2h.1M78.6 338.3h.1M80.7 343.8h.1M88.8 337.7h.1M89.1 342.6h.1M92.7 340.8h.1M74.3 339.8h.1M81.9 341.3h.1M94.5 343.1h.1M79.0 342.2h.1M76.7 340.5h.1M76.2 340.3h.1M83.5 343.3h.1M88.7 342.1h.1M89.2 341.4h.1M83.3 337.8h.1M81.4 339.9h.1M88.5 337.5h.1M74.3 342.0h.1M78.8 338.6h.1M92.8 339.4h.1M82.2 339.5h.1M78.6 342.0h.1M91.1 343.0h.1M86.5 340.4h.1M89.4 343.6h.1M93.1 339.1h.1M77.9 340.2h.1M75.8 340.4h.1M95.0 340.9h.1M85.7 341.3h.1M86.9 342.8h.1M88.3 337.9h.1M94.8 341.9h.1M71.4 341.7h.1M78.5 338.3h.1M93.9 342.6h.1M78.3 343.5h.1M89.0 343.6h.1M89.0 339.9h.1M83.2 341.7h.1M81.4 342.1h.1M90.9 339.6h.1M94.3 338.9h.1M80.7 338.5h.1M83.3 339.8h.1M80.3 339.6h.1M89.5 341.8h.1M92.5 339.7h.1M89.8 338.8h.1M87.8 340.1h.1M87.5 342.0h.1M90.5 341.7h.1M89.3 343.9h.1M72.9 340.2h.1M84.4 336.8h.1M95.1 341.9h.1M95.7 340.1h.1M88.3 343.3h.1M92.5 340.4h.1M88.3 341.5h.1M82.8 341.0h.1M85.5 338.4h.1M88.3 342.7h.1M82.0 341.4h.1M97.3 341.8h.1M96.0 339.0h.1M79.5 341.1h.1M83.7 340.6h.1M83.4 343.1h.1M76.6 338.2h.1M78.8 341.8h.1M86.3 337.5h.1M88.6 341.0h.1M80.1 341.1h.1M85.6 341.1h.1M79.7 342.2h.1M92.5 341.6h.1M76.2 340.0h.1M85.8 340.7h.1M77.2 341.3h.1M80.3 340.5h.1M79.7 340.2h.1M76.1 342.4h.1M91.6 340.3h.1M82.9 340.0h.1M86.9 342.9h.1M83.4 339.1h.1M76.6 339.3h.1M73.0 339.5h.1M77.1 340.3h.1M84.0 338.5h.1M84.0 340.9h.1M87.0 338.0h.1M78.9 338.3h.1M89.8 342.7h.1M82.7 341.2h.1M88.5 339.5h.1M85.1 342.4h.1M88.6 343.1h.1M77.6 338.8h.1M93.6 339.0h.1M74.4 339.9h.1M73.3 340.0h.1M89.8 342.9h.1M86.2 340.2h.1" stroke="#38a840" stroke-width="0.8" stroke-opacity="0.8" stroke-linecap="round" filter="url(#bl2)"/>
<path d="M91.7 341.5h.1M93.0 339.6h.1M91.6 340.0h.1M90.0 341.4h.1M84.6 340.7h.1M89.6 338.9h.1M90.8 340.3h.1M91.3 339.4h.1M88.1 341.5h.1M89.3 340.9h.1M85.6 341.4h.1M91.9 339.6h.1M89.5 340.7h.1M91.5 342.5h.1M87.4 339.4h.1M94.1 342.0h.1M84.3 339.7h.1M87.5 341.0h.1M86.8 340.3h.1M93.8 340.2h.1M92.1 341.9h.1M86.1 340.2h.1M88.5 342.3h.1M91.6 340.4h.1M95.1 341.6h.1M93.0 342.2h.1M88.7 340.3h.1M85.0 341.8h.1M92.9 341.7h.1M90.3 339.4h.1M94.5 340.3h.1M86.6 340.2h.1M89.0 341.5h.1M85.4 340.8h.1M91.2 342.0h.1M91.1 340.4h.1M88.9 342.8h.1M91.7 342.4h.1M89.9 341.9h.1M84.7 342.0h.1M90.7 340.5h.1M85.7 341.9h.1M87.6 339.8h.1M91.9 339.3h.1M92.6 340.5h.1M91.5 340.9h.1M92.4 341.8h.1M88.4 340.6h.1M92.4 342.5h.1M87.9 339.2h.1M88.5 341.2h.1M93.8 340.2h.1M88.0 342.1h.1M93.9 339.6h.1M94.1 342.0h.1M93.8 340.0h.1M91.6 341.3h.1M89.8 342.1h.1M89.1 340.1h.1M90.5 339.8h.1M92.1 339.5h.1M88.4 341.1h.1M90.4 340.7h.1M88.9 339.7h.1M92.5 341.6h.1M89.0 341.8h.1M84.6 339.5h.1M87.8 342.3h.1M89.1 338.8h.1M91.1 339.3h.1M93.6 341.8h.1M83.9 341.1h.1M92.0 340.4h.1M94.0 341.1h.1M89.8 340.0h.1M87.6 340.6h.1M89.8 339.8h.1M87.2 339.7h.1M89.8 340.0h.1M85.8 339.5h.1M90.9 339.6h.1M92.1 339.4h.1M86.2 342.2h.1M86.3 340.2h.1M90.2 341.2h.1M93.3 340.5h.1M84.0 341.6h.1M88.0 342.5h.1M89.2 340.3h.1M88.3 339.4h.1M90.2 339.8h.1M89.9 339.5h.1M92.3 339.2h.1M93.9 341.1h.1M87.6 342.6h.1M90.7 340.0h.1M95.0 340.7h.1M84.7 341.5h.1M95.7 341.3h.1M83.8 340.9h.1M93.7 341.4h.1M85.9 339.7h.1M88.6 341.9h.1M94.2 341.2h.1M88.1 340.3h.1M85.0 340.3h.1M87.1 342.4h.1M90.6 338.8h.1M91.8 339.8h.1M90.2 340.3h.1M89.4 339.2h.1M87.0 340.1h.1M92.2 339.9h.1M90.7 341.2h.1M86.9 338.9h.1M86.8 339.1h.1M89.5 341.9h.1M92.7 340.7h.1M85.6 340.0h.1M86.7 340.5h.1M89.4 339.9h.1M89.7 342.5h.1M91.5 339.6h.1M84.3 339.6h.1M93.4 339.7h.1M91.3 340.8h.1M89.7 338.6h.1M86.9 342.0h.1M86.7 340.5h.1M88.1 340.0h.1M91.5 340.4h.1M93.4 341.4h.1M92.5 340.7h.1M87.3 340.7h.1M88.5 340.2h.1M89.6 341.5h.1M89.5 341.2h.1M90.4 339.2h.1M89.5 339.9h.1M87.8 342.9h.1M89.4 341.2h.1M93.0 339.2h.1M92.2 340.7h.1M87.2 340.4h.1M91.1 342.5h.1M86.5 339.7h.1M86.5 340.4h.1M91.2 338.6h.1M88.6 339.2h.1M85.8 341.4h.1M92.0 342.8h.1M87.9 339.5h.1M93.7 341.2h.1M84.8 342.0h.1M91.2 341.0h.1M91.2 341.8h.1M90.5 338.7h.1M88.2 339.5h.1M90.7 342.4h.1M89.9 339.5h.1M83.8 341.1h.1M95.1 341.2h.1M90.7 342.3h.1M92.3 341.9h.1M93.0 341.6h.1M92.9 340.3h.1M91.7 341.0h.1M85.2 342.0h.1M89.1 338.9h.1M88.0 340.8h.1M91.3 342.5h.1M85.4 341.0h.1M85.0 340.4h.1M87.2 341.5h.1M93.7 342.2h.1M90.9 338.9h.1M87.6 339.1h.1M93.5 340.2h.1M91.2 339.0h.1M87.6 338.7h.1M89.6 341.8h.1M86.8 340.9h.1M92.9 339.1h.1M87.3 340.6h.1M93.3 341.3h.1M91.6 341.0h.1M90.6 342.2h.1M87.0 340.8h.1M92.3 342.1h.1M85.2 341.6h.1M88.7 342.5h.1M93.8 341.6h.1M91.5 341.4h.1M90.2 341.2h.1M93.7 340.6h.1M90.3 340.9h.1M86.5 340.6h.1M93.3 341.7h.1M94.3 340.9h.1M92.6 341.1h.1M91.7 340.3h.1M92.8 339.6h.1M94.3 340.5h.1M93.1 342.2h.1M90.0 339.7h.1M85.8 340.4h.1M91.6 340.1h.1M90.4 341.3h.1M87.6 340.9h.1M88.0 339.1h.1M92.8 342.1h.1M90.4 341.6h.1M87.6 340.5h.1M88.9 341.0h.1M92.4 340.0h.1M88.6 342.0h.1M87.2 341.3h.1M90.2 342.7h.1M87.2 342.2h.1M87.5 340.6h.1M85.4 339.6h.1M91.2 342.6h.1M92.3 339.5h.1M85.3 341.1h.1M87.0 340.2h.1M93.8 340.2h.1M87.8 339.1h.1M93.2 341.1h.1M95.7 340.4h.1M93.5 341.6h.1M90.7 339.2h.1M88.6 342.0h.1M92.1 342.6h.1M94.1 340.7h.1M88.7 340.3h.1M90.5 342.2h.1M84.9 340.5h.1M84.9 339.8h.1M92.7 340.5h.1M85.4 340.0h.1M87.0 340.0h.1M91.4 342.4h.1M91.4 341.9h.1M91.8 341.7h.1M85.9 340.9h.1M89.7 339.2h.1M92.7 339.9h.1M93.6 342.1h.1M87.5 340.2h.1M91.5 341.2h.1M93.6 341.1h.1M86.9 342.7h.1M84.5 341.1h.1M89.2 341.7h.1M93.3 342.0h.1M90.2 340.0h.1M91.5 339.6h.1M89.7 340.2h.1M90.3 343.1h.1M88.5 338.3h.1M90.5 340.9h.1M92.1 341.2h.1M85.0 340.3h.1M92.9 342.4h.1M89.2 339.0h.1M94.6 340.1h.1M84.2 339.8h.1M92.9 341.1h.1M89.3 340.5h.1M90.2 340.8h.1M92.4 340.7h.1M86.5 340.2h.1M91.9 340.9h.1M87.9 340.0h.1M91.2 340.6h.1M89.4 340.6h.1M85.4 340.4h.1M92.0 340.1h.1M91.1 340.5h.1M84.9 340.9h.1M92.3 342.1h.1M90.7 340.8h.1M92.0 342.7h.1M87.2 340.4h.1M94.3 339.7h.1M91.7 338.9h.1M86.5 339.7h.1M95.0 340.9h.1M85.4 342.2h.1M89.6 340.2h.1M90.4 340.9h.1M90.1 340.0h.1M84.5 340.8h.1M88.4 339.8h.1M86.8 342.2h.1M93.2 342.3h.1M92.1 340.9h.1M86.3 341.3h.1M85.1 341.4h.1M91.2 341.8h.1" stroke="#c0c830" stroke-width="0.8" stroke-opacity="0.8" stroke-linecap="round" filter="url(#bl2)"/>
<path d="M92.0 341.6h.1M91.3 339.4h.1M90.8 342.3h.1M88.8 340.2h.1M91.7 341.9h.1M90.6 340.9h.1M87.3 341.4h.1M88.4 340.2h.1M89.9 340.8h.1M90.1 339.3h.1M93.6 340.6h.1M91.9 340.4h.1M90.1 341.4h.1M91.1 342.4h.1M90.9 341.7h.1M89.2 340.0h.1M93.0 341.4h.1M89.8 341.5h.1M92.8 341.3h.1M93.2 341.5h.1M90.3 340.2h.1M88.4 340.4h.1M90.5 340.8h.1M90.9 340.5h.1M89.1 340.0h.1M90.5 342.2h.1M91.6 340.8h.1M89.4 341.5h.1M91.8 340.3h.1M92.2 340.8h.1M88.3 341.4h.1M92.2 340.9h.1M91.2 339.8h.1M88.4 341.5h.1M92.7 341.7h.1M90.2 340.1h.1M88.2 340.1h.1M92.7 341.6h.1M87.7 341.7h.1M88.7 340.4h.1M93.2 340.0h.1M88.4 340.3h.1M89.9 340.8h.1M87.6 341.7h.1M93.7 340.5h.1M89.9 341.0h.1M87.8 341.5h.1M89.3 339.4h.1M88.6 341.9h.1M88.8 339.7h.1M92.7 340.6h.1M88.0 341.7h.1M89.6 341.0h.1M88.8 340.2h.1M89.6 342.4h.1M90.3 341.9h.1M86.7 341.2h.1M92.7 339.8h.1M89.4 341.9h.1M88.5 341.1h.1M89.0 339.8h.1M91.3 339.8h.1M89.5 340.3h.1M89.3 340.8h.1M90.0 339.2h.1M94.1 341.4h.1M89.7 339.5h.1M86.5 340.4h.1M88.7 340.1h.1M87.8 341.8h.1M88.7 341.5h.1M90.5 339.2h.1M91.4 342.1h.1M90.7 341.7h.1M88.8 341.0h.1M89.9 341.2h.1M88.2 341.4h.1M93.3 340.8h.1M90.9 339.6h.1M90.0 339.4h.1M90.2 341.4h.1M87.7 340.3h.1M89.1 340.2h.1M93.5 341.4h.1M91.4 340.9h.1M93.0 340.0h.1M87.4 341.0h.1M90.0 342.2h.1M93.8 340.1h.1M92.9 340.3h.1M90.1 340.6h.1M88.9 341.0h.1M87.9 340.1h.1M89.7 339.9h.1M90.3 341.2h.1M90.4 340.5h.1M90.9 340.3h.1M92.5 341.2h.1M91.9 339.7h.1M87.3 341.2h.1M91.2 340.0h.1M88.1 339.7h.1M91.7 341.2h.1M91.8 340.7h.1M91.0 341.7h.1M87.0 341.2h.1M90.1 341.1h.1M90.7 341.6h.1M92.8 340.4h.1M93.1 339.9h.1M90.3 342.4h.1M90.7 342.4h.1M86.4 340.3h.1M91.0 341.6h.1M90.3 342.2h.1M92.8 340.7h.1M87.6 341.6h.1M86.6 341.3h.1M90.2 339.9h.1M93.3 340.1h.1M88.1 339.4h.1M90.2 340.4h.1M87.0 341.0h.1M89.4 339.5h.1M89.2 339.8h.1M90.0 340.1h.1M88.5 340.3h.1M88.2 341.7h.1M89.5 341.4h.1M90.9 340.0h.1M87.7 340.7h.1M90.6 340.1h.1M92.0 340.3h.1M86.9 340.6h.1M90.8 342.5h.1M90.9 342.1h.1M91.5 341.1h.1M92.7 341.4h.1M90.5 340.7h.1M89.8 341.4h.1M90.1 342.4h.1M90.5 341.2h.1M87.1 341.7h.1M86.7 340.8h.1M89.9 341.4h.1M88.4 340.3h.1M88.0 340.9h.1M91.8 341.6h.1M89.3 340.0h.1M89.1 339.5h.1M91.7 341.7h.1M88.6 339.5h.1M90.0 339.2h.1M88.8 341.6h.1M91.2 342.4h.1M90.0 341.9h.1M89.5 340.7h.1M89.8 340.6h.1M87.6 341.5h.1M93.1 340.1h.1M90.4 340.1h.1M88.8 341.8h.1M87.7 341.0h.1M90.1 339.7h.1M92.7 341.5h.1M89.2 340.6h.1M90.6 341.8h.1M86.4 340.8h.1M90.0 340.2h.1M91.0 342.2h.1M91.6 341.1h.1M89.0 339.9h.1M91.7 341.6h.1M89.1 341.2h.1M90.2 340.9h.1M88.7 341.4h.1M89.9 342.0h.1M89.7 340.9h.1M87.7 341.4h.1M88.2 340.7h.1M91.4 341.8h.1M88.7 342.1h.1M90.3 340.9h.1M89.9 341.5h.1M91.9 339.8h.1M92.1 339.9h.1M90.0 341.0h.1M90.7 341.8h.1M91.3 340.3h.1M87.0 340.9h.1M92.7 341.5h.1M87.8 341.2h.1M88.6 339.2h.1M91.0 340.0h.1M89.0 340.8h.1M92.3 340.3h.1M90.5 340.3h.1M92.3 341.3h.1M92.3 340.3h.1M88.4 340.5h.1M89.9 340.7h.1M92.6 341.8h.1M91.7 340.9h.1M89.0 340.1h.1M91.0 340.1h.1M88.6 342.2h.1M91.4 341.6h.1M91.5 339.2h.1M90.0 340.3h.1M92.6 341.2h.1M87.5 340.6h.1M90.0 341.0h.1M87.7 340.2h.1M90.3 342.3h.1M91.1 340.8h.1M90.9 340.3h.1M88.1 339.6h.1M87.4 340.3h.1M87.7 341.7h.1M89.6 341.8h.1M91.7 340.3h.1M93.7 341.7h.1M88.6 342.0h.1M87.7 340.7h.1M90.1 340.7h.1M90.3 341.9h.1M92.2 339.4h.1M92.2 340.7h.1M87.9 341.7h.1M90.8 341.5h.1M88.8 339.2h.1M87.4 340.8h.1M88.8 340.0h.1M92.7 341.5h.1M91.2 340.8h.1M91.1 342.1h.1M91.5 340.1h.1M91.6 341.5h.1M88.6 340.6h.1M87.8 341.3h.1M90.1 341.7h.1M90.0 341.8h.1M88.4 339.3h.1M91.1 341.1h.1M90.4 341.4h.1M88.5 342.4h.1M90.8 342.6h.1M91.2 341.8h.1M93.1 341.0h.1M88.4 341.8h.1" stroke="#e8c020" stroke-width="0.8" stroke-opacity="0.85" stroke-linecap="round" filter="url(#bl2)"/>
<path d="M89.6 339.6h.1M91.7 340.1h.1M90.1 341.7h.1M90.8 340.3h.1M90.3 340.4h.1M89.6 340.9h.1M89.3 341.3h.1M90.5 340.3h.1M91.1 341.0h.1M89.5 340.1h.1M92.1 340.4h.1M90.3 341.4h.1M90.4 340.2h.1M91.3 341.3h.1M89.5 340.3h.1M89.5 340.2h.1M90.7 341.8h.1M89.1 341.6h.1M91.2 341.0h.1M91.3 341.2h.1M91.6 340.7h.1M91.2 340.3h.1M89.9 340.6h.1M89.7 339.9h.1M88.8 341.1h.1M89.9 340.6h.1M91.2 339.9h.1M88.9 340.6h.1M91.6 340.3h.1M90.6 340.3h.1M90.8 341.6h.1M89.4 341.1h.1M89.2 341.0h.1M90.6 341.0h.1M91.1 340.9h.1M90.2 341.5h.1M91.7 340.8h.1M91.1 341.3h.1M89.3 340.6h.1M88.9 341.4h.1M88.6 341.1h.1M90.4 340.7h.1M91.6 340.8h.1M90.2 339.8h.1M91.5 340.0h.1M89.6 340.2h.1M91.0 341.6h.1M90.0 340.2h.1M90.3 340.6h.1M90.1 340.7h.1M91.6 340.2h.1M89.3 340.9h.1M89.8 341.1h.1M90.9 341.1h.1M90.1 340.5h.1M91.2 341.5h.1M91.0 340.5h.1M89.3 340.3h.1M91.0 341.1h.1M90.1 341.0h.1M89.4 341.6h.1M88.9 340.2h.1M90.2 340.9h.1M92.5 341.0h.1M88.3 341.1h.1M90.4 341.7h.1M88.6 341.1h.1M89.9 341.6h.1M91.1 340.2h.1M90.2 341.0h.1M90.4 341.0h.1M88.7 341.4h.1M90.6 341.4h.1M91.0 341.1h.1M90.4 340.5h.1M90.3 340.8h.1M89.2 341.1h.1M89.8 340.0h.1M89.9 340.9h.1M89.9 340.5h.1M90.4 340.2h.1M91.2 341.7h.1M90.1 341.6h.1M89.7 342.0h.1M90.1 340.5h.1M91.6 340.7h.1M90.8 341.3h.1M91.4 341.2h.1M90.3 340.5h.1M89.3 340.0h.1M90.4 340.7h.1M91.0 341.1h.1M91.8 340.0h.1M90.3 341.0h.1M89.4 340.8h.1M88.9 340.4h.1M89.0 340.1h.1M90.9 340.0h.1M92.0 340.5h.1M92.2 340.8h.1" stroke="#e05a20" stroke-width="0.8" stroke-opacity="0.85" stroke-linecap="round" filter="url(#bl2)"/>
<rect x="52.5" y="286.5" width="71.0" height="71.0" fill="none" stroke="#444" stroke-width="1"/>
<line x1="49.0" y1="293.9" x2="52.5" y2="293.9" stroke="#333" stroke-width="0.9"/>
<text x="46" y="296.59999999999997" font-size="7.6" text-anchor="end" fill="#2a2a2a">10<tspan font-size="4.6" dy="-3.2">5</tspan></text>
<line x1="49.0" y1="310.2" x2="52.5" y2="310.2" stroke="#333" stroke-width="0.9"/>
<text x="46" y="312.9" font-size="7.6" text-anchor="end" fill="#2a2a2a">10<tspan font-size="4.6" dy="-3.2">4</tspan></text>
<line x1="49.0" y1="329.6" x2="52.5" y2="329.6" stroke="#333" stroke-width="0.9"/>
<text x="46" y="332.3" font-size="7.6" text-anchor="end" fill="#2a2a2a">10<tspan font-size="4.6" dy="-3.2">3</tspan></text>
<line x1="49.0" y1="342.1" x2="52.5" y2="342.1" stroke="#333" stroke-width="0.9"/>
<text x="46" y="344.8" font-size="7.6" text-anchor="end" fill="#2a2a2a">0</text>
<line x1="49.0" y1="353" x2="52.5" y2="353" stroke="#333" stroke-width="0.9"/>
<text x="46" y="355.7" font-size="7.6" text-anchor="end" fill="#2a2a2a">−10<tspan font-size="4.6" dy="-3.2">3</tspan></text>
<line x1="50.5" y1="305.29" x2="52.5" y2="305.29" stroke="#555" stroke-width="0.6"/>
<line x1="50.5" y1="302.42" x2="52.5" y2="302.42" stroke="#555" stroke-width="0.6"/>
<line x1="50.5" y1="300.39" x2="52.5" y2="300.39" stroke="#555" stroke-width="0.6"/>
<line x1="50.5" y1="298.81" x2="52.5" y2="298.81" stroke="#555" stroke-width="0.6"/>
<line x1="50.5" y1="297.52" x2="52.5" y2="297.52" stroke="#555" stroke-width="0.6"/>
<line x1="50.5" y1="296.42" x2="52.5" y2="296.42" stroke="#555" stroke-width="0.6"/>
<line x1="50.5" y1="295.48" x2="52.5" y2="295.48" stroke="#555" stroke-width="0.6"/>
<line x1="50.5" y1="294.65" x2="52.5" y2="294.65" stroke="#555" stroke-width="0.6"/>
<line x1="50.5" y1="323.76" x2="52.5" y2="323.76" stroke="#555" stroke-width="0.6"/>
<line x1="50.5" y1="320.34" x2="52.5" y2="320.34" stroke="#555" stroke-width="0.6"/>
<line x1="50.5" y1="317.92" x2="52.5" y2="317.92" stroke="#555" stroke-width="0.6"/>
<line x1="50.5" y1="316.04" x2="52.5" y2="316.04" stroke="#555" stroke-width="0.6"/>
<line x1="50.5" y1="314.50" x2="52.5" y2="314.50" stroke="#555" stroke-width="0.6"/>
<line x1="50.5" y1="313.21" x2="52.5" y2="313.21" stroke="#555" stroke-width="0.6"/>
<line x1="50.5" y1="312.08" x2="52.5" y2="312.08" stroke="#555" stroke-width="0.6"/>
<line x1="50.5" y1="311.09" x2="52.5" y2="311.09" stroke="#555" stroke-width="0.6"/>
<line x1="50.5" y1="332.10" x2="52.5" y2="332.10" stroke="#555" stroke-width="0.6"/>
<line x1="50.5" y1="334.60" x2="52.5" y2="334.60" stroke="#555" stroke-width="0.6"/>
<line x1="50.5" y1="337.10" x2="52.5" y2="337.10" stroke="#555" stroke-width="0.6"/>
<line x1="50.5" y1="339.60" x2="52.5" y2="339.60" stroke="#555" stroke-width="0.6"/>
<line x1="54.8" y1="357.5" x2="54.8" y2="361.0" stroke="#333" stroke-width="0.9"/>
<text x="54.599999999999994" y="372.0" font-size="7.6" text-anchor="middle" fill="#2a2a2a">−10<tspan font-size="4.6" dy="-3.2">3</tspan></text>
<line x1="71.7" y1="357.5" x2="71.7" y2="361.0" stroke="#333" stroke-width="0.9"/>
<text x="71.7" y="372.0" font-size="7.6" text-anchor="middle" fill="#2a2a2a">0</text>
<line x1="90.5" y1="357.5" x2="90.5" y2="361.0" stroke="#333" stroke-width="0.9"/>
<text x="90.3" y="372.0" font-size="7.6" text-anchor="middle" fill="#2a2a2a">10<tspan font-size="4.6" dy="-3.2">3</tspan></text>
<line x1="105" y1="357.5" x2="105" y2="361.0" stroke="#333" stroke-width="0.9"/>
<text x="104.8" y="372.0" font-size="7.6" text-anchor="middle" fill="#2a2a2a">10<tspan font-size="4.6" dy="-3.2">4</tspan></text>
<line x1="119.3" y1="357.5" x2="119.3" y2="361.0" stroke="#333" stroke-width="0.9"/>
<text x="119.1" y="372.0" font-size="7.6" text-anchor="middle" fill="#2a2a2a">10<tspan font-size="4.6" dy="-3.2">5</tspan></text>
<line x1="94.86" y1="357.5" x2="94.86" y2="359.5" stroke="#777" stroke-width="0.5"/>
<line x1="97.42" y1="357.5" x2="97.42" y2="359.5" stroke="#777" stroke-width="0.5"/>
<line x1="99.23" y1="357.5" x2="99.23" y2="359.5" stroke="#777" stroke-width="0.5"/>
<line x1="100.64" y1="357.5" x2="100.64" y2="359.5" stroke="#777" stroke-width="0.5"/>
<line x1="101.78" y1="357.5" x2="101.78" y2="359.5" stroke="#777" stroke-width="0.5"/>
<line x1="102.75" y1="357.5" x2="102.75" y2="359.5" stroke="#777" stroke-width="0.5"/>
<line x1="103.59" y1="357.5" x2="103.59" y2="359.5" stroke="#777" stroke-width="0.5"/>
<line x1="104.34" y1="357.5" x2="104.34" y2="359.5" stroke="#777" stroke-width="0.5"/>
<line x1="109.30" y1="357.5" x2="109.30" y2="359.5" stroke="#777" stroke-width="0.5"/>
<line x1="111.82" y1="357.5" x2="111.82" y2="359.5" stroke="#777" stroke-width="0.5"/>
<line x1="113.61" y1="357.5" x2="113.61" y2="359.5" stroke="#777" stroke-width="0.5"/>
<line x1="115.00" y1="357.5" x2="115.00" y2="359.5" stroke="#777" stroke-width="0.5"/>
<line x1="116.13" y1="357.5" x2="116.13" y2="359.5" stroke="#777" stroke-width="0.5"/>
<line x1="117.08" y1="357.5" x2="117.08" y2="359.5" stroke="#777" stroke-width="0.5"/>
<line x1="117.91" y1="357.5" x2="117.91" y2="359.5" stroke="#777" stroke-width="0.5"/>
<line x1="118.65" y1="357.5" x2="118.65" y2="359.5" stroke="#777" stroke-width="0.5"/>
<rect x="49.5" y="340.3" width="2.5" height="3.6" fill="#111"/>
<rect x="68.7" y="358.1" width="5" height="1.8" fill="#111"/>
<line x1="52.5" y1="334" x2="123.5" y2="334" stroke="#999" stroke-width="0.9"/>
<line x1="79.5" y1="286.5" x2="79.5" y2="334" stroke="#999" stroke-width="0.9"/>
<rect x="76.6" y="334" width="46.7" height="23.6" fill="none" stroke="#111" stroke-width="1.6"/>
<text x="53.3" y="297.6" font-size="9.4" fill="#222">18,3</text>
<text x="116.6" y="297.6" font-size="9.4" text-anchor="end" fill="#222">3,87</text>
<text x="53.6" y="353.6" font-size="9.4" fill="#222" textLength="15.4" lengthAdjust="spacingAndGlyphs">17,7</text>
<text x="116.6" y="353.6" font-size="9.4" text-anchor="end" fill="#222">60,1</text>
<line x1="112.3" y1="362.4" x2="112.3" y2="382" stroke="#111" stroke-width="1.15"/>
<path d="M108.8 380.5 L112.3 388.5 L115.8 380.5 Z" fill="#111"/>
<path d="M24.9 353.1 V376 H54.5" fill="none" stroke="#111" stroke-width="1.15"/>
<path d="M21.9 355.1 L24.9 349.1 L27.9 355.1 Z" fill="#111"/>
<path d="M52.5 373 L58.5 376 L52.5 379 Z" fill="#111"/>
<text x="18.8" y="376.5" font-size="9.3" fill="#2a2a2a" transform="rotate(-90 18.8 376.5)">NKG2A</text>
<text x="26.2" y="387.6" font-size="9.3" fill="#2a2a2a">NKG2C</text>
<path d="M81.0 430.6h.1M81.7 434.2h.1M83.4 418.6h.1M83.0 422.5h.1M78.8 440.4h.1M81.6 431.5h.1M79.8 433.0h.1M82.2 441.0h.1M80.7 428.7h.1M82.2 424.4h.1M82.2 436.0h.1M79.1 435.8h.1M81.6 439.9h.1M83.5 432.3h.1M79.7 440.2h.1M81.6 439.1h.1M79.4 426.4h.1M82.3 430.9h.1M81.5 418.1h.1M82.0 444.3h.1M80.6 428.4h.1M78.8 440.3h.1M78.7 418.3h.1M80.9 423.9h.1M79.9 439.1h.1M83.6 438.7h.1M82.0 426.3h.1M79.6 423.9h.1M80.9 441.1h.1M79.8 418.9h.1M79.7 432.6h.1M82.7 444.4h.1M79.6 423.1h.1M79.1 438.4h.1M81.5 421.0h.1M81.1 422.3h.1M79.9 423.1h.1M80.1 422.1h.1M82.2 428.6h.1M82.1 426.8h.1M81.9 429.8h.1M81.1 442.1h.1M82.7 430.9h.1M82.1 438.4h.1M80.7 423.1h.1M82.9 436.0h.1M82.8 441.7h.1M81.7 437.0h.1M81.2 426.3h.1M81.4 434.4h.1M79.5 429.0h.1M81.5 439.6h.1M80.6 419.0h.1M79.0 419.5h.1M81.0 422.2h.1M81.6 437.6h.1M79.2 432.8h.1M82.1 442.8h.1M78.9 429.1h.1M80.4 427.2h.1M80.9 436.7h.1M84.0 430.7h.1M82.7 438.5h.1M79.9 421.1h.1M81.7 444.3h.1M83.5 435.6h.1M79.7 433.5h.1M79.4 422.8h.1M79.6 419.6h.1M83.1 439.2h.1M80.6 423.1h.1M78.7 423.7h.1M77.6 440.4h.1M80.6 436.6h.1M81.2 440.7h.1M80.1 437.3h.1M80.2 441.2h.1M81.6 422.4h.1M80.7 438.2h.1M79.2 419.7h.1M81.2 443.2h.1M80.0 438.1h.1M80.0 418.7h.1M80.6 419.7h.1M80.3 418.9h.1M79.9 430.5h.1M82.3 429.8h.1M81.7 428.9h.1M81.8 424.3h.1M80.2 421.1h.1" stroke="#e87060" stroke-width="0.6" stroke-opacity="0.4" stroke-linecap="round" filter="url(#bl2)"/>
<path d="M85.9 435.0h.1M91.0 416.8h.1M81.5 440.7h.1M86.4 432.0h.1M87.8 429.0h.1M91.9 428.7h.1M90.2 423.9h.1M93.6 423.3h.1M92.2 426.5h.1M86.4 424.6h.1M83.2 441.7h.1M86.6 424.6h.1M92.7 427.5h.1M88.7 422.9h.1M93.5 442.8h.1M87.3 423.4h.1M88.1 423.9h.1M89.9 442.4h.1M88.4 433.6h.1M89.4 447.0h.1M93.0 431.9h.1M89.0 426.0h.1M87.7 441.4h.1M85.9 439.3h.1M87.2 428.9h.1M83.5 438.8h.1M92.3 434.1h.1M86.4 437.4h.1M91.6 423.5h.1M83.9 424.5h.1M88.9 423.2h.1M90.2 434.1h.1M96.3 439.0h.1M88.3 438.5h.1M92.6 437.9h.1M89.3 443.9h.1M86.1 442.9h.1M87.2 444.2h.1M91.9 426.0h.1M89.1 418.8h.1M82.1 442.4h.1M88.6 444.0h.1M89.3 421.3h.1M89.7 440.4h.1M92.0 432.0h.1M92.8 440.1h.1M82.1 442.6h.1M93.3 442.5h.1M89.3 433.1h.1M86.8 427.2h.1M89.5 438.1h.1M85.7 436.2h.1M85.6 438.0h.1M87.7 433.5h.1M87.2 428.3h.1M91.7 431.8h.1M92.8 441.0h.1M88.0 442.2h.1M88.2 431.2h.1M87.0 428.7h.1M90.6 438.0h.1M86.3 440.2h.1M91.2 420.4h.1M84.9 430.6h.1M84.3 432.1h.1M90.3 440.8h.1M85.4 427.6h.1M94.3 420.4h.1M93.4 420.1h.1M88.2 431.4h.1M91.9 428.7h.1M84.1 435.1h.1M89.4 420.0h.1M93.7 430.8h.1M92.6 423.8h.1M84.3 443.4h.1M88.2 427.7h.1M85.9 429.1h.1M87.7 445.9h.1M86.4 434.8h.1M81.4 429.9h.1M84.8 419.7h.1M91.0 438.4h.1M91.0 434.6h.1M84.4 430.7h.1M88.9 432.0h.1M92.7 428.9h.1M85.2 428.7h.1M89.2 423.6h.1M95.2 427.5h.1M95.1 426.0h.1M84.9 444.3h.1M85.5 420.3h.1M89.6 434.8h.1M91.0 442.0h.1M89.8 424.1h.1M89.4 428.3h.1M89.3 443.1h.1M92.5 429.0h.1M85.9 433.6h.1M87.4 428.4h.1M94.0 438.9h.1M85.0 427.9h.1M92.0 430.6h.1M86.6 441.2h.1M92.3 420.5h.1M90.8 435.2h.1M84.9 429.9h.1M84.8 422.8h.1M84.0 436.7h.1M89.5 430.0h.1M94.7 433.8h.1M88.2 421.8h.1M90.1 445.6h.1M90.8 432.6h.1M87.1 438.0h.1M86.1 423.0h.1M87.0 442.5h.1M84.9 420.5h.1M84.5 429.5h.1M92.3 422.4h.1M82.6 424.6h.1M92.8 420.0h.1M86.6 442.3h.1M89.1 439.3h.1M84.1 439.4h.1M87.0 430.1h.1M85.7 431.7h.1M92.1 428.5h.1M91.6 429.3h.1M87.5 430.4h.1M87.8 418.1h.1M84.6 430.6h.1M91.2 426.3h.1M92.2 428.9h.1M84.6 431.0h.1M83.6 442.1h.1M82.2 439.4h.1M95.2 438.6h.1M86.8 441.9h.1M94.6 426.0h.1M83.9 418.1h.1M88.7 427.4h.1M87.3 438.8h.1M81.2 422.8h.1M88.8 421.6h.1M89.7 428.8h.1M93.4 420.8h.1M93.9 430.7h.1M95.0 432.6h.1M84.8 440.7h.1M87.6 436.3h.1M95.7 437.6h.1M87.8 435.2h.1M90.3 427.3h.1M86.7 443.7h.1M84.8 434.5h.1M92.5 424.0h.1M95.6 438.3h.1M82.6 438.9h.1M90.9 428.8h.1M86.0 432.3h.1M89.9 433.2h.1M89.0 426.0h.1M94.1 433.0h.1M84.9 427.5h.1M85.8 442.9h.1M90.6 441.8h.1M82.2 437.4h.1M86.0 423.1h.1M85.5 428.1h.1M95.2 432.6h.1M89.3 436.0h.1M90.5 436.0h.1M92.8 432.5h.1M92.4 429.5h.1M85.6 445.0h.1M87.8 438.2h.1M90.3 434.1h.1M91.3 434.7h.1M82.7 422.5h.1M89.9 442.4h.1M89.0 439.0h.1M87.7 429.6h.1M84.5 423.8h.1M95.1 427.3h.1M82.6 432.5h.1M93.1 418.8h.1M88.0 433.7h.1M89.4 427.1h.1M95.6 436.8h.1M92.0 431.7h.1M94.1 438.7h.1M82.9 435.6h.1M89.1 421.7h.1M94.8 440.4h.1M92.9 439.7h.1M91.5 428.1h.1M89.1 439.1h.1M93.8 439.0h.1M93.7 428.8h.1M87.9 427.1h.1M94.8 432.6h.1M93.0 429.6h.1M86.6 418.7h.1M94.0 438.3h.1M88.6 438.8h.1M85.8 435.8h.1M89.2 431.8h.1M83.1 431.9h.1M85.9 442.7h.1M88.6 417.6h.1M86.8 423.6h.1M91.5 419.0h.1M95.0 436.3h.1M81.3 423.1h.1M86.6 427.1h.1M90.6 434.9h.1M89.1 422.7h.1M86.5 439.4h.1M92.4 425.0h.1M93.7 422.6h.1M90.6 430.8h.1M91.8 438.2h.1M84.0 420.6h.1M87.5 429.2h.1M85.1 442.0h.1M84.7 425.1h.1M92.3 440.5h.1M86.2 430.3h.1M93.3 437.0h.1M87.6 427.0h.1M86.5 419.7h.1M85.0 439.0h.1M93.9 421.1h.1M88.1 437.3h.1M88.1 424.1h.1M89.1 441.0h.1M83.8 445.3h.1M84.7 421.1h.1M86.7 433.1h.1M90.5 427.6h.1M92.1 441.4h.1M91.5 431.0h.1M86.0 441.3h.1M86.7 436.7h.1M93.6 421.2h.1M85.7 443.0h.1M86.3 421.2h.1M90.2 426.2h.1M87.6 424.6h.1M87.4 431.1h.1M83.4 422.6h.1M84.9 441.0h.1M83.4 436.1h.1M92.8 437.2h.1M92.0 441.1h.1M91.1 423.2h.1M90.2 439.3h.1M89.3 427.4h.1M90.4 420.9h.1M87.9 426.6h.1M89.5 442.3h.1M91.6 418.7h.1M89.0 418.3h.1M93.4 442.1h.1M92.3 434.5h.1M92.2 426.1h.1M86.3 422.6h.1M91.7 436.0h.1M91.6 434.9h.1M83.5 445.5h.1M87.5 423.2h.1M85.6 433.8h.1M83.1 434.3h.1M96.2 441.1h.1M84.1 441.6h.1M89.3 417.8h.1M90.4 426.1h.1M87.8 420.0h.1M95.6 445.6h.1M91.2 437.6h.1M86.0 430.8h.1M90.4 432.8h.1M85.2 432.2h.1M87.1 421.6h.1M91.3 433.3h.1M84.6 431.1h.1M93.6 423.7h.1M93.3 431.8h.1M84.5 426.1h.1M88.1 429.7h.1M88.9 436.3h.1M85.7 420.8h.1M87.1 439.2h.1M88.7 441.5h.1M91.4 439.4h.1M83.2 426.4h.1M85.6 424.2h.1M85.4 439.2h.1M82.0 445.5h.1M85.0 430.8h.1M87.2 420.1h.1M87.3 428.2h.1M86.1 431.0h.1M88.2 423.7h.1M91.4 424.8h.1M92.6 424.6h.1M82.1 425.6h.1M87.3 439.7h.1M87.6 433.4h.1M93.2 420.2h.1M85.8 440.9h.1M86.9 442.7h.1M85.8 426.2h.1M83.3 442.9h.1M85.9 430.0h.1M93.1 428.4h.1M82.2 426.1h.1M86.8 433.9h.1M84.4 445.1h.1M87.9 434.0h.1M93.7 443.5h.1M86.9 444.6h.1M92.3 439.1h.1M96.0 440.5h.1M94.4 432.5h.1M90.8 442.4h.1M94.2 433.9h.1M93.3 434.8h.1M85.5 444.7h.1M90.3 437.7h.1M93.2 418.7h.1M82.7 446.0h.1M92.5 442.7h.1M87.0 421.5h.1M84.1 435.8h.1M85.8 436.8h.1M85.9 430.3h.1M88.5 420.7h.1M84.9 432.9h.1M85.3 430.1h.1M84.2 424.4h.1M84.7 425.1h.1M89.2 435.5h.1M86.4 421.9h.1M87.4 423.5h.1M89.6 441.0h.1M90.8 440.9h.1M89.5 440.2h.1M92.3 444.7h.1M87.5 445.2h.1M91.4 437.0h.1M79.5 431.7h.1M90.4 431.1h.1M84.8 442.4h.1M93.1 429.8h.1M82.0 425.2h.1M82.2 436.5h.1M83.9 429.6h.1M83.5 423.6h.1M96.1 433.6h.1M84.8 438.8h.1M88.8 416.7h.1M95.2 426.0h.1M88.7 429.4h.1M92.4 434.9h.1M93.3 439.9h.1M82.6 422.4h.1M87.0 439.4h.1M83.1 437.6h.1M92.8 425.1h.1M95.1 436.4h.1M85.3 427.8h.1M85.0 431.5h.1M83.2 435.2h.1M87.9 433.6h.1M89.1 433.8h.1M89.2 425.6h.1M91.0 434.5h.1M95.1 426.6h.1M85.9 428.9h.1M82.9 438.2h.1M94.1 441.9h.1M84.2 431.4h.1M88.3 436.0h.1M82.9 444.1h.1M92.9 440.3h.1M89.6 422.6h.1M90.8 421.8h.1M95.0 419.4h.1M90.1 440.4h.1M85.6 434.6h.1M84.4 423.0h.1M84.2 418.3h.1M85.2 423.5h.1M86.3 440.9h.1M90.2 437.4h.1M85.5 445.0h.1M83.0 440.3h.1M95.6 428.1h.1M90.0 425.7h.1M94.3 420.8h.1M94.1 433.4h.1M84.0 431.8h.1M84.8 437.2h.1M88.0 441.7h.1M83.6 424.5h.1M92.3 426.8h.1M88.5 419.4h.1M94.5 431.7h.1M87.9 437.2h.1M87.2 436.8h.1M90.1 437.2h.1M84.1 421.8h.1M89.3 423.0h.1M83.3 435.0h.1M89.5 431.2h.1M83.8 435.8h.1M88.4 419.8h.1M85.7 444.2h.1M88.7 422.6h.1M89.7 431.5h.1M87.8 417.7h.1M84.6 436.2h.1M92.0 422.2h.1M88.7 441.7h.1M84.7 436.3h.1M92.0 439.1h.1M94.3 441.6h.1M93.2 442.9h.1M91.8 420.4h.1M92.0 420.5h.1M92.5 427.2h.1M85.9 441.5h.1M85.4 434.4h.1M94.4 425.8h.1M89.8 436.3h.1M95.0 426.8h.1M92.7 436.7h.1M84.2 444.2h.1M94.3 427.8h.1M85.7 434.0h.1M90.0 441.7h.1M87.1 425.9h.1M86.9 433.5h.1M91.9 421.2h.1M96.5 429.2h.1M94.3 436.5h.1M82.3 443.2h.1M90.4 424.8h.1M85.1 432.3h.1M81.9 427.3h.1M94.1 430.5h.1M87.2 439.5h.1M92.4 423.3h.1M85.3 437.3h.1M91.5 431.3h.1M89.0 436.7h.1M82.4 424.0h.1M91.1 421.0h.1M90.9 443.8h.1M84.8 440.0h.1M89.8 442.2h.1M88.6 420.6h.1M90.7 440.5h.1M84.8 444.5h.1M86.8 440.0h.1M85.4 437.4h.1M82.3 423.6h.1M93.2 419.2h.1M94.3 440.1h.1M90.0 425.8h.1M86.7 422.8h.1M86.0 429.6h.1M87.6 419.4h.1M84.7 429.6h.1M89.4 420.5h.1M86.5 424.7h.1M86.9 422.7h.1M89.9 441.4h.1M87.0 434.9h.1M89.7 430.1h.1M91.7 439.7h.1M88.2 430.9h.1M91.7 422.5h.1M94.6 424.6h.1M83.8 432.2h.1M87.2 426.3h.1M84.8 420.2h.1M87.2 441.9h.1M95.0 445.2h.1M91.6 425.0h.1M91.6 446.5h.1M88.3 421.2h.1M93.0 443.0h.1M93.2 420.7h.1M93.0 431.3h.1M84.9 422.3h.1M82.7 438.5h.1M83.0 419.5h.1M95.4 444.9h.1M92.7 426.0h.1M89.9 441.3h.1M93.7 431.9h.1M86.1 430.5h.1M88.6 440.2h.1M86.8 426.9h.1M86.6 431.1h.1M85.3 420.9h.1M92.2 422.6h.1M88.5 437.9h.1M92.1 439.8h.1M95.0 428.5h.1M83.6 441.7h.1M94.0 423.9h.1M92.5 420.1h.1M84.0 426.3h.1M89.8 426.1h.1M95.3 432.0h.1M85.4 429.2h.1M83.5 418.8h.1M92.2 444.2h.1M96.6 425.2h.1M89.6 436.2h.1M89.0 434.0h.1M90.9 443.4h.1M88.0 425.1h.1M92.6 420.6h.1M95.0 439.3h.1M81.5 427.4h.1M88.8 442.9h.1M91.1 442.0h.1M91.0 441.4h.1M84.5 431.5h.1M95.8 420.5h.1M89.6 424.0h.1M83.6 438.0h.1M92.6 419.4h.1M90.2 418.9h.1M91.8 434.2h.1M91.6 432.6h.1M86.6 437.8h.1M86.4 423.0h.1M88.2 441.6h.1M83.0 440.5h.1M88.2 442.4h.1M87.4 442.2h.1M83.8 442.4h.1M86.6 436.3h.1M87.6 426.1h.1M88.8 430.6h.1M94.3 439.1h.1M87.8 436.1h.1M90.8 436.6h.1M95.3 440.1h.1M90.8 440.1h.1M93.2 434.4h.1M83.7 430.1h.1M85.5 434.3h.1M86.2 420.9h.1M83.0 420.6h.1M84.7 441.1h.1M90.3 444.4h.1M90.5 436.8h.1M91.1 425.1h.1M92.9 442.7h.1M95.9 438.7h.1M90.2 419.2h.1M93.4 427.6h.1M86.8 426.3h.1M87.6 443.2h.1M90.2 432.9h.1M85.3 440.8h.1M85.1 427.2h.1M85.2 421.7h.1M90.8 419.5h.1M93.3 431.2h.1M85.1 420.8h.1M90.7 425.3h.1M88.4 436.7h.1M86.8 436.2h.1M82.7 418.5h.1M91.9 418.4h.1M86.6 441.3h.1M85.9 439.0h.1M90.1 428.5h.1M88.9 432.4h.1M88.5 419.3h.1M91.6 434.7h.1M83.0 428.4h.1M92.3 437.3h.1M82.8 424.1h.1M84.9 435.8h.1M87.2 425.8h.1M93.7 423.6h.1M86.8 430.7h.1M85.7 435.3h.1M87.0 441.8h.1M90.9 444.7h.1M86.7 442.0h.1M91.1 438.1h.1M88.4 442.9h.1M92.2 430.7h.1M95.8 434.6h.1M92.0 435.2h.1M94.1 427.5h.1M85.1 424.8h.1M84.0 436.6h.1M93.3 433.9h.1M84.3 420.0h.1M90.7 419.9h.1M93.7 431.1h.1M89.9 433.8h.1M83.7 417.9h.1M89.9 420.4h.1M91.9 426.2h.1M88.8 419.1h.1M83.3 419.3h.1M87.6 420.8h.1M90.4 424.8h.1M85.1 418.5h.1M82.5 435.5h.1M92.1 434.2h.1M85.7 443.5h.1M85.7 434.1h.1M86.2 444.1h.1M91.4 419.3h.1M89.8 443.9h.1M89.3 435.5h.1M91.1 432.0h.1M82.5 432.0h.1M96.6 435.3h.1M88.2 438.1h.1M85.7 429.6h.1M94.5 425.0h.1M92.0 440.3h.1M85.7 440.5h.1M94.9 431.3h.1M85.7 442.1h.1M87.3 429.7h.1M92.8 429.4h.1M95.9 417.9h.1M91.0 441.3h.1M86.5 432.1h.1M84.4 438.8h.1M91.7 434.1h.1M86.8 433.4h.1M87.5 443.5h.1M81.1 416.2h.1M87.1 443.1h.1M90.3 422.8h.1M84.3 443.1h.1M90.2 433.3h.1M93.3 437.6h.1M88.2 445.5h.1M82.4 437.1h.1M83.1 438.5h.1M88.6 433.2h.1M92.9 429.0h.1M86.8 431.0h.1M90.2 430.9h.1M84.5 435.9h.1M90.2 430.4h.1M86.0 435.9h.1M88.5 423.4h.1M91.2 431.7h.1M90.9 438.9h.1M91.1 425.9h.1M87.6 425.9h.1M94.8 423.4h.1M95.2 431.3h.1M94.3 434.1h.1M96.3 438.3h.1M87.4 431.5h.1M94.7 432.2h.1M93.5 425.6h.1M88.6 431.9h.1M82.5 421.9h.1M89.6 436.2h.1M95.4 439.1h.1M92.6 432.5h.1M85.7 437.1h.1M95.0 441.9h.1M91.1 419.1h.1M85.4 423.6h.1M90.9 424.7h.1M86.3 430.2h.1M89.8 434.4h.1M85.5 434.6h.1M91.8 420.8h.1M84.9 419.2h.1M91.8 440.3h.1M93.4 445.1h.1M86.0 441.3h.1M96.9 442.8h.1M84.1 440.1h.1M87.7 436.2h.1M95.4 424.4h.1M84.7 425.0h.1M88.0 425.5h.1M85.7 420.8h.1M84.2 420.9h.1M90.0 438.7h.1M89.4 435.5h.1M89.7 433.0h.1M94.7 440.8h.1M90.1 437.0h.1M83.0 432.8h.1M92.2 433.9h.1M92.1 420.0h.1M86.0 425.2h.1M86.5 428.0h.1M87.8 430.2h.1M87.1 434.1h.1M85.6 434.1h.1M93.0 432.7h.1M91.7 418.7h.1M90.6 439.2h.1M90.8 428.2h.1M88.6 430.6h.1M84.1 438.3h.1M95.2 443.5h.1M85.7 442.7h.1M87.2 423.2h.1M92.3 422.8h.1M93.5 418.9h.1M82.3 441.6h.1M92.2 433.1h.1M84.3 419.0h.1M91.0 420.0h.1M83.3 419.0h.1M82.9 442.2h.1M89.2 442.4h.1M94.3 439.6h.1M88.3 438.2h.1M85.4 426.0h.1M86.0 420.8h.1M90.2 425.3h.1M88.8 435.5h.1M85.4 438.6h.1M92.8 438.1h.1M91.2 433.9h.1M88.4 436.1h.1M90.3 430.7h.1M87.9 441.2h.1M93.4 421.1h.1M93.7 419.5h.1M86.6 432.5h.1M85.8 417.5h.1M84.4 444.6h.1M89.6 441.1h.1M88.2 440.1h.1M93.8 435.6h.1M83.7 435.5h.1M84.6 420.5h.1M91.4 436.9h.1M87.3 433.8h.1M81.6 446.2h.1M89.7 422.4h.1M87.7 428.2h.1M94.2 434.4h.1M93.1 425.3h.1M86.6 441.2h.1M90.0 425.3h.1M89.1 426.1h.1M90.7 422.8h.1M94.2 431.1h.1M82.4 445.5h.1M89.1 428.8h.1M84.4 423.6h.1M92.0 429.4h.1M91.0 436.1h.1M82.7 421.7h.1M87.5 420.2h.1M93.6 440.1h.1M91.0 421.6h.1M88.7 441.7h.1M92.1 438.2h.1M86.5 438.9h.1M94.6 426.8h.1M86.0 429.5h.1M87.8 444.8h.1M93.2 422.0h.1M87.2 443.3h.1M84.9 422.7h.1M84.5 436.2h.1M88.5 429.4h.1M91.9 441.1h.1M85.4 434.4h.1M86.5 433.5h.1M91.3 438.7h.1M88.6 438.8h.1M95.7 436.4h.1M92.4 432.0h.1M86.7 436.5h.1M87.2 429.5h.1M86.4 438.0h.1M86.1 444.8h.1M92.2 430.1h.1M88.9 436.1h.1M92.1 442.6h.1M86.2 430.9h.1M92.5 440.0h.1M90.3 430.8h.1M94.6 437.3h.1M84.1 431.5h.1M90.3 428.3h.1M92.0 425.5h.1M82.0 423.2h.1M93.1 422.4h.1M90.5 441.1h.1M90.0 438.0h.1M89.5 426.0h.1M94.7 427.2h.1M86.5 421.4h.1M85.5 436.4h.1M94.7 419.6h.1M91.3 431.8h.1M84.7 437.8h.1M88.5 420.9h.1M88.8 429.5h.1M89.5 420.4h.1M84.0 445.4h.1M93.8 433.6h.1M86.8 442.0h.1M85.6 425.6h.1M88.1 439.1h.1M94.0 423.9h.1M82.7 424.6h.1M83.6 442.4h.1M93.0 441.5h.1M89.7 436.5h.1M95.1 421.9h.1M86.3 426.7h.1M94.6 433.6h.1M81.6 433.1h.1M88.0 426.0h.1M89.9 428.9h.1M89.3 436.3h.1M85.5 431.6h.1M88.9 433.6h.1M84.4 427.9h.1M86.2 428.6h.1M88.2 417.7h.1M93.0 441.5h.1M85.6 425.7h.1M92.7 432.3h.1M84.6 428.2h.1M94.7 418.5h.1M87.1 436.8h.1M89.1 420.7h.1M89.7 432.9h.1M84.0 433.2h.1M86.8 438.8h.1M86.6 438.1h.1M87.6 440.1h.1M89.0 432.1h.1M88.8 425.5h.1M88.4 437.9h.1M83.9 435.2h.1M89.8 423.9h.1M93.0 422.5h.1M84.4 437.9h.1M93.3 443.2h.1M86.9 433.3h.1M93.1 424.2h.1M85.0 427.3h.1M85.7 433.5h.1M84.8 434.0h.1M84.4 418.0h.1M91.8 432.9h.1M93.8 433.4h.1M88.5 429.2h.1M88.9 432.6h.1M82.6 443.5h.1M91.0 433.4h.1M85.2 443.4h.1M84.4 438.9h.1M86.1 420.5h.1M86.5 423.0h.1M93.6 421.5h.1M95.3 423.9h.1M82.9 429.1h.1M81.1 419.4h.1M82.8 440.1h.1M87.7 422.2h.1M88.4 436.0h.1M87.5 419.7h.1M93.4 421.8h.1M82.8 434.2h.1M90.3 423.8h.1M83.6 424.9h.1M84.3 442.2h.1M89.8 445.7h.1M88.4 434.7h.1M87.2 440.2h.1M84.0 443.2h.1M85.0 434.7h.1M85.6 440.7h.1" stroke="#55b855" stroke-width="0.7" stroke-opacity="0.55" stroke-linecap="round" filter="url(#bl2)"/>
<path d="M92.6 425.8h.1M86.0 425.0h.1M93.7 441.0h.1M91.2 432.0h.1M93.7 438.2h.1M89.2 426.3h.1M88.1 423.7h.1M85.9 426.5h.1M90.1 423.8h.1M86.6 431.6h.1M86.2 427.7h.1M89.7 427.1h.1M93.8 423.2h.1M88.8 430.5h.1M91.1 422.0h.1M90.2 428.5h.1M91.2 440.2h.1M86.7 441.7h.1M87.5 422.9h.1M88.5 427.3h.1M93.1 432.4h.1M90.2 431.0h.1M89.9 433.3h.1M94.6 428.9h.1M85.9 430.4h.1M84.6 430.4h.1M87.8 424.8h.1M88.7 439.9h.1M91.1 438.1h.1M92.2 424.5h.1M85.3 434.9h.1M92.8 432.4h.1M87.8 435.9h.1M92.4 429.5h.1M86.1 432.3h.1M88.7 432.0h.1M92.5 425.5h.1M91.6 425.9h.1M88.6 430.5h.1M84.8 428.2h.1M93.2 424.7h.1M93.4 430.0h.1M87.8 422.5h.1M84.4 438.4h.1M86.4 429.7h.1M88.6 423.0h.1M90.4 438.3h.1M91.7 439.3h.1M84.0 426.8h.1M89.0 422.6h.1M83.5 432.7h.1M84.9 437.3h.1M91.8 429.8h.1M93.4 437.6h.1M91.2 430.7h.1M93.6 434.5h.1M86.8 430.8h.1M88.6 422.0h.1M93.5 441.4h.1M92.8 428.0h.1M89.2 439.1h.1M91.2 439.0h.1M91.6 429.3h.1M88.0 438.1h.1M84.9 434.4h.1M91.6 441.9h.1M83.3 435.7h.1M88.8 433.0h.1M90.6 426.4h.1M87.6 424.1h.1M89.1 436.1h.1M93.3 434.1h.1M92.4 424.2h.1M89.9 427.9h.1M88.7 424.6h.1M87.7 428.2h.1M85.5 425.1h.1M86.9 425.9h.1M90.1 428.6h.1M88.2 439.1h.1M85.9 435.1h.1M84.2 424.5h.1M87.6 428.8h.1M86.9 439.4h.1M91.6 425.5h.1M90.8 427.6h.1M90.7 441.4h.1M85.7 426.9h.1M85.4 424.2h.1M88.9 429.2h.1M84.7 423.5h.1M89.4 431.4h.1M89.0 436.9h.1M94.6 428.3h.1M84.4 433.2h.1M92.5 438.7h.1M89.8 429.5h.1M87.7 425.0h.1M86.7 428.3h.1M86.8 428.1h.1M86.6 426.1h.1M87.2 439.8h.1M85.1 436.5h.1M86.3 433.7h.1M92.6 434.9h.1M92.4 436.4h.1M89.8 435.8h.1M89.2 430.6h.1M84.9 433.6h.1M90.0 433.9h.1M90.6 437.7h.1M83.2 429.7h.1M87.5 429.8h.1M91.6 436.5h.1M93.5 424.2h.1M88.5 434.8h.1M85.5 435.2h.1M88.5 429.1h.1M88.7 437.5h.1M86.3 436.1h.1M92.5 435.1h.1M85.1 425.8h.1M92.3 437.4h.1M85.7 424.4h.1M88.5 428.7h.1M90.8 439.8h.1M90.4 424.1h.1M88.3 423.1h.1M87.8 441.2h.1M93.5 430.0h.1M93.6 427.7h.1M90.6 438.4h.1M87.1 433.7h.1M89.7 438.8h.1M87.0 433.6h.1M87.8 429.4h.1M91.6 432.4h.1M90.1 429.5h.1M94.0 426.8h.1M88.6 437.4h.1M86.1 437.5h.1M87.9 423.9h.1M90.4 430.6h.1M94.3 439.7h.1M87.8 429.9h.1M87.1 434.2h.1M87.8 437.8h.1M89.0 430.1h.1M89.4 439.1h.1M83.8 428.3h.1M90.6 437.3h.1M85.5 440.4h.1M88.9 438.4h.1M93.4 433.8h.1M93.4 433.4h.1M90.4 422.9h.1M84.3 429.3h.1M85.1 427.6h.1M85.9 423.1h.1M92.2 436.3h.1M88.7 427.0h.1M84.4 427.2h.1M89.2 431.8h.1M91.5 421.9h.1M91.5 440.4h.1M85.3 439.4h.1M88.8 434.9h.1M88.9 439.3h.1M93.7 431.5h.1M93.0 439.9h.1M91.0 436.3h.1M88.0 426.9h.1M91.8 436.3h.1M90.4 427.6h.1M86.5 433.0h.1M90.2 423.8h.1M90.5 423.8h.1M85.4 428.5h.1M93.1 438.8h.1M89.4 432.7h.1M94.5 441.5h.1M88.1 429.1h.1M87.7 438.3h.1M87.9 426.3h.1M93.0 435.9h.1M82.4 423.0h.1M91.2 430.3h.1M93.7 436.8h.1M87.8 440.9h.1M89.8 434.4h.1M93.9 439.6h.1M92.5 424.7h.1M89.7 435.8h.1M85.5 428.7h.1M90.9 429.9h.1M90.3 436.2h.1M86.8 440.0h.1M86.6 429.9h.1M92.0 426.5h.1M86.0 423.6h.1M90.2 434.5h.1M85.8 432.8h.1M94.5 428.4h.1M89.7 424.7h.1M91.0 441.7h.1M88.9 421.7h.1M88.4 425.3h.1M86.4 440.5h.1M87.4 438.7h.1M92.1 427.3h.1M87.6 428.4h.1M90.2 429.0h.1M92.0 434.8h.1M87.2 432.7h.1M85.4 426.0h.1M87.0 433.4h.1M88.9 424.8h.1M88.3 424.1h.1M91.4 422.4h.1M92.8 437.0h.1M91.1 431.6h.1M83.4 423.6h.1M86.1 430.3h.1M88.5 438.5h.1M84.4 438.9h.1M88.0 434.1h.1M88.7 434.3h.1M89.0 438.8h.1M88.2 433.1h.1M90.1 425.4h.1M85.4 426.1h.1M92.4 436.5h.1M92.2 435.0h.1M89.1 432.7h.1M85.5 426.8h.1M89.8 430.7h.1M88.6 437.5h.1M87.8 433.0h.1M86.7 428.2h.1M93.9 434.0h.1M84.5 433.2h.1M88.1 431.1h.1M90.2 423.1h.1M88.0 434.1h.1M92.6 425.1h.1M90.9 433.8h.1M91.1 433.4h.1M86.1 436.0h.1M86.6 425.9h.1M91.0 429.6h.1M91.9 433.1h.1M87.2 431.6h.1M86.0 425.5h.1M86.5 436.4h.1M86.8 434.5h.1M87.6 422.0h.1M86.5 431.2h.1M88.3 436.6h.1M87.5 428.5h.1M89.3 430.7h.1M91.2 429.2h.1M85.6 434.3h.1M89.8 433.2h.1M84.8 433.1h.1M84.6 430.6h.1M92.2 433.9h.1M86.9 425.1h.1M86.2 431.8h.1M88.5 429.0h.1M83.9 422.4h.1M90.9 421.3h.1M84.7 431.4h.1M93.8 423.1h.1M89.4 435.0h.1M92.0 438.8h.1M88.6 428.7h.1M93.1 436.3h.1M84.1 432.0h.1M86.7 436.6h.1M93.6 436.4h.1M90.3 423.9h.1M86.8 429.6h.1M87.8 435.6h.1M92.8 428.5h.1M93.3 435.0h.1M89.7 424.9h.1M89.9 433.9h.1M92.6 421.0h.1M90.3 424.4h.1M88.8 430.0h.1M86.7 434.6h.1M91.5 434.3h.1M90.9 430.4h.1M89.7 437.1h.1M89.5 429.8h.1M86.8 425.0h.1M87.1 426.4h.1M86.7 441.5h.1M88.1 423.2h.1M90.1 437.1h.1M85.5 436.6h.1M86.4 426.4h.1M85.1 424.8h.1M87.9 432.6h.1M84.9 428.1h.1M90.5 421.2h.1M89.2 431.1h.1M83.6 435.9h.1M89.8 431.0h.1M93.3 430.0h.1M91.8 431.2h.1M87.6 434.6h.1M87.7 422.4h.1M91.5 424.0h.1M90.7 432.8h.1M85.0 430.1h.1M87.7 431.2h.1M86.0 427.7h.1M90.4 424.2h.1M90.4 435.9h.1M91.3 438.3h.1M84.9 431.2h.1M94.5 431.0h.1M92.5 429.9h.1M87.3 433.4h.1M85.0 440.5h.1M93.7 436.9h.1M90.1 435.2h.1M88.7 435.8h.1M87.3 434.1h.1M91.9 423.1h.1M90.5 432.3h.1M84.6 423.2h.1M88.2 433.5h.1M87.9 424.3h.1M93.4 422.6h.1M88.1 420.6h.1M84.9 434.0h.1M92.8 436.6h.1M94.0 428.0h.1M93.0 423.9h.1M87.1 427.2h.1M85.2 426.5h.1M94.4 428.8h.1M89.0 438.2h.1M89.3 440.5h.1M92.9 427.3h.1M88.9 422.5h.1M89.3 430.7h.1M94.1 441.0h.1M91.2 436.3h.1M93.8 437.0h.1M92.9 422.8h.1M93.8 426.3h.1M86.7 426.5h.1M89.9 436.3h.1M90.8 430.9h.1M92.9 428.5h.1M90.9 432.2h.1M87.7 434.2h.1M88.0 437.0h.1M91.8 424.1h.1M91.0 439.6h.1M87.8 432.2h.1M91.7 429.3h.1M88.4 438.5h.1M86.1 436.0h.1M93.7 427.3h.1M88.1 425.3h.1M89.8 430.1h.1M90.1 429.5h.1M88.9 431.9h.1M95.1 432.0h.1M91.5 426.4h.1M88.3 439.4h.1M90.2 436.2h.1M91.2 424.3h.1M92.4 433.6h.1M88.9 434.1h.1M83.0 436.3h.1" stroke="#38a838" stroke-width="0.7" stroke-opacity="0.6" stroke-linecap="round" filter="url(#bl2)"/>
<path d="M81.7 450.2h.1M96.9 451.4h.1M88.8 449.6h.1M87.1 448.0h.1M89.4 447.3h.1M90.4 446.0h.1M81.2 446.8h.1M96.9 449.9h.1M95.0 449.2h.1M94.5 446.7h.1M94.3 451.0h.1M93.5 445.1h.1M92.0 450.9h.1M88.9 446.2h.1M81.8 446.0h.1M86.9 444.7h.1M91.1 445.3h.1M92.5 447.4h.1M91.1 450.4h.1M83.5 450.6h.1M83.2 445.2h.1M82.7 450.3h.1M86.9 445.6h.1M82.3 451.0h.1M82.0 450.3h.1M92.3 448.6h.1M81.2 445.0h.1M87.7 447.5h.1M90.8 447.0h.1M83.6 446.8h.1M93.4 448.2h.1M93.2 446.2h.1M86.4 446.0h.1M94.4 447.2h.1M90.9 447.7h.1M82.7 450.0h.1M94.7 447.0h.1M87.4 448.1h.1M81.4 446.8h.1M93.0 444.8h.1M95.7 446.7h.1M86.2 449.1h.1M91.8 445.5h.1M92.5 448.2h.1M88.0 450.6h.1M89.0 449.2h.1M89.0 444.6h.1M81.9 450.9h.1M91.9 448.5h.1M91.3 444.4h.1M88.6 450.9h.1M96.2 449.9h.1M94.0 449.6h.1M85.5 450.4h.1M90.3 447.5h.1M86.3 447.1h.1M85.7 448.6h.1M84.6 450.5h.1M90.0 449.5h.1M83.5 447.6h.1M90.1 444.9h.1M97.6 450.1h.1M91.3 445.7h.1M92.0 450.6h.1M92.4 446.4h.1M96.3 446.2h.1M83.6 449.0h.1M84.1 448.2h.1M87.9 448.7h.1M89.4 448.5h.1M89.7 446.1h.1M87.0 445.8h.1M92.3 445.9h.1M94.1 448.5h.1M93.3 445.9h.1M92.5 444.5h.1M81.3 448.0h.1M94.3 449.7h.1M81.6 446.0h.1M91.9 446.0h.1M83.9 450.0h.1M86.5 446.4h.1M86.0 446.6h.1M84.1 447.2h.1M84.7 450.3h.1M88.8 449.9h.1M82.3 446.7h.1M87.1 450.5h.1M89.4 449.4h.1M84.9 448.7h.1M85.1 447.1h.1M93.3 449.9h.1M87.2 450.7h.1M92.9 446.3h.1M92.5 450.2h.1M91.7 444.9h.1M88.3 449.3h.1M88.6 448.5h.1M88.6 447.1h.1M86.3 449.9h.1M91.3 447.8h.1M89.0 447.7h.1M86.8 446.6h.1M86.2 448.0h.1M90.3 448.6h.1M92.3 448.6h.1M87.2 449.4h.1M90.8 449.9h.1M90.3 451.1h.1M87.3 448.9h.1M90.6 449.2h.1M91.0 450.2h.1M88.1 447.4h.1M88.8 448.4h.1M88.1 446.9h.1M91.3 446.0h.1M87.0 446.2h.1M96.0 446.5h.1M90.6 447.2h.1M85.4 443.9h.1M82.6 446.0h.1M92.4 447.2h.1M92.4 451.3h.1M94.5 448.5h.1M89.6 445.4h.1M94.6 451.0h.1M87.8 446.6h.1M87.6 448.1h.1M88.9 448.3h.1M87.6 445.5h.1M86.7 451.9h.1M94.6 449.3h.1M95.7 445.0h.1M92.8 450.6h.1M85.8 450.7h.1M95.5 445.1h.1M88.9 445.6h.1M87.7 445.9h.1M82.7 445.6h.1M82.7 449.1h.1M86.8 445.3h.1M88.4 444.7h.1M82.5 446.6h.1M88.4 450.0h.1M94.3 448.7h.1M91.6 446.0h.1M82.2 450.5h.1M90.9 446.8h.1M92.0 448.9h.1M95.2 449.7h.1M94.4 446.7h.1M85.2 451.4h.1M91.5 452.3h.1M85.1 450.3h.1M95.6 450.7h.1M86.6 445.9h.1M82.9 445.8h.1M82.0 450.1h.1M94.6 446.3h.1M86.0 445.8h.1M89.2 451.5h.1M81.0 445.3h.1M93.3 445.9h.1M87.1 448.4h.1M90.6 447.6h.1M96.3 450.9h.1M85.3 443.8h.1M91.6 450.5h.1M92.9 447.7h.1M84.1 447.7h.1M85.7 444.3h.1M95.5 450.9h.1M90.6 447.1h.1M86.8 447.2h.1M91.2 444.6h.1M89.0 445.1h.1M81.2 449.8h.1M90.2 453.5h.1M86.1 444.7h.1M86.4 449.7h.1M81.8 446.3h.1M96.0 449.3h.1M93.3 447.6h.1M89.9 450.1h.1M81.5 444.3h.1M81.9 446.7h.1M83.9 450.8h.1M83.7 450.8h.1M84.1 447.3h.1M93.0 451.4h.1M84.3 448.3h.1M95.2 447.6h.1M88.6 451.1h.1M90.1 449.0h.1M83.1 448.8h.1M86.6 450.3h.1M87.6 452.1h.1M86.9 447.0h.1M89.0 447.9h.1M87.1 448.7h.1M84.5 449.3h.1M95.1 446.8h.1M92.1 449.1h.1M88.0 442.7h.1M88.1 447.0h.1M83.1 446.6h.1M95.5 449.6h.1M96.5 451.8h.1M87.9 451.1h.1M88.7 444.8h.1M93.2 447.5h.1M94.5 448.0h.1M82.5 445.8h.1M85.9 450.1h.1M89.2 450.6h.1M93.9 448.7h.1M92.1 446.3h.1M93.3 449.8h.1M86.5 450.8h.1M95.5 446.0h.1M84.1 449.0h.1M86.5 447.1h.1M91.1 450.8h.1M88.4 446.7h.1M89.1 445.6h.1M86.5 450.1h.1M85.2 444.4h.1M92.1 445.2h.1M94.3 445.2h.1M81.8 450.1h.1M94.8 448.1h.1M91.4 444.9h.1M83.6 446.4h.1M83.0 450.8h.1M81.6 445.6h.1M81.9 446.3h.1M86.5 447.1h.1M82.9 447.5h.1M81.8 451.8h.1M83.8 449.6h.1M82.2 449.3h.1M86.1 450.3h.1M83.2 446.2h.1M87.2 450.3h.1M87.9 450.8h.1M84.4 447.4h.1M90.6 445.7h.1M85.7 449.1h.1M89.7 446.7h.1M90.2 450.6h.1M90.4 450.5h.1M85.1 447.7h.1M95.2 445.8h.1M88.9 448.9h.1M90.8 446.7h.1M87.3 448.4h.1M88.4 448.6h.1M94.1 449.4h.1M94.2 448.9h.1M92.3 446.6h.1M91.6 450.8h.1M82.9 449.5h.1M87.0 447.1h.1M84.5 451.1h.1M82.0 450.1h.1M94.4 450.7h.1M92.7 446.0h.1M86.5 448.5h.1M83.4 449.0h.1M88.3 452.0h.1M91.5 449.2h.1M88.2 443.4h.1M88.0 448.4h.1M89.0 448.9h.1M90.0 446.3h.1M93.4 445.9h.1M90.5 451.1h.1M94.2 447.0h.1M85.4 447.5h.1M93.8 449.0h.1M89.6 449.3h.1M93.8 446.7h.1M91.7 449.1h.1M90.3 449.5h.1M83.9 448.5h.1M93.5 448.2h.1M85.1 450.8h.1M91.9 451.6h.1M85.4 448.1h.1M90.6 450.1h.1M82.8 447.6h.1M91.4 444.0h.1M89.2 450.1h.1M95.3 448.7h.1M88.0 448.2h.1M94.2 449.7h.1M82.3 447.4h.1M86.4 452.1h.1M89.9 448.2h.1M95.8 448.6h.1M86.0 446.6h.1M96.5 448.4h.1M95.3 445.8h.1M86.2 450.4h.1M83.2 450.0h.1M92.9 444.0h.1M91.4 448.0h.1M90.2 448.3h.1M94.6 446.9h.1M84.7 445.3h.1M86.4 446.0h.1M90.6 449.3h.1M83.0 449.5h.1M89.8 445.3h.1M94.6 450.0h.1M86.3 449.9h.1M95.2 448.4h.1M83.5 447.4h.1M89.2 446.9h.1M97.0 445.7h.1M81.6 445.9h.1M93.6 447.1h.1M83.7 450.1h.1M88.1 446.8h.1M95.4 447.8h.1M95.1 449.7h.1M86.6 447.0h.1M83.5 448.0h.1M89.6 446.8h.1M85.6 451.1h.1M89.8 450.7h.1M87.4 445.1h.1M90.7 445.1h.1M83.3 450.2h.1M84.7 445.4h.1M91.9 446.9h.1M91.0 451.4h.1M86.5 446.2h.1M85.3 449.0h.1M89.4 449.4h.1M93.3 445.2h.1M91.7 448.2h.1M88.3 451.2h.1M91.7 450.5h.1M90.6 444.6h.1M94.8 445.8h.1M95.6 444.6h.1M81.4 449.8h.1M86.1 448.4h.1M81.9 444.1h.1M92.9 447.8h.1M82.3 445.3h.1M86.0 445.2h.1M91.9 449.1h.1M90.5 445.7h.1M83.3 446.6h.1M92.7 444.9h.1M83.1 448.2h.1M86.4 451.5h.1M88.3 451.2h.1M88.8 450.4h.1M87.7 445.9h.1M89.7 448.8h.1M80.9 450.2h.1M87.2 450.0h.1M88.7 448.8h.1M88.5 447.9h.1M82.5 451.1h.1M84.3 446.1h.1M81.4 445.9h.1M90.0 448.6h.1M87.8 448.0h.1M82.8 446.2h.1M88.7 442.8h.1M92.8 447.8h.1M91.8 444.0h.1M90.2 446.4h.1M86.4 443.5h.1M93.5 446.8h.1M81.0 449.2h.1" stroke="#7a6ac0" stroke-width="0.7" stroke-opacity="0.5" stroke-linecap="round" filter="url(#bl2)"/>
<path d="M95.9 449.9h.1M95.4 451.7h.1M93.1 449.6h.1M90.8 450.2h.1M95.0 450.1h.1M82.3 447.7h.1M89.3 449.8h.1M90.9 450.5h.1M93.6 449.3h.1M90.1 449.3h.1M89.6 449.6h.1M90.5 450.5h.1M95.0 450.7h.1M86.4 448.8h.1M93.9 449.9h.1M92.5 448.3h.1M81.6 448.9h.1M94.0 448.9h.1M95.4 450.4h.1M83.8 449.8h.1M90.4 450.4h.1M83.4 450.4h.1M85.5 449.7h.1M89.6 451.2h.1M89.7 449.7h.1M92.0 450.1h.1M86.2 449.0h.1M83.0 449.1h.1M90.0 449.3h.1M88.2 448.7h.1M87.7 448.3h.1M96.2 452.3h.1M87.7 449.6h.1M92.1 448.5h.1M95.2 450.7h.1M85.7 448.5h.1M87.6 448.0h.1M89.4 451.4h.1M85.5 451.4h.1M83.3 449.7h.1M84.8 448.0h.1M87.4 448.9h.1M82.7 447.8h.1M85.1 449.0h.1M91.8 452.0h.1M92.2 449.1h.1M95.0 448.3h.1M84.1 449.9h.1M92.7 450.7h.1M90.4 450.9h.1M86.0 448.7h.1M93.0 449.2h.1M81.3 449.1h.1M93.7 448.7h.1M87.5 449.0h.1M82.5 449.4h.1M83.2 450.4h.1M89.7 448.9h.1M83.0 448.1h.1M83.3 450.9h.1M88.1 449.8h.1M91.9 450.3h.1M90.3 450.7h.1M92.6 452.0h.1M91.6 448.5h.1M87.6 449.3h.1M91.0 449.4h.1M83.3 450.1h.1M91.0 449.7h.1M91.8 450.6h.1M85.6 448.6h.1M92.1 450.4h.1M94.6 449.5h.1M87.6 449.1h.1M83.7 448.8h.1M90.3 447.9h.1M90.9 449.0h.1M87.2 450.2h.1M90.2 451.3h.1M83.6 449.0h.1M89.0 449.9h.1M91.6 449.7h.1M86.7 448.3h.1M87.1 449.7h.1M87.9 449.1h.1M91.4 449.2h.1M82.0 449.9h.1M84.6 450.4h.1M88.1 451.3h.1M89.2 449.1h.1M82.7 448.9h.1M83.7 448.7h.1M90.7 451.2h.1M90.5 451.5h.1M88.5 451.5h.1M83.0 449.6h.1M96.0 451.1h.1M86.3 450.0h.1M86.4 448.4h.1M84.9 450.0h.1M86.4 448.6h.1M92.6 451.7h.1M83.7 449.8h.1M82.9 449.1h.1M91.7 450.0h.1M95.5 451.2h.1M86.5 450.2h.1M85.1 448.0h.1M84.4 447.9h.1M94.2 449.4h.1M87.6 448.1h.1M90.8 450.2h.1M94.3 448.1h.1M88.4 451.3h.1M91.8 449.3h.1M84.8 449.9h.1M86.3 450.8h.1M96.0 450.3h.1M91.1 450.6h.1M89.0 447.7h.1M86.5 449.6h.1M93.6 450.0h.1M88.5 448.9h.1M91.5 448.9h.1M92.4 448.3h.1M93.2 450.4h.1M84.2 449.9h.1M94.8 451.0h.1M81.6 449.6h.1M83.4 449.7h.1M89.2 449.5h.1M88.8 448.9h.1M88.4 449.5h.1M86.1 450.4h.1M83.4 448.1h.1M84.1 449.7h.1M84.5 448.8h.1M92.4 449.9h.1M83.7 448.9h.1M86.9 450.3h.1M93.6 449.5h.1M87.1 449.2h.1M84.7 448.9h.1M88.9 448.8h.1M93.0 450.2h.1M82.8 449.1h.1M92.2 447.9h.1M89.1 450.0h.1M85.8 449.3h.1M90.1 448.1h.1M91.6 449.8h.1M89.7 449.8h.1M85.5 450.6h.1M93.5 448.6h.1M90.9 449.4h.1M94.7 449.4h.1M89.7 450.0h.1M85.4 447.8h.1M87.4 450.9h.1M84.7 448.0h.1M95.7 449.5h.1M92.2 449.2h.1M94.1 448.5h.1M92.3 449.7h.1M94.8 450.5h.1M95.6 450.0h.1M93.2 449.8h.1M90.2 448.4h.1M89.9 450.1h.1M93.3 450.6h.1M93.8 448.3h.1M91.5 451.3h.1M93.0 450.4h.1M86.4 448.8h.1M85.3 450.4h.1M89.8 449.4h.1M87.9 451.1h.1M95.9 448.3h.1M92.7 449.2h.1M88.3 451.9h.1M84.8 451.1h.1M92.2 448.9h.1M87.7 449.1h.1M83.1 448.3h.1M95.0 450.0h.1M84.8 450.9h.1M92.2 448.2h.1M94.6 450.7h.1M85.5 449.6h.1M86.0 450.1h.1M94.3 450.9h.1M92.2 448.3h.1M92.1 451.4h.1M82.8 450.4h.1M86.1 448.4h.1M92.4 448.8h.1M91.7 448.9h.1M87.7 449.6h.1M89.7 450.2h.1M83.4 451.4h.1M90.3 448.0h.1M85.5 449.6h.1M90.9 450.2h.1M93.5 447.5h.1M86.9 448.6h.1M82.9 451.4h.1M88.9 450.9h.1M90.8 449.1h.1M84.5 449.2h.1M94.3 451.2h.1M94.6 448.5h.1M94.1 450.6h.1M84.7 449.4h.1M90.2 450.1h.1M88.2 450.1h.1M87.4 449.7h.1M94.5 451.6h.1M92.6 449.3h.1M90.6 449.5h.1M84.9 449.7h.1M93.5 448.4h.1M93.5 452.1h.1M89.5 450.1h.1M88.2 449.6h.1M88.3 452.7h.1M85.5 449.1h.1M92.5 450.1h.1M95.1 448.5h.1M89.2 450.4h.1M90.6 449.1h.1M89.2 452.2h.1M95.3 449.7h.1M84.2 450.3h.1M92.3 448.0h.1M94.5 448.5h.1M88.7 452.2h.1M84.4 448.0h.1M86.7 449.0h.1M92.5 449.7h.1M94.6 448.0h.1M89.0 450.5h.1M90.4 450.1h.1M91.4 449.4h.1M93.4 448.6h.1M93.0 450.4h.1M91.6 449.4h.1M89.2 448.9h.1M96.5 450.8h.1M90.3 448.1h.1M89.5 450.2h.1M84.7 449.4h.1M82.9 448.4h.1M93.4 449.6h.1M88.5 450.2h.1M88.4 450.8h.1M95.0 449.7h.1M84.7 448.3h.1M89.2 452.1h.1M92.1 450.1h.1M93.2 450.7h.1M88.5 449.7h.1M82.9 450.7h.1M94.6 450.3h.1M92.5 450.7h.1M93.0 449.1h.1M82.0 447.4h.1M92.0 449.9h.1M83.7 452.0h.1M90.1 448.7h.1M88.4 450.6h.1M90.5 448.6h.1M87.7 448.7h.1M84.5 450.4h.1M86.0 449.5h.1M89.1 450.7h.1M93.4 449.8h.1M88.4 448.5h.1M84.7 450.2h.1M83.8 449.4h.1M88.6 451.3h.1M93.5 448.7h.1M83.2 451.5h.1M88.9 450.6h.1M89.1 449.6h.1M86.2 451.7h.1M88.1 448.4h.1M93.2 451.2h.1M95.1 448.6h.1M89.6 449.3h.1M83.3 448.2h.1M85.1 447.4h.1M92.4 449.6h.1M93.9 449.4h.1M90.6 451.6h.1M87.4 450.3h.1M87.1 451.9h.1M83.4 451.6h.1M93.3 449.7h.1M92.9 449.5h.1M96.3 450.5h.1" stroke="#2a1a90" stroke-width="0.7" stroke-opacity="0.6" stroke-linecap="round" filter="url(#bl2)"/>
<rect x="52.5" y="395.5" width="72.0" height="72.0" fill="none" stroke="#444" stroke-width="1"/>
<line x1="49.0" y1="402.3" x2="52.5" y2="402.3" stroke="#333" stroke-width="0.9"/>
<text x="46" y="405.0" font-size="7.6" text-anchor="end" fill="#2a2a2a">10<tspan font-size="4.6" dy="-3.2">5</tspan></text>
<line x1="49.0" y1="420.2" x2="52.5" y2="420.2" stroke="#333" stroke-width="0.9"/>
<text x="46" y="422.9" font-size="7.6" text-anchor="end" fill="#2a2a2a">10<tspan font-size="4.6" dy="-3.2">4</tspan></text>
<line x1="49.0" y1="439.6" x2="52.5" y2="439.6" stroke="#333" stroke-width="0.9"/>
<text x="46" y="442.3" font-size="7.6" text-anchor="end" fill="#2a2a2a">10<tspan font-size="4.6" dy="-3.2">3</tspan></text>
<line x1="49.0" y1="451.5" x2="52.5" y2="451.5" stroke="#333" stroke-width="0.9"/>
<text x="46" y="454.2" font-size="7.6" text-anchor="end" fill="#2a2a2a">0</text>
<line x1="49.0" y1="463" x2="52.5" y2="463" stroke="#333" stroke-width="0.9"/>
<text x="46" y="465.7" font-size="7.6" text-anchor="end" fill="#2a2a2a">−10<tspan font-size="4.6" dy="-3.2">3</tspan></text>
<line x1="50.5" y1="414.81" x2="52.5" y2="414.81" stroke="#555" stroke-width="0.6"/>
<line x1="50.5" y1="411.66" x2="52.5" y2="411.66" stroke="#555" stroke-width="0.6"/>
<line x1="50.5" y1="409.42" x2="52.5" y2="409.42" stroke="#555" stroke-width="0.6"/>
<line x1="50.5" y1="407.69" x2="52.5" y2="407.69" stroke="#555" stroke-width="0.6"/>
<line x1="50.5" y1="406.27" x2="52.5" y2="406.27" stroke="#555" stroke-width="0.6"/>
<line x1="50.5" y1="405.07" x2="52.5" y2="405.07" stroke="#555" stroke-width="0.6"/>
<line x1="50.5" y1="404.03" x2="52.5" y2="404.03" stroke="#555" stroke-width="0.6"/>
<line x1="50.5" y1="403.12" x2="52.5" y2="403.12" stroke="#555" stroke-width="0.6"/>
<line x1="50.5" y1="433.76" x2="52.5" y2="433.76" stroke="#555" stroke-width="0.6"/>
<line x1="50.5" y1="430.34" x2="52.5" y2="430.34" stroke="#555" stroke-width="0.6"/>
<line x1="50.5" y1="427.92" x2="52.5" y2="427.92" stroke="#555" stroke-width="0.6"/>
<line x1="50.5" y1="426.04" x2="52.5" y2="426.04" stroke="#555" stroke-width="0.6"/>
<line x1="50.5" y1="424.50" x2="52.5" y2="424.50" stroke="#555" stroke-width="0.6"/>
<line x1="50.5" y1="423.21" x2="52.5" y2="423.21" stroke="#555" stroke-width="0.6"/>
<line x1="50.5" y1="422.08" x2="52.5" y2="422.08" stroke="#555" stroke-width="0.6"/>
<line x1="50.5" y1="421.09" x2="52.5" y2="421.09" stroke="#555" stroke-width="0.6"/>
<line x1="50.5" y1="441.98" x2="52.5" y2="441.98" stroke="#555" stroke-width="0.6"/>
<line x1="50.5" y1="444.36" x2="52.5" y2="444.36" stroke="#555" stroke-width="0.6"/>
<line x1="50.5" y1="446.74" x2="52.5" y2="446.74" stroke="#555" stroke-width="0.6"/>
<line x1="50.5" y1="449.12" x2="52.5" y2="449.12" stroke="#555" stroke-width="0.6"/>
<line x1="54.8" y1="467.5" x2="54.8" y2="471.0" stroke="#333" stroke-width="0.9"/>
<text x="54.599999999999994" y="481.0" font-size="7.6" text-anchor="middle" fill="#2a2a2a">−10<tspan font-size="4.6" dy="-3.2">3</tspan></text>
<line x1="71.7" y1="467.5" x2="71.7" y2="471.0" stroke="#333" stroke-width="0.9"/>
<text x="71.7" y="481.0" font-size="7.6" text-anchor="middle" fill="#2a2a2a">0</text>
<line x1="90.5" y1="467.5" x2="90.5" y2="471.0" stroke="#333" stroke-width="0.9"/>
<text x="90.3" y="481.0" font-size="7.6" text-anchor="middle" fill="#2a2a2a">10<tspan font-size="4.6" dy="-3.2">3</tspan></text>
<line x1="105" y1="467.5" x2="105" y2="471.0" stroke="#333" stroke-width="0.9"/>
<text x="104.8" y="481.0" font-size="7.6" text-anchor="middle" fill="#2a2a2a">10<tspan font-size="4.6" dy="-3.2">4</tspan></text>
<line x1="119.3" y1="467.5" x2="119.3" y2="471.0" stroke="#333" stroke-width="0.9"/>
<text x="119.1" y="481.0" font-size="7.6" text-anchor="middle" fill="#2a2a2a">10<tspan font-size="4.6" dy="-3.2">5</tspan></text>
<line x1="94.86" y1="467.5" x2="94.86" y2="469.5" stroke="#777" stroke-width="0.5"/>
<line x1="97.42" y1="467.5" x2="97.42" y2="469.5" stroke="#777" stroke-width="0.5"/>
<line x1="99.23" y1="467.5" x2="99.23" y2="469.5" stroke="#777" stroke-width="0.5"/>
<line x1="100.64" y1="467.5" x2="100.64" y2="469.5" stroke="#777" stroke-width="0.5"/>
<line x1="101.78" y1="467.5" x2="101.78" y2="469.5" stroke="#777" stroke-width="0.5"/>
<line x1="102.75" y1="467.5" x2="102.75" y2="469.5" stroke="#777" stroke-width="0.5"/>
<line x1="103.59" y1="467.5" x2="103.59" y2="469.5" stroke="#777" stroke-width="0.5"/>
<line x1="104.34" y1="467.5" x2="104.34" y2="469.5" stroke="#777" stroke-width="0.5"/>
<line x1="109.30" y1="467.5" x2="109.30" y2="469.5" stroke="#777" stroke-width="0.5"/>
<line x1="111.82" y1="467.5" x2="111.82" y2="469.5" stroke="#777" stroke-width="0.5"/>
<line x1="113.61" y1="467.5" x2="113.61" y2="469.5" stroke="#777" stroke-width="0.5"/>
<line x1="115.00" y1="467.5" x2="115.00" y2="469.5" stroke="#777" stroke-width="0.5"/>
<line x1="116.13" y1="467.5" x2="116.13" y2="469.5" stroke="#777" stroke-width="0.5"/>
<line x1="117.08" y1="467.5" x2="117.08" y2="469.5" stroke="#777" stroke-width="0.5"/>
<line x1="117.91" y1="467.5" x2="117.91" y2="469.5" stroke="#777" stroke-width="0.5"/>
<line x1="118.65" y1="467.5" x2="118.65" y2="469.5" stroke="#777" stroke-width="0.5"/>
<rect x="49.5" y="449.7" width="2.5" height="3.4" fill="#111"/>
<rect x="68.7" y="468.1" width="5" height="1.8" fill="#111"/>
<line x1="111" y1="421.8" x2="131" y2="421.8" stroke="#111" stroke-width="1.15"/>
<path d="M129.5 418.3 L137.5 421.8 L129.5 425.3 Z" fill="#111"/>
<path d="M24.6 461.7 V485.8 H54.5" fill="none" stroke="#111" stroke-width="1.15"/>
<path d="M21.6 463.7 L24.6 457.7 L27.6 463.7 Z" fill="#111"/>
<path d="M52.5 482.8 L58.5 485.8 L52.5 488.8 Z" fill="#111"/>
<text x="19" y="483.2" font-size="9.3" fill="#2a2a2a" transform="rotate(-90 19 483.2)">CD57</text>
<text x="27.7" y="497" font-size="9.3" fill="#2a2a2a">FcεR1<tspan font-size="85%">γ</tspan></text>
<line x1="178" y1="289.5" x2="512" y2="289.5" stroke="#6a6a6a" stroke-width="1"/>
<text x="345.6" y="283.4" font-size="11" text-anchor="middle" fill="#222" stroke="#222" stroke-width="0.15">NKG2C<tspan font-size="7.2" dy="-3.8">+</tspan><tspan dy="3.8">2A</tspan><tspan font-size="7.2" dy="-3.8">−</tspan><tspan dy="3.8"> - CMV reactivation</tspan></text>
<line x1="200.4" y1="301.0" x2="200.4" y2="427.1" stroke="#222" stroke-width="1.3"/>
<line x1="199.8" y1="426.5" x2="322.5" y2="426.5" stroke="#222" stroke-width="1.3"/>
<line x1="197.1" y1="426.50" x2="200.4" y2="426.50" stroke="#222" stroke-width="1"/>
<text x="192.8" y="429.40" font-size="9.2" text-anchor="end" fill="#2a2a2a" stroke="#2a2a2a" stroke-width="0.12">0</text>
<line x1="197.1" y1="411.23" x2="200.4" y2="411.23" stroke="#222" stroke-width="1"/>
<text x="192.8" y="414.12" font-size="9.2" text-anchor="end" fill="#2a2a2a" stroke="#2a2a2a" stroke-width="0.12">10</text>
<line x1="197.1" y1="395.95" x2="200.4" y2="395.95" stroke="#222" stroke-width="1"/>
<text x="192.8" y="398.85" font-size="9.2" text-anchor="end" fill="#2a2a2a" stroke="#2a2a2a" stroke-width="0.12">20</text>
<line x1="197.1" y1="380.68" x2="200.4" y2="380.68" stroke="#222" stroke-width="1"/>
<text x="192.8" y="383.57" font-size="9.2" text-anchor="end" fill="#2a2a2a" stroke="#2a2a2a" stroke-width="0.12">30</text>
<line x1="197.1" y1="365.40" x2="200.4" y2="365.40" stroke="#222" stroke-width="1"/>
<text x="192.8" y="368.30" font-size="9.2" text-anchor="end" fill="#2a2a2a" stroke="#2a2a2a" stroke-width="0.12">40</text>
<line x1="197.1" y1="350.12" x2="200.4" y2="350.12" stroke="#222" stroke-width="1"/>
<text x="192.8" y="353.02" font-size="9.2" text-anchor="end" fill="#2a2a2a" stroke="#2a2a2a" stroke-width="0.12">50</text>
<line x1="197.1" y1="334.85" x2="200.4" y2="334.85" stroke="#222" stroke-width="1"/>
<text x="192.8" y="337.75" font-size="9.2" text-anchor="end" fill="#2a2a2a" stroke="#2a2a2a" stroke-width="0.12">60</text>
<line x1="197.1" y1="319.57" x2="200.4" y2="319.57" stroke="#222" stroke-width="1"/>
<text x="192.8" y="322.47" font-size="9.2" text-anchor="end" fill="#2a2a2a" stroke="#2a2a2a" stroke-width="0.12">70</text>
<line x1="197.1" y1="304.30" x2="200.4" y2="304.30" stroke="#222" stroke-width="1"/>
<text x="192.8" y="307.20" font-size="9.2" text-anchor="end" fill="#2a2a2a" stroke="#2a2a2a" stroke-width="0.12">80</text>
<line x1="214.25" y1="426.5" x2="214.25" y2="429.7" stroke="#222" stroke-width="1"/>
<text x="216.65" y="437.70" font-size="8.9" text-anchor="end" fill="#2a2a2a" stroke="#2a2a2a" stroke-width="0.12" transform="rotate(-45 216.65 437.70)">No target</text>
<line x1="245.85" y1="426.5" x2="245.85" y2="429.7" stroke="#222" stroke-width="1"/>
<text x="248.25" y="437.70" font-size="8.9" text-anchor="end" fill="#2a2a2a" stroke="#2a2a2a" stroke-width="0.12" transform="rotate(-45 248.25 437.70)">BE(2)N</text>
<line x1="277.45" y1="426.5" x2="277.45" y2="429.7" stroke="#222" stroke-width="1"/>
<text x="279.85" y="437.70" font-size="8.9" text-anchor="end" fill="#2a2a2a" stroke="#2a2a2a" stroke-width="0.12" transform="rotate(-45 279.85 437.70)">BE(2)N + 3F8</text>
<line x1="309.05" y1="426.5" x2="309.05" y2="429.7" stroke="#222" stroke-width="1"/>
<text x="311.45" y="437.70" font-size="8.9" text-anchor="end" fill="#2a2a2a" stroke="#2a2a2a" stroke-width="0.12" transform="rotate(-45 311.45 437.70)">K562</text>
<text x="0" y="0" font-size="11.5" text-anchor="middle" fill="#2a2a2a" stroke="#2a2a2a" stroke-width="0.35" transform="translate(175.8 364.0) rotate(-90) scale(0.605 1)">% CD107a</text>
<line x1="208.25" y1="421.15" x2="220.25" y2="421.92" stroke="#543" stroke-width="1.1" stroke-dasharray="1.1 1.1"/>
<line x1="208.25" y1="424.21" x2="220.25" y2="424.21" stroke="#543" stroke-width="1.1" stroke-dasharray="1.1 1.1"/>
<line x1="208.25" y1="424.21" x2="220.25" y2="425.74" stroke="#543" stroke-width="1.1" stroke-dasharray="1.1 1.1"/>
<rect x="205.9" y="418.65" width="4.7" height="5" fill="#45a23f"/>
<rect x="205.9" y="421.71" width="4.7" height="5" fill="#45a23f"/>
<path d="M220.25 418.92 L222.65 424.12 L217.85 424.12 Z" fill="#b21832"/>
<path d="M220.25 421.21 L222.65 426.41 L217.85 426.41 Z" fill="#b21832"/>
<path d="M220.25 422.74 L222.65 427.94 L217.85 427.94 Z" fill="#b21832"/>
<line x1="239.85" y1="414.28" x2="251.85" y2="418.86" stroke="#543" stroke-width="1.1" stroke-dasharray="1.1 1.1"/>
<line x1="239.85" y1="419.63" x2="251.85" y2="421.92" stroke="#543" stroke-width="1.1" stroke-dasharray="1.1 1.1"/>
<rect x="237.5" y="411.78" width="4.7" height="5" fill="#45a23f"/>
<rect x="237.5" y="417.13" width="4.7" height="5" fill="#45a23f"/>
<path d="M251.85 415.86 L254.25 421.06 L249.45 421.06 Z" fill="#b21832"/>
<path d="M251.85 418.92 L254.25 424.12 L249.45 424.12 Z" fill="#b21832"/>
<line x1="271.45" y1="318.81" x2="283.45" y2="367.69" stroke="#543" stroke-width="1.1" stroke-dasharray="1.1 1.1"/>
<line x1="271.45" y1="340.96" x2="283.45" y2="351.65" stroke="#543" stroke-width="1.1" stroke-dasharray="1.1 1.1"/>
<line x1="271.45" y1="363.87" x2="283.45" y2="373.04" stroke="#543" stroke-width="1.1" stroke-dasharray="1.1 1.1"/>
<line x1="271.45" y1="366.93" x2="283.45" y2="379.91" stroke="#543" stroke-width="1.1" stroke-dasharray="1.1 1.1"/>
<line x1="271.45" y1="369.22" x2="283.45" y2="379.91" stroke="#543" stroke-width="1.1" stroke-dasharray="1.1 1.1"/>
<rect x="269.09999999999997" y="316.31" width="4.7" height="5" fill="#45a23f"/>
<rect x="269.09999999999997" y="338.46" width="4.7" height="5" fill="#45a23f"/>
<rect x="269.09999999999997" y="361.37" width="4.7" height="5" fill="#45a23f"/>
<rect x="269.09999999999997" y="364.43" width="4.7" height="5" fill="#45a23f"/>
<rect x="269.09999999999997" y="366.72" width="4.7" height="5" fill="#45a23f"/>
<path d="M283.45 348.65 L285.84999999999997 353.85 L281.05 353.85 Z" fill="#b21832"/>
<path d="M283.45 364.69 L285.84999999999997 369.89 L281.05 369.89 Z" fill="#b21832"/>
<path d="M283.45 370.04 L285.84999999999997 375.24 L281.05 375.24 Z" fill="#b21832"/>
<path d="M283.45 376.91 L285.84999999999997 382.11 L281.05 382.11 Z" fill="#b21832"/>
<line x1="303.05" y1="347.53" x2="315.05" y2="383.73" stroke="#543" stroke-width="1.1" stroke-dasharray="1.1 1.1"/>
<line x1="303.05" y1="356.24" x2="315.05" y2="390.76" stroke="#543" stroke-width="1.1" stroke-dasharray="1.1 1.1"/>
<line x1="303.05" y1="363.87" x2="315.05" y2="398.39" stroke="#543" stroke-width="1.1" stroke-dasharray="1.1 1.1"/>
<line x1="303.05" y1="396.71" x2="315.05" y2="407.41" stroke="#543" stroke-width="1.1" stroke-dasharray="1.1 1.1"/>
<rect x="300.7" y="345.03" width="4.7" height="5" fill="#45a23f"/>
<rect x="300.7" y="353.74" width="4.7" height="5" fill="#45a23f"/>
<rect x="300.7" y="361.37" width="4.7" height="5" fill="#45a23f"/>
<rect x="300.7" y="394.21" width="4.7" height="5" fill="#45a23f"/>
<path d="M315.05 380.73 L317.45 385.93 L312.65000000000003 385.93 Z" fill="#b21832"/>
<path d="M315.05 387.76 L317.45 392.96 L312.65000000000003 392.96 Z" fill="#b21832"/>
<path d="M315.05 395.39 L317.45 400.59 L312.65000000000003 400.59 Z" fill="#b21832"/>
<path d="M315.05 404.41 L317.45 409.61 L312.65000000000003 409.61 Z" fill="#b21832"/>
<path d="M268.5 303 V299 H285.5 V303" fill="none" stroke="#333" stroke-width="1.3"/>
<text x="277.0" y="298.7" font-size="8.5" text-anchor="middle" fill="#333">**</text>
<path d="M304.6 303 V299 H321.9 V303" fill="none" stroke="#333" stroke-width="1.3"/>
<text x="313.25" y="298.7" font-size="8.5" text-anchor="middle" fill="#333">***</text>
<line x1="384" y1="301.0" x2="384" y2="427.1" stroke="#222" stroke-width="1.3"/>
<line x1="383.4" y1="426.5" x2="505.5" y2="426.5" stroke="#222" stroke-width="1.3"/>
<line x1="380.7" y1="426.50" x2="384" y2="426.50" stroke="#222" stroke-width="1"/>
<text x="377.0" y="429.40" font-size="9.2" text-anchor="end" fill="#2a2a2a" stroke="#2a2a2a" stroke-width="0.12">0</text>
<line x1="380.7" y1="411.23" x2="384" y2="411.23" stroke="#222" stroke-width="1"/>
<text x="377.0" y="414.12" font-size="9.2" text-anchor="end" fill="#2a2a2a" stroke="#2a2a2a" stroke-width="0.12">10</text>
<line x1="380.7" y1="395.95" x2="384" y2="395.95" stroke="#222" stroke-width="1"/>
<text x="377.0" y="398.85" font-size="9.2" text-anchor="end" fill="#2a2a2a" stroke="#2a2a2a" stroke-width="0.12">20</text>
<line x1="380.7" y1="380.68" x2="384" y2="380.68" stroke="#222" stroke-width="1"/>
<text x="377.0" y="383.57" font-size="9.2" text-anchor="end" fill="#2a2a2a" stroke="#2a2a2a" stroke-width="0.12">30</text>
<line x1="380.7" y1="365.40" x2="384" y2="365.40" stroke="#222" stroke-width="1"/>
<text x="377.0" y="368.30" font-size="9.2" text-anchor="end" fill="#2a2a2a" stroke="#2a2a2a" stroke-width="0.12">40</text>
<line x1="380.7" y1="350.12" x2="384" y2="350.12" stroke="#222" stroke-width="1"/>
<text x="377.0" y="353.02" font-size="9.2" text-anchor="end" fill="#2a2a2a" stroke="#2a2a2a" stroke-width="0.12">50</text>
<line x1="380.7" y1="334.85" x2="384" y2="334.85" stroke="#222" stroke-width="1"/>
<text x="377.0" y="337.75" font-size="9.2" text-anchor="end" fill="#2a2a2a" stroke="#2a2a2a" stroke-width="0.12">60</text>
<line x1="380.7" y1="319.57" x2="384" y2="319.57" stroke="#222" stroke-width="1"/>
<text x="377.0" y="322.47" font-size="9.2" text-anchor="end" fill="#2a2a2a" stroke="#2a2a2a" stroke-width="0.12">70</text>
<line x1="380.7" y1="304.30" x2="384" y2="304.30" stroke="#222" stroke-width="1"/>
<text x="377.0" y="307.20" font-size="9.2" text-anchor="end" fill="#2a2a2a" stroke="#2a2a2a" stroke-width="0.12">80</text>
<line x1="397.85" y1="426.5" x2="397.85" y2="429.7" stroke="#222" stroke-width="1"/>
<text x="400.25" y="437.70" font-size="8.9" text-anchor="end" fill="#2a2a2a" stroke="#2a2a2a" stroke-width="0.12" transform="rotate(-45 400.25 437.70)">No target</text>
<line x1="429.45" y1="426.5" x2="429.45" y2="429.7" stroke="#222" stroke-width="1"/>
<text x="431.85" y="437.70" font-size="8.9" text-anchor="end" fill="#2a2a2a" stroke="#2a2a2a" stroke-width="0.12" transform="rotate(-45 431.85 437.70)">BE(2)N</text>
<line x1="461.05" y1="426.5" x2="461.05" y2="429.7" stroke="#222" stroke-width="1"/>
<text x="463.45" y="437.70" font-size="8.9" text-anchor="end" fill="#2a2a2a" stroke="#2a2a2a" stroke-width="0.12" transform="rotate(-45 463.45 437.70)">BE(2)N + 3F8</text>
<line x1="492.65" y1="426.5" x2="492.65" y2="429.7" stroke="#222" stroke-width="1"/>
<text x="495.05" y="437.70" font-size="8.9" text-anchor="end" fill="#2a2a2a" stroke="#2a2a2a" stroke-width="0.12" transform="rotate(-45 495.05 437.70)">K562</text>
<text x="0" y="0" font-size="11.5" text-anchor="middle" fill="#2a2a2a" stroke="#2a2a2a" stroke-width="0.35" transform="translate(360.0 364.0) rotate(-90) scale(0.67 1)">% IFN-γ</text>
<line x1="391.85" y1="423.44" x2="403.85" y2="424.21" stroke="#543" stroke-width="1.1" stroke-dasharray="1.1 1.1"/>
<line x1="391.85" y1="425.28" x2="403.85" y2="425.58" stroke="#543" stroke-width="1.1" stroke-dasharray="1.1 1.1"/>
<rect x="389.5" y="420.94" width="4.7" height="5" fill="#45a23f"/>
<rect x="389.5" y="422.78" width="4.7" height="5" fill="#45a23f"/>
<path d="M403.85 421.21 L406.25 426.41 L401.45000000000005 426.41 Z" fill="#b21832"/>
<path d="M403.85 422.58 L406.25 427.78 L401.45000000000005 427.78 Z" fill="#b21832"/>
<line x1="423.45000000000005" y1="421.92" x2="435.45000000000005" y2="423.44" stroke="#543" stroke-width="1.1" stroke-dasharray="1.1 1.1"/>
<line x1="423.45000000000005" y1="424.97" x2="435.45000000000005" y2="424.97" stroke="#543" stroke-width="1.1" stroke-dasharray="1.1 1.1"/>
<rect x="421.1" y="419.42" width="4.7" height="5" fill="#45a23f"/>
<rect x="421.1" y="422.47" width="4.7" height="5" fill="#45a23f"/>
<path d="M435.45000000000005 420.44 L437.85 425.64 L433.05000000000007 425.64 Z" fill="#b21832"/>
<path d="M435.45000000000005 421.97 L437.85 427.17 L433.05000000000007 427.17 Z" fill="#b21832"/>
<line x1="455.05" y1="338.67" x2="467.05" y2="347.07" stroke="#543" stroke-width="1.1" stroke-dasharray="1.1 1.1"/>
<line x1="455.05" y1="340.96" x2="467.05" y2="362.96" stroke="#543" stroke-width="1.1" stroke-dasharray="1.1 1.1"/>
<line x1="455.05" y1="370.44" x2="467.05" y2="369.52" stroke="#543" stroke-width="1.1" stroke-dasharray="1.1 1.1"/>
<line x1="455.05" y1="377.31" x2="467.05" y2="377.31" stroke="#543" stroke-width="1.1" stroke-dasharray="1.1 1.1"/>
<rect x="452.7" y="336.17" width="4.7" height="5" fill="#45a23f"/>
<rect x="452.7" y="338.46" width="4.7" height="5" fill="#45a23f"/>
<rect x="452.7" y="367.94" width="4.7" height="5" fill="#45a23f"/>
<rect x="452.7" y="374.81" width="4.7" height="5" fill="#45a23f"/>
<path d="M467.05 344.07 L469.45 349.27 L464.65000000000003 349.27 Z" fill="#b21832"/>
<path d="M467.05 359.96 L469.45 365.16 L464.65000000000003 365.16 Z" fill="#b21832"/>
<path d="M467.05 366.52 L469.45 371.72 L464.65000000000003 371.72 Z" fill="#b21832"/>
<path d="M467.05 374.31 L469.45 379.51 L464.65000000000003 379.51 Z" fill="#b21832"/>
<line x1="486.65000000000003" y1="384.34" x2="498.65000000000003" y2="399.16" stroke="#543" stroke-width="1.1" stroke-dasharray="1.1 1.1"/>
<line x1="486.65000000000003" y1="389.53" x2="498.65000000000003" y2="407.56" stroke="#543" stroke-width="1.1" stroke-dasharray="1.1 1.1"/>
<line x1="486.65000000000003" y1="391.52" x2="498.65000000000003" y2="410.31" stroke="#543" stroke-width="1.1" stroke-dasharray="1.1 1.1"/>
<line x1="486.65000000000003" y1="415.50" x2="498.65000000000003" y2="422.68" stroke="#543" stroke-width="1.1" stroke-dasharray="1.1 1.1"/>
<rect x="484.3" y="381.84" width="4.7" height="5" fill="#45a23f"/>
<rect x="484.3" y="384.28" width="4.7" height="5" fill="#45a23f"/>
<rect x="484.3" y="387.03" width="4.7" height="5" fill="#45a23f"/>
<rect x="484.3" y="389.02" width="4.7" height="5" fill="#45a23f"/>
<rect x="484.3" y="413.00" width="4.7" height="5" fill="#45a23f"/>
<path d="M498.65000000000003 396.16 L501.05 401.36 L496.25000000000006 401.36 Z" fill="#b21832"/>
<path d="M498.65000000000003 404.56 L501.05 409.76 L496.25000000000006 409.76 Z" fill="#b21832"/>
<path d="M498.65000000000003 407.31 L501.05 412.51 L496.25000000000006 412.51 Z" fill="#b21832"/>
<path d="M498.65000000000003 419.68 L501.05 424.88 L496.25000000000006 424.88 Z" fill="#b21832"/>
<path d="M488 303 V299 H504.4 V303" fill="none" stroke="#333" stroke-width="1.3"/>
<text x="496.2" y="298.7" font-size="8.5" text-anchor="middle" fill="#333">***</text>
<line x1="233" y1="491" x2="249.5" y2="491" stroke="#333" stroke-width="1" stroke-dasharray="1 1.2"/>
<ellipse cx="244" cy="491.3" rx="3" ry="2.2" fill="#3f933d"/>
<text x="254.6" y="494.2" font-size="8.6" fill="#222" stroke="#222" stroke-width="0.08">CD57+FcεR1<tspan font-size="85%">γ</tspan>+</text>
<line x1="357.3" y1="491" x2="372.5" y2="491" stroke="#633" stroke-width="1" stroke-dasharray="1 1.2"/>
<path d="M366.1 487.8 L369.1 493.2 L363.1 493.2 Z" fill="#b21832"/>
<text x="377" y="494.2" font-size="8.6" fill="#222" stroke="#222" stroke-width="0.08">CD57+FcεR1<tspan font-size="85%">γ</tspan>–</text>
</svg></body></html>
